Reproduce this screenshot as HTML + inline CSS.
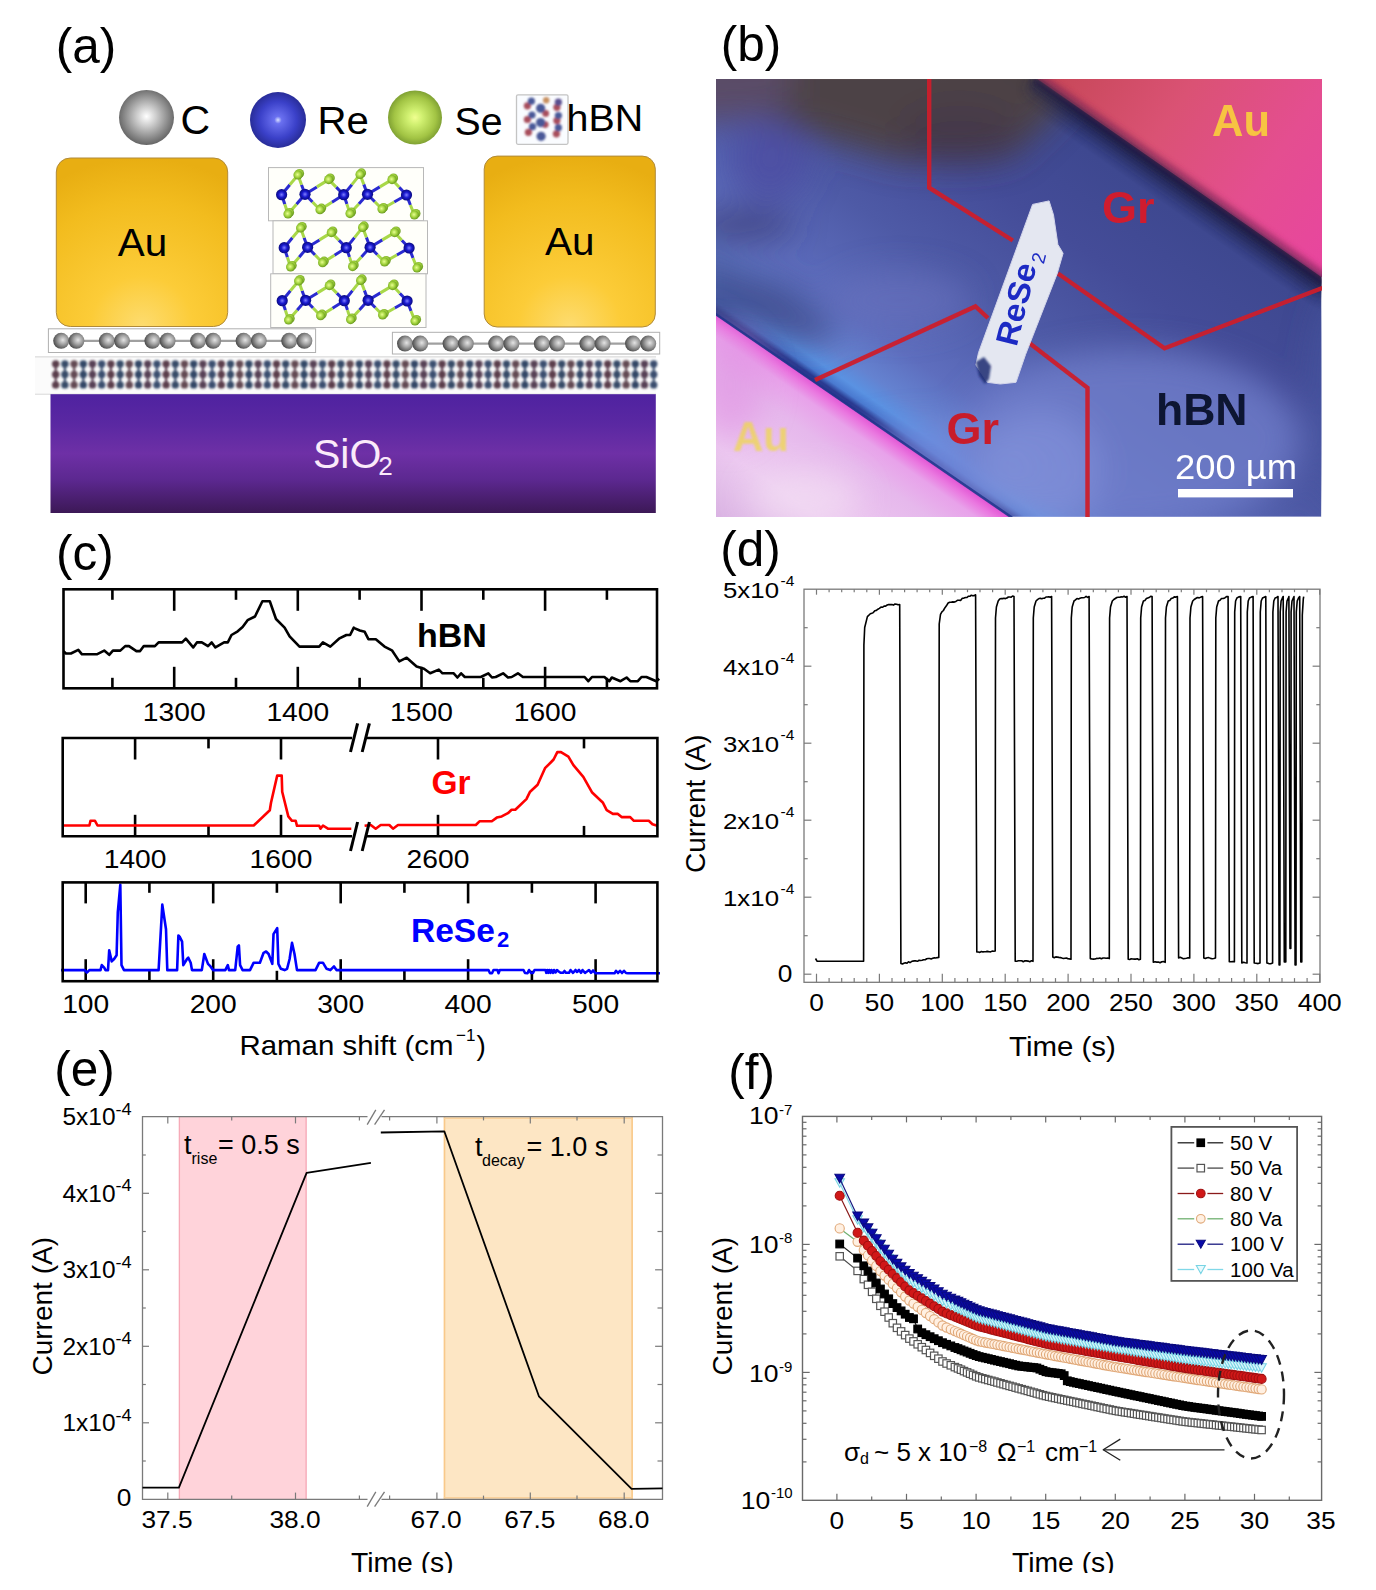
<!DOCTYPE html>
<html><head><meta charset="utf-8"><style>
html,body{margin:0;padding:0;background:#fff;overflow:hidden;width:1376px;height:1590px;}
svg{display:block;font-family:"Liberation Sans", sans-serif;}
</style></head><body>
<svg width="1376" height="1590" viewBox="0 0 1376 1590">
<defs>
<radialGradient id="gC" cx="0.5" cy="0.48" r="0.55"><stop offset="0" stop-color="#ffffff"/><stop offset="0.35" stop-color="#c8c8c8"/><stop offset="1" stop-color="#5c5c5c"/></radialGradient>
<radialGradient id="gRe" cx="0.5" cy="0.5" r="0.55"><stop offset="0" stop-color="#d8e0ff"/><stop offset="0.12" stop-color="#6a70f0"/><stop offset="0.6" stop-color="#3a40c8"/><stop offset="1" stop-color="#23278a"/></radialGradient>
<radialGradient id="gSe" cx="0.5" cy="0.5" r="0.55"><stop offset="0" stop-color="#f0ff90"/><stop offset="0.25" stop-color="#d0f070"/><stop offset="0.7" stop-color="#a2c444"/><stop offset="1" stop-color="#71922c"/></radialGradient>
<radialGradient id="gAu" cx="0.5" cy="1.0" r="1.0"><stop offset="0" stop-color="#fddc70"/><stop offset="0.3" stop-color="#fccc38"/><stop offset="0.75" stop-color="#f2bc1e"/><stop offset="1" stop-color="#e8ae12"/></radialGradient>
<radialGradient id="gGr" cx="0.6" cy="0.45" r="0.6"><stop offset="0" stop-color="#e4e4e4"/><stop offset="0.45" stop-color="#a4a4a4"/><stop offset="1" stop-color="#4a4a4a"/></radialGradient>
<linearGradient id="gSi" x1="0" y1="0" x2="0" y2="1"><stop offset="0" stop-color="#4f22a0"/><stop offset="0.25" stop-color="#5a28a2"/><stop offset="0.5" stop-color="#6e30a6"/><stop offset="0.72" stop-color="#5c2890"/><stop offset="1" stop-color="#3c1856"/></linearGradient>
<radialGradient id="gReS" cx="0.5" cy="0.5" r="0.5"><stop offset="0" stop-color="#8080ff"/><stop offset="0.5" stop-color="#1a1ad0"/><stop offset="1" stop-color="#0a0a80"/></radialGradient>
<radialGradient id="gSeS" cx="0.45" cy="0.45" r="0.55"><stop offset="0" stop-color="#e8ff90"/><stop offset="0.6" stop-color="#9ed03a"/><stop offset="1" stop-color="#6a9a20"/></radialGradient>

<filter id="bl07a" x="-20%" y="-20%" width="140%" height="140%"><feGaussianBlur stdDeviation="0.8"/></filter>
<g id="reLayer"><line x1="281.6" y1="194.7" x2="284.8" y2="204.3" stroke="#2a2ad0" stroke-width="3"/><line x1="284.8" y1="204.3" x2="288" y2="214" stroke="#a8d848" stroke-width="3"/><line x1="281.6" y1="194.7" x2="289.8" y2="184.8" stroke="#2a2ad0" stroke-width="3"/><line x1="289.8" y1="184.8" x2="298" y2="175" stroke="#a8d848" stroke-width="3"/><line x1="305" y1="194.3" x2="301.5" y2="184.7" stroke="#2a2ad0" stroke-width="3"/><line x1="301.5" y1="184.7" x2="298" y2="175" stroke="#a8d848" stroke-width="3"/><line x1="305" y1="194.3" x2="312.5" y2="202" stroke="#2a2ad0" stroke-width="3"/><line x1="312.5" y1="202" x2="320" y2="209.7" stroke="#a8d848" stroke-width="3"/><line x1="305" y1="194.3" x2="316.9" y2="186.9" stroke="#2a2ad0" stroke-width="3"/><line x1="316.9" y1="186.9" x2="328.7" y2="179.6" stroke="#a8d848" stroke-width="3"/><line x1="305" y1="194.3" x2="296.5" y2="204.2" stroke="#2a2ad0" stroke-width="3"/><line x1="296.5" y1="204.2" x2="288" y2="214" stroke="#a8d848" stroke-width="3"/><line x1="343.7" y1="194.7" x2="336.2" y2="187.1" stroke="#2a2ad0" stroke-width="3"/><line x1="336.2" y1="187.1" x2="328.7" y2="179.6" stroke="#a8d848" stroke-width="3"/><line x1="343.7" y1="194.7" x2="331.9" y2="202.2" stroke="#2a2ad0" stroke-width="3"/><line x1="331.9" y1="202.2" x2="320" y2="209.7" stroke="#a8d848" stroke-width="3"/><line x1="343.7" y1="194.7" x2="346.9" y2="204.1" stroke="#2a2ad0" stroke-width="3"/><line x1="346.9" y1="204.1" x2="350" y2="213.6" stroke="#a8d848" stroke-width="3"/><line x1="343.7" y1="194.7" x2="351.9" y2="184.6" stroke="#2a2ad0" stroke-width="3"/><line x1="351.9" y1="184.6" x2="360" y2="174.4" stroke="#a8d848" stroke-width="3"/><line x1="367.5" y1="194.3" x2="363.8" y2="184.4" stroke="#2a2ad0" stroke-width="3"/><line x1="363.8" y1="184.4" x2="360" y2="174.4" stroke="#a8d848" stroke-width="3"/><line x1="367.5" y1="194.3" x2="358.8" y2="203.9" stroke="#2a2ad0" stroke-width="3"/><line x1="358.8" y1="203.9" x2="350" y2="213.6" stroke="#a8d848" stroke-width="3"/><line x1="367.5" y1="194.3" x2="379.8" y2="186.9" stroke="#2a2ad0" stroke-width="3"/><line x1="379.8" y1="186.9" x2="392" y2="179.6" stroke="#a8d848" stroke-width="3"/><line x1="367.5" y1="194.3" x2="374.8" y2="201.7" stroke="#2a2ad0" stroke-width="3"/><line x1="374.8" y1="201.7" x2="382" y2="209" stroke="#a8d848" stroke-width="3"/><line x1="406.5" y1="195" x2="399.2" y2="187.3" stroke="#2a2ad0" stroke-width="3"/><line x1="399.2" y1="187.3" x2="392" y2="179.6" stroke="#a8d848" stroke-width="3"/><line x1="406.5" y1="195" x2="410.4" y2="205" stroke="#2a2ad0" stroke-width="3"/><line x1="410.4" y1="205" x2="414.4" y2="215" stroke="#a8d848" stroke-width="3"/><line x1="406.5" y1="195" x2="394.2" y2="202" stroke="#2a2ad0" stroke-width="3"/><line x1="394.2" y1="202" x2="382" y2="209" stroke="#a8d848" stroke-width="3"/><circle cx="299.5" cy="173.5" r="4.6" fill="url(#gSeS)"/><circle cx="298" cy="175" r="4.6" fill="url(#gSeS)"/><circle cx="330.2" cy="178.1" r="4.6" fill="url(#gSeS)"/><circle cx="328.7" cy="179.6" r="4.6" fill="url(#gSeS)"/><circle cx="361.5" cy="172.9" r="4.6" fill="url(#gSeS)"/><circle cx="360" cy="174.4" r="4.6" fill="url(#gSeS)"/><circle cx="393.5" cy="178.1" r="4.6" fill="url(#gSeS)"/><circle cx="392" cy="179.6" r="4.6" fill="url(#gSeS)"/><circle cx="289.5" cy="212.5" r="4.6" fill="url(#gSeS)"/><circle cx="288" cy="214" r="4.6" fill="url(#gSeS)"/><circle cx="321.5" cy="208.2" r="4.6" fill="url(#gSeS)"/><circle cx="320" cy="209.7" r="4.6" fill="url(#gSeS)"/><circle cx="351.5" cy="212.1" r="4.6" fill="url(#gSeS)"/><circle cx="350" cy="213.6" r="4.6" fill="url(#gSeS)"/><circle cx="383.5" cy="207.5" r="4.6" fill="url(#gSeS)"/><circle cx="382" cy="209" r="4.6" fill="url(#gSeS)"/><circle cx="415.9" cy="213.5" r="4.6" fill="url(#gSeS)"/><circle cx="414.4" cy="215" r="4.6" fill="url(#gSeS)"/><circle cx="281.6" cy="194.7" r="5.6" fill="url(#gReS)"/><circle cx="305" cy="194.3" r="5.6" fill="url(#gReS)"/><circle cx="343.7" cy="194.7" r="5.6" fill="url(#gReS)"/><circle cx="367.5" cy="194.3" r="5.6" fill="url(#gReS)"/><circle cx="406.5" cy="195" r="5.6" fill="url(#gReS)"/></g>
<filter id="blur06" x="-2%" y="-20%" width="104%" height="140%"><feGaussianBlur stdDeviation="0.8"/></filter>

<clipPath id="clipB"><rect x="716" y="79.5" width="605.3" height="437.3"/></clipPath>
<filter id="bl3" x="-20%" y="-20%" width="140%" height="140%"><feGaussianBlur stdDeviation="3"/></filter>
<filter id="bl6" x="-30%" y="-30%" width="160%" height="160%"><feGaussianBlur stdDeviation="6"/></filter>
<filter id="bl12" x="-50%" y="-50%" width="200%" height="200%"><feGaussianBlur stdDeviation="16"/></filter>
<filter id="bl1" x="-20%" y="-20%" width="140%" height="140%"><feGaussianBlur stdDeviation="1"/></filter>
<filter id="bl07" x="-20%" y="-20%" width="140%" height="140%"><feGaussianBlur stdDeviation="0.7"/></filter>
<linearGradient id="gBbase" gradientUnits="userSpaceOnUse" x1="1180" y1="179" x2="966" y2="487">
 <stop offset="0" stop-color="#1e1e46"/><stop offset="0.03" stop-color="#2e3878"/><stop offset="0.08" stop-color="#3e4890"/>
 <stop offset="0.3" stop-color="#444c98"/><stop offset="0.55" stop-color="#4e5aa6"/><stop offset="0.8" stop-color="#5e6ebe"/>
 <stop offset="0.9" stop-color="#6482d0"/><stop offset="0.95" stop-color="#5a92e2"/><stop offset="0.975" stop-color="#4a7ad0"/>
 <stop offset="0.99" stop-color="#2a3a90"/><stop offset="1" stop-color="#2a3a90"/></linearGradient>
<linearGradient id="gPinkTR" gradientUnits="userSpaceOnUse" x1="1060" y1="80" x2="1321" y2="260"><stop offset="0" stop-color="#c8485a"/><stop offset="0.35" stop-color="#da5274"/><stop offset="0.7" stop-color="#e44e90"/><stop offset="1" stop-color="#e8469e"/></linearGradient>
<linearGradient id="gPinkBL" gradientUnits="userSpaceOnUse" x1="862" y1="416" x2="760" y2="563"><stop offset="0" stop-color="#e45ad6"/><stop offset="0.04" stop-color="#ea78e0"/><stop offset="0.1" stop-color="#e8a2ea"/><stop offset="0.25" stop-color="#e6b8ec"/><stop offset="0.6" stop-color="#eccaf0"/><stop offset="1" stop-color="#d6aee0"/></linearGradient>
</defs>
<text x="55.7" y="62.6" font-size="49.5" fill="#000" text-anchor="start" font-weight="normal" >(a)</text>
<circle cx="146.5" cy="117.5" r="27.5" fill="url(#gC)"/>
<text x="180.5" y="134" font-size="41" fill="#000" text-anchor="start" font-weight="normal" >C</text>
<circle cx="278" cy="120" r="28" fill="url(#gRe)"/>
<text transform="translate(317.5,133.8) scale(1.030,1)" font-size="39" fill="#000" text-anchor="start" font-weight="normal" >Re</text>
<circle cx="415" cy="117.5" r="27" fill="url(#gSe)"/>
<text transform="translate(454.5,135.2) scale(1.020,1)" font-size="38.5" fill="#000" text-anchor="start" font-weight="normal" >Se</text>
<rect x="516.5" y="94.8" width="51.5" height="49.5" rx="1.5" fill="#fafcff" stroke="#c4c4c4" stroke-width="1.3"/>
<g filter="url(#bl07a)"><circle cx="527.4" cy="105.8" r="3.6" fill="#a84e5c"/><circle cx="531.4" cy="101.2" r="3.6" fill="#4a5898"/><circle cx="527.4" cy="119.5" r="3.6" fill="#a84e5c"/><circle cx="532" cy="115" r="3.6" fill="#4a5898"/><circle cx="528.4" cy="132.3" r="3.6" fill="#a84e5c"/><circle cx="532.5" cy="126.7" r="3.6" fill="#4a5898"/><circle cx="546.2" cy="100.2" r="3.2" fill="#c89060"/><circle cx="545.7" cy="113.4" r="3.4" fill="#a84e5c"/><circle cx="540.6" cy="108.3" r="4.6" fill="#4a5898"/><circle cx="545.2" cy="124.6" r="3.4" fill="#a84e5c"/><circle cx="540.6" cy="122.6" r="4.6" fill="#4a5898"/><circle cx="541.1" cy="136.3" r="4.6" fill="#4a5898"/><circle cx="556.9" cy="107.3" r="3.6" fill="#a84e5c"/><circle cx="558.4" cy="102.2" r="3.6" fill="#5a5090"/><circle cx="556.9" cy="120.6" r="3.6" fill="#a84e5c"/><circle cx="558.4" cy="115.5" r="3.6" fill="#4a5898"/><circle cx="556.4" cy="133.8" r="3.6" fill="#a84e5c"/><circle cx="558.4" cy="127.7" r="3.6" fill="#4a5898"/></g>
<text transform="translate(566.5,131.3) scale(1.050,1)" font-size="37.5" fill="#000" text-anchor="start" font-weight="normal" >hBN</text>
<rect x="56.3" y="158" width="171.4" height="168.5" rx="14" fill="url(#gAu)" stroke="#b08a3a" stroke-width="1"/>
<text transform="translate(117.8,256.3) scale(1.050,1)" font-size="38.5" fill="#000" text-anchor="start" font-weight="normal" >Au</text>
<rect x="484.2" y="156.1" width="171.1" height="170.9" rx="13" fill="url(#gAu)" stroke="#b08a3a" stroke-width="1"/>
<text transform="translate(545,255) scale(1.050,1)" font-size="38.5" fill="#000" text-anchor="start" font-weight="normal" >Au</text>
<rect x="268.5" y="167.6" width="155" height="53.2" fill="#fffffa" stroke="#b8b8b8" stroke-width="1" />
<rect x="273" y="220.8" width="154.5" height="53" fill="#fffffa" stroke="#b8b8b8" stroke-width="1" />
<rect x="270.7" y="273.8" width="155.3" height="53.7" fill="#fffffa" stroke="#b8b8b8" stroke-width="1" />
<use href="#reLayer" transform="translate(0,0)"/>
<use href="#reLayer" transform="translate(2.6,53)"/>
<use href="#reLayer" transform="translate(0.6,106)"/>
<rect x="48.4" y="328.8" width="267.2" height="23.7" fill="#fff" stroke="#b0b0b0" stroke-width="1" />
<line x1="61.2" y1="340.8" x2="304.4" y2="340.8" stroke="#a0a0a0" stroke-width="2.2" />
<circle cx="61.2" cy="340.8" r="8" fill="url(#gGr)"/>
<circle cx="76.4" cy="340.8" r="8" fill="url(#gGr)"/>
<circle cx="106.8" cy="340.8" r="8" fill="url(#gGr)"/>
<circle cx="122" cy="340.8" r="8" fill="url(#gGr)"/>
<circle cx="152.4" cy="340.8" r="8" fill="url(#gGr)"/>
<circle cx="167.6" cy="340.8" r="8" fill="url(#gGr)"/>
<circle cx="198" cy="340.8" r="8" fill="url(#gGr)"/>
<circle cx="213.2" cy="340.8" r="8" fill="url(#gGr)"/>
<circle cx="243.6" cy="340.8" r="8" fill="url(#gGr)"/>
<circle cx="258.8" cy="340.8" r="8" fill="url(#gGr)"/>
<circle cx="289.2" cy="340.8" r="8" fill="url(#gGr)"/>
<circle cx="304.4" cy="340.8" r="8" fill="url(#gGr)"/>
<rect x="392.4" y="332.3" width="267.3" height="21.7" fill="#fff" stroke="#b0b0b0" stroke-width="1" />
<line x1="405" y1="343.6" x2="648.2" y2="343.6" stroke="#a0a0a0" stroke-width="2.2" />
<circle cx="405" cy="343.6" r="8" fill="url(#gGr)"/>
<circle cx="420.2" cy="343.6" r="8" fill="url(#gGr)"/>
<circle cx="450.6" cy="343.6" r="8" fill="url(#gGr)"/>
<circle cx="465.8" cy="343.6" r="8" fill="url(#gGr)"/>
<circle cx="496.2" cy="343.6" r="8" fill="url(#gGr)"/>
<circle cx="511.4" cy="343.6" r="8" fill="url(#gGr)"/>
<circle cx="541.8" cy="343.6" r="8" fill="url(#gGr)"/>
<circle cx="557" cy="343.6" r="8" fill="url(#gGr)"/>
<circle cx="587.4" cy="343.6" r="8" fill="url(#gGr)"/>
<circle cx="602.6" cy="343.6" r="8" fill="url(#gGr)"/>
<circle cx="633" cy="343.6" r="8" fill="url(#gGr)"/>
<circle cx="648.2" cy="343.6" r="8" fill="url(#gGr)"/>
<line x1="35" y1="357" x2="656" y2="357" stroke="#c8c8c8" stroke-width="1.2" />
<line x1="35" y1="394" x2="656" y2="394" stroke="#c8c8c8" stroke-width="1.2" />
<rect x="35" y="357.6" width="621" height="36" fill="#fbfbfb" stroke="none" stroke-width="1" />
<g filter="url(#blur06)" opacity="0.92"><line x1="55.7" y1="364" x2="55.7" y2="385" stroke="#4e2e3e" stroke-width="2.2"/><circle cx="55.7" cy="364" r="3.7" fill="#4e2e3e"/><circle cx="55.7" cy="374.4" r="3.7" fill="#4e2e3e"/><circle cx="55.7" cy="384.9" r="3.7" fill="#4e2e3e"/><line x1="64.9" y1="364" x2="64.9" y2="385" stroke="#263c5c" stroke-width="2.2"/><circle cx="64.9" cy="364" r="3.7" fill="#263c5c"/><circle cx="64.9" cy="374.4" r="3.7" fill="#263c5c"/><circle cx="64.9" cy="384.9" r="3.7" fill="#263c5c"/><line x1="74.1" y1="364" x2="74.1" y2="385" stroke="#563a44" stroke-width="2.2"/><circle cx="74.1" cy="364" r="3.7" fill="#563a44"/><circle cx="74.1" cy="374.4" r="3.7" fill="#563a44"/><circle cx="74.1" cy="384.9" r="3.7" fill="#563a44"/><line x1="83.3" y1="364" x2="83.3" y2="385" stroke="#22385a" stroke-width="2.2"/><circle cx="83.3" cy="364" r="3.7" fill="#22385a"/><circle cx="83.3" cy="374.4" r="3.7" fill="#22385a"/><circle cx="83.3" cy="384.9" r="3.7" fill="#22385a"/><line x1="92.5" y1="364" x2="92.5" y2="385" stroke="#4a3046" stroke-width="2.2"/><circle cx="92.5" cy="364" r="3.7" fill="#4a3046"/><circle cx="92.5" cy="374.4" r="3.7" fill="#4a3046"/><circle cx="92.5" cy="384.9" r="3.7" fill="#4a3046"/><line x1="101.7" y1="364" x2="101.7" y2="385" stroke="#2a4064" stroke-width="2.2"/><circle cx="101.7" cy="364" r="3.7" fill="#2a4064"/><circle cx="101.7" cy="374.4" r="3.7" fill="#2a4064"/><circle cx="101.7" cy="384.9" r="3.7" fill="#2a4064"/><line x1="110.9" y1="364" x2="110.9" y2="385" stroke="#4e2e3e" stroke-width="2.2"/><circle cx="110.9" cy="364" r="3.7" fill="#4e2e3e"/><circle cx="110.9" cy="374.4" r="3.7" fill="#4e2e3e"/><circle cx="110.9" cy="384.9" r="3.7" fill="#4e2e3e"/><line x1="120.1" y1="364" x2="120.1" y2="385" stroke="#263c5c" stroke-width="2.2"/><circle cx="120.1" cy="364" r="3.7" fill="#263c5c"/><circle cx="120.1" cy="374.4" r="3.7" fill="#263c5c"/><circle cx="120.1" cy="384.9" r="3.7" fill="#263c5c"/><line x1="129.3" y1="364" x2="129.3" y2="385" stroke="#563a44" stroke-width="2.2"/><circle cx="129.3" cy="364" r="3.7" fill="#563a44"/><circle cx="129.3" cy="374.4" r="3.7" fill="#563a44"/><circle cx="129.3" cy="384.9" r="3.7" fill="#563a44"/><line x1="138.5" y1="364" x2="138.5" y2="385" stroke="#22385a" stroke-width="2.2"/><circle cx="138.5" cy="364" r="3.7" fill="#22385a"/><circle cx="138.5" cy="374.4" r="3.7" fill="#22385a"/><circle cx="138.5" cy="384.9" r="3.7" fill="#22385a"/><line x1="147.7" y1="364" x2="147.7" y2="385" stroke="#4a3046" stroke-width="2.2"/><circle cx="147.7" cy="364" r="3.7" fill="#4a3046"/><circle cx="147.7" cy="374.4" r="3.7" fill="#4a3046"/><circle cx="147.7" cy="384.9" r="3.7" fill="#4a3046"/><line x1="156.9" y1="364" x2="156.9" y2="385" stroke="#2a4064" stroke-width="2.2"/><circle cx="156.9" cy="364" r="3.7" fill="#2a4064"/><circle cx="156.9" cy="374.4" r="3.7" fill="#2a4064"/><circle cx="156.9" cy="384.9" r="3.7" fill="#2a4064"/><line x1="166.1" y1="364" x2="166.1" y2="385" stroke="#4e2e3e" stroke-width="2.2"/><circle cx="166.1" cy="364" r="3.7" fill="#4e2e3e"/><circle cx="166.1" cy="374.4" r="3.7" fill="#4e2e3e"/><circle cx="166.1" cy="384.9" r="3.7" fill="#4e2e3e"/><line x1="175.3" y1="364" x2="175.3" y2="385" stroke="#263c5c" stroke-width="2.2"/><circle cx="175.3" cy="364" r="3.7" fill="#263c5c"/><circle cx="175.3" cy="374.4" r="3.7" fill="#263c5c"/><circle cx="175.3" cy="384.9" r="3.7" fill="#263c5c"/><line x1="184.5" y1="364" x2="184.5" y2="385" stroke="#563a44" stroke-width="2.2"/><circle cx="184.5" cy="364" r="3.7" fill="#563a44"/><circle cx="184.5" cy="374.4" r="3.7" fill="#563a44"/><circle cx="184.5" cy="384.9" r="3.7" fill="#563a44"/><line x1="193.7" y1="364" x2="193.7" y2="385" stroke="#22385a" stroke-width="2.2"/><circle cx="193.7" cy="364" r="3.7" fill="#22385a"/><circle cx="193.7" cy="374.4" r="3.7" fill="#22385a"/><circle cx="193.7" cy="384.9" r="3.7" fill="#22385a"/><line x1="202.9" y1="364" x2="202.9" y2="385" stroke="#4a3046" stroke-width="2.2"/><circle cx="202.9" cy="364" r="3.7" fill="#4a3046"/><circle cx="202.9" cy="374.4" r="3.7" fill="#4a3046"/><circle cx="202.9" cy="384.9" r="3.7" fill="#4a3046"/><line x1="212.1" y1="364" x2="212.1" y2="385" stroke="#2a4064" stroke-width="2.2"/><circle cx="212.1" cy="364" r="3.7" fill="#2a4064"/><circle cx="212.1" cy="374.4" r="3.7" fill="#2a4064"/><circle cx="212.1" cy="384.9" r="3.7" fill="#2a4064"/><line x1="221.3" y1="364" x2="221.3" y2="385" stroke="#4e2e3e" stroke-width="2.2"/><circle cx="221.3" cy="364" r="3.7" fill="#4e2e3e"/><circle cx="221.3" cy="374.4" r="3.7" fill="#4e2e3e"/><circle cx="221.3" cy="384.9" r="3.7" fill="#4e2e3e"/><line x1="230.5" y1="364" x2="230.5" y2="385" stroke="#263c5c" stroke-width="2.2"/><circle cx="230.5" cy="364" r="3.7" fill="#263c5c"/><circle cx="230.5" cy="374.4" r="3.7" fill="#263c5c"/><circle cx="230.5" cy="384.9" r="3.7" fill="#263c5c"/><line x1="239.7" y1="364" x2="239.7" y2="385" stroke="#563a44" stroke-width="2.2"/><circle cx="239.7" cy="364" r="3.7" fill="#563a44"/><circle cx="239.7" cy="374.4" r="3.7" fill="#563a44"/><circle cx="239.7" cy="384.9" r="3.7" fill="#563a44"/><line x1="248.9" y1="364" x2="248.9" y2="385" stroke="#22385a" stroke-width="2.2"/><circle cx="248.9" cy="364" r="3.7" fill="#22385a"/><circle cx="248.9" cy="374.4" r="3.7" fill="#22385a"/><circle cx="248.9" cy="384.9" r="3.7" fill="#22385a"/><line x1="258.1" y1="364" x2="258.1" y2="385" stroke="#4a3046" stroke-width="2.2"/><circle cx="258.1" cy="364" r="3.7" fill="#4a3046"/><circle cx="258.1" cy="374.4" r="3.7" fill="#4a3046"/><circle cx="258.1" cy="384.9" r="3.7" fill="#4a3046"/><line x1="267.3" y1="364" x2="267.3" y2="385" stroke="#2a4064" stroke-width="2.2"/><circle cx="267.3" cy="364" r="3.7" fill="#2a4064"/><circle cx="267.3" cy="374.4" r="3.7" fill="#2a4064"/><circle cx="267.3" cy="384.9" r="3.7" fill="#2a4064"/><line x1="276.5" y1="364" x2="276.5" y2="385" stroke="#4e2e3e" stroke-width="2.2"/><circle cx="276.5" cy="364" r="3.7" fill="#4e2e3e"/><circle cx="276.5" cy="374.4" r="3.7" fill="#4e2e3e"/><circle cx="276.5" cy="384.9" r="3.7" fill="#4e2e3e"/><line x1="285.7" y1="364" x2="285.7" y2="385" stroke="#263c5c" stroke-width="2.2"/><circle cx="285.7" cy="364" r="3.7" fill="#263c5c"/><circle cx="285.7" cy="374.4" r="3.7" fill="#263c5c"/><circle cx="285.7" cy="384.9" r="3.7" fill="#263c5c"/><line x1="294.9" y1="364" x2="294.9" y2="385" stroke="#563a44" stroke-width="2.2"/><circle cx="294.9" cy="364" r="3.7" fill="#563a44"/><circle cx="294.9" cy="374.4" r="3.7" fill="#563a44"/><circle cx="294.9" cy="384.9" r="3.7" fill="#563a44"/><line x1="304.1" y1="364" x2="304.1" y2="385" stroke="#22385a" stroke-width="2.2"/><circle cx="304.1" cy="364" r="3.7" fill="#22385a"/><circle cx="304.1" cy="374.4" r="3.7" fill="#22385a"/><circle cx="304.1" cy="384.9" r="3.7" fill="#22385a"/><line x1="313.3" y1="364" x2="313.3" y2="385" stroke="#4a3046" stroke-width="2.2"/><circle cx="313.3" cy="364" r="3.7" fill="#4a3046"/><circle cx="313.3" cy="374.4" r="3.7" fill="#4a3046"/><circle cx="313.3" cy="384.9" r="3.7" fill="#4a3046"/><line x1="322.5" y1="364" x2="322.5" y2="385" stroke="#2a4064" stroke-width="2.2"/><circle cx="322.5" cy="364" r="3.7" fill="#2a4064"/><circle cx="322.5" cy="374.4" r="3.7" fill="#2a4064"/><circle cx="322.5" cy="384.9" r="3.7" fill="#2a4064"/><line x1="331.7" y1="364" x2="331.7" y2="385" stroke="#4e2e3e" stroke-width="2.2"/><circle cx="331.7" cy="364" r="3.7" fill="#4e2e3e"/><circle cx="331.7" cy="374.4" r="3.7" fill="#4e2e3e"/><circle cx="331.7" cy="384.9" r="3.7" fill="#4e2e3e"/><line x1="340.9" y1="364" x2="340.9" y2="385" stroke="#263c5c" stroke-width="2.2"/><circle cx="340.9" cy="364" r="3.7" fill="#263c5c"/><circle cx="340.9" cy="374.4" r="3.7" fill="#263c5c"/><circle cx="340.9" cy="384.9" r="3.7" fill="#263c5c"/><line x1="350.1" y1="364" x2="350.1" y2="385" stroke="#563a44" stroke-width="2.2"/><circle cx="350.1" cy="364" r="3.7" fill="#563a44"/><circle cx="350.1" cy="374.4" r="3.7" fill="#563a44"/><circle cx="350.1" cy="384.9" r="3.7" fill="#563a44"/><line x1="359.3" y1="364" x2="359.3" y2="385" stroke="#22385a" stroke-width="2.2"/><circle cx="359.3" cy="364" r="3.7" fill="#22385a"/><circle cx="359.3" cy="374.4" r="3.7" fill="#22385a"/><circle cx="359.3" cy="384.9" r="3.7" fill="#22385a"/><line x1="368.5" y1="364" x2="368.5" y2="385" stroke="#4a3046" stroke-width="2.2"/><circle cx="368.5" cy="364" r="3.7" fill="#4a3046"/><circle cx="368.5" cy="374.4" r="3.7" fill="#4a3046"/><circle cx="368.5" cy="384.9" r="3.7" fill="#4a3046"/><line x1="377.7" y1="364" x2="377.7" y2="385" stroke="#2a4064" stroke-width="2.2"/><circle cx="377.7" cy="364" r="3.7" fill="#2a4064"/><circle cx="377.7" cy="374.4" r="3.7" fill="#2a4064"/><circle cx="377.7" cy="384.9" r="3.7" fill="#2a4064"/><line x1="386.9" y1="364" x2="386.9" y2="385" stroke="#4e2e3e" stroke-width="2.2"/><circle cx="386.9" cy="364" r="3.7" fill="#4e2e3e"/><circle cx="386.9" cy="374.4" r="3.7" fill="#4e2e3e"/><circle cx="386.9" cy="384.9" r="3.7" fill="#4e2e3e"/><line x1="396.1" y1="364" x2="396.1" y2="385" stroke="#263c5c" stroke-width="2.2"/><circle cx="396.1" cy="364" r="3.7" fill="#263c5c"/><circle cx="396.1" cy="374.4" r="3.7" fill="#263c5c"/><circle cx="396.1" cy="384.9" r="3.7" fill="#263c5c"/><line x1="405.3" y1="364" x2="405.3" y2="385" stroke="#563a44" stroke-width="2.2"/><circle cx="405.3" cy="364" r="3.7" fill="#563a44"/><circle cx="405.3" cy="374.4" r="3.7" fill="#563a44"/><circle cx="405.3" cy="384.9" r="3.7" fill="#563a44"/><line x1="414.5" y1="364" x2="414.5" y2="385" stroke="#22385a" stroke-width="2.2"/><circle cx="414.5" cy="364" r="3.7" fill="#22385a"/><circle cx="414.5" cy="374.4" r="3.7" fill="#22385a"/><circle cx="414.5" cy="384.9" r="3.7" fill="#22385a"/><line x1="423.7" y1="364" x2="423.7" y2="385" stroke="#4a3046" stroke-width="2.2"/><circle cx="423.7" cy="364" r="3.7" fill="#4a3046"/><circle cx="423.7" cy="374.4" r="3.7" fill="#4a3046"/><circle cx="423.7" cy="384.9" r="3.7" fill="#4a3046"/><line x1="432.9" y1="364" x2="432.9" y2="385" stroke="#2a4064" stroke-width="2.2"/><circle cx="432.9" cy="364" r="3.7" fill="#2a4064"/><circle cx="432.9" cy="374.4" r="3.7" fill="#2a4064"/><circle cx="432.9" cy="384.9" r="3.7" fill="#2a4064"/><line x1="442.1" y1="364" x2="442.1" y2="385" stroke="#4e2e3e" stroke-width="2.2"/><circle cx="442.1" cy="364" r="3.7" fill="#4e2e3e"/><circle cx="442.1" cy="374.4" r="3.7" fill="#4e2e3e"/><circle cx="442.1" cy="384.9" r="3.7" fill="#4e2e3e"/><line x1="451.3" y1="364" x2="451.3" y2="385" stroke="#263c5c" stroke-width="2.2"/><circle cx="451.3" cy="364" r="3.7" fill="#263c5c"/><circle cx="451.3" cy="374.4" r="3.7" fill="#263c5c"/><circle cx="451.3" cy="384.9" r="3.7" fill="#263c5c"/><line x1="460.5" y1="364" x2="460.5" y2="385" stroke="#563a44" stroke-width="2.2"/><circle cx="460.5" cy="364" r="3.7" fill="#563a44"/><circle cx="460.5" cy="374.4" r="3.7" fill="#563a44"/><circle cx="460.5" cy="384.9" r="3.7" fill="#563a44"/><line x1="469.7" y1="364" x2="469.7" y2="385" stroke="#22385a" stroke-width="2.2"/><circle cx="469.7" cy="364" r="3.7" fill="#22385a"/><circle cx="469.7" cy="374.4" r="3.7" fill="#22385a"/><circle cx="469.7" cy="384.9" r="3.7" fill="#22385a"/><line x1="478.9" y1="364" x2="478.9" y2="385" stroke="#4a3046" stroke-width="2.2"/><circle cx="478.9" cy="364" r="3.7" fill="#4a3046"/><circle cx="478.9" cy="374.4" r="3.7" fill="#4a3046"/><circle cx="478.9" cy="384.9" r="3.7" fill="#4a3046"/><line x1="488.1" y1="364" x2="488.1" y2="385" stroke="#2a4064" stroke-width="2.2"/><circle cx="488.1" cy="364" r="3.7" fill="#2a4064"/><circle cx="488.1" cy="374.4" r="3.7" fill="#2a4064"/><circle cx="488.1" cy="384.9" r="3.7" fill="#2a4064"/><line x1="497.3" y1="364" x2="497.3" y2="385" stroke="#4e2e3e" stroke-width="2.2"/><circle cx="497.3" cy="364" r="3.7" fill="#4e2e3e"/><circle cx="497.3" cy="374.4" r="3.7" fill="#4e2e3e"/><circle cx="497.3" cy="384.9" r="3.7" fill="#4e2e3e"/><line x1="506.5" y1="364" x2="506.5" y2="385" stroke="#263c5c" stroke-width="2.2"/><circle cx="506.5" cy="364" r="3.7" fill="#263c5c"/><circle cx="506.5" cy="374.4" r="3.7" fill="#263c5c"/><circle cx="506.5" cy="384.9" r="3.7" fill="#263c5c"/><line x1="515.7" y1="364" x2="515.7" y2="385" stroke="#563a44" stroke-width="2.2"/><circle cx="515.7" cy="364" r="3.7" fill="#563a44"/><circle cx="515.7" cy="374.4" r="3.7" fill="#563a44"/><circle cx="515.7" cy="384.9" r="3.7" fill="#563a44"/><line x1="524.9" y1="364" x2="524.9" y2="385" stroke="#22385a" stroke-width="2.2"/><circle cx="524.9" cy="364" r="3.7" fill="#22385a"/><circle cx="524.9" cy="374.4" r="3.7" fill="#22385a"/><circle cx="524.9" cy="384.9" r="3.7" fill="#22385a"/><line x1="534.1" y1="364" x2="534.1" y2="385" stroke="#4a3046" stroke-width="2.2"/><circle cx="534.1" cy="364" r="3.7" fill="#4a3046"/><circle cx="534.1" cy="374.4" r="3.7" fill="#4a3046"/><circle cx="534.1" cy="384.9" r="3.7" fill="#4a3046"/><line x1="543.3" y1="364" x2="543.3" y2="385" stroke="#2a4064" stroke-width="2.2"/><circle cx="543.3" cy="364" r="3.7" fill="#2a4064"/><circle cx="543.3" cy="374.4" r="3.7" fill="#2a4064"/><circle cx="543.3" cy="384.9" r="3.7" fill="#2a4064"/><line x1="552.5" y1="364" x2="552.5" y2="385" stroke="#4e2e3e" stroke-width="2.2"/><circle cx="552.5" cy="364" r="3.7" fill="#4e2e3e"/><circle cx="552.5" cy="374.4" r="3.7" fill="#4e2e3e"/><circle cx="552.5" cy="384.9" r="3.7" fill="#4e2e3e"/><line x1="561.7" y1="364" x2="561.7" y2="385" stroke="#263c5c" stroke-width="2.2"/><circle cx="561.7" cy="364" r="3.7" fill="#263c5c"/><circle cx="561.7" cy="374.4" r="3.7" fill="#263c5c"/><circle cx="561.7" cy="384.9" r="3.7" fill="#263c5c"/><line x1="570.9" y1="364" x2="570.9" y2="385" stroke="#563a44" stroke-width="2.2"/><circle cx="570.9" cy="364" r="3.7" fill="#563a44"/><circle cx="570.9" cy="374.4" r="3.7" fill="#563a44"/><circle cx="570.9" cy="384.9" r="3.7" fill="#563a44"/><line x1="580.1" y1="364" x2="580.1" y2="385" stroke="#22385a" stroke-width="2.2"/><circle cx="580.1" cy="364" r="3.7" fill="#22385a"/><circle cx="580.1" cy="374.4" r="3.7" fill="#22385a"/><circle cx="580.1" cy="384.9" r="3.7" fill="#22385a"/><line x1="589.3" y1="364" x2="589.3" y2="385" stroke="#4a3046" stroke-width="2.2"/><circle cx="589.3" cy="364" r="3.7" fill="#4a3046"/><circle cx="589.3" cy="374.4" r="3.7" fill="#4a3046"/><circle cx="589.3" cy="384.9" r="3.7" fill="#4a3046"/><line x1="598.5" y1="364" x2="598.5" y2="385" stroke="#2a4064" stroke-width="2.2"/><circle cx="598.5" cy="364" r="3.7" fill="#2a4064"/><circle cx="598.5" cy="374.4" r="3.7" fill="#2a4064"/><circle cx="598.5" cy="384.9" r="3.7" fill="#2a4064"/><line x1="607.7" y1="364" x2="607.7" y2="385" stroke="#4e2e3e" stroke-width="2.2"/><circle cx="607.7" cy="364" r="3.7" fill="#4e2e3e"/><circle cx="607.7" cy="374.4" r="3.7" fill="#4e2e3e"/><circle cx="607.7" cy="384.9" r="3.7" fill="#4e2e3e"/><line x1="616.9" y1="364" x2="616.9" y2="385" stroke="#263c5c" stroke-width="2.2"/><circle cx="616.9" cy="364" r="3.7" fill="#263c5c"/><circle cx="616.9" cy="374.4" r="3.7" fill="#263c5c"/><circle cx="616.9" cy="384.9" r="3.7" fill="#263c5c"/><line x1="626.1" y1="364" x2="626.1" y2="385" stroke="#563a44" stroke-width="2.2"/><circle cx="626.1" cy="364" r="3.7" fill="#563a44"/><circle cx="626.1" cy="374.4" r="3.7" fill="#563a44"/><circle cx="626.1" cy="384.9" r="3.7" fill="#563a44"/><line x1="635.3" y1="364" x2="635.3" y2="385" stroke="#22385a" stroke-width="2.2"/><circle cx="635.3" cy="364" r="3.7" fill="#22385a"/><circle cx="635.3" cy="374.4" r="3.7" fill="#22385a"/><circle cx="635.3" cy="384.9" r="3.7" fill="#22385a"/><line x1="644.5" y1="364" x2="644.5" y2="385" stroke="#4a3046" stroke-width="2.2"/><circle cx="644.5" cy="364" r="3.7" fill="#4a3046"/><circle cx="644.5" cy="374.4" r="3.7" fill="#4a3046"/><circle cx="644.5" cy="384.9" r="3.7" fill="#4a3046"/><line x1="653.7" y1="364" x2="653.7" y2="385" stroke="#2a4064" stroke-width="2.2"/><circle cx="653.7" cy="364" r="3.7" fill="#2a4064"/><circle cx="653.7" cy="374.4" r="3.7" fill="#2a4064"/><circle cx="653.7" cy="384.9" r="3.7" fill="#2a4064"/></g>
<rect x="50.5" y="394.2" width="605.3" height="118.8" fill="url(#gSi)" stroke="none" stroke-width="1" />
<text x="313" y="467.5" font-size="41" fill="#fbeafa" text-anchor="start" font-weight="normal" >SiO</text>
<text x="378.3" y="474.5" font-size="26" fill="#fbeafa" text-anchor="start" font-weight="normal" >2</text>
<text x="720.7" y="61" font-size="49.5" fill="#000" text-anchor="start" font-weight="normal" >(b)</text>
<g clip-path="url(#clipB)">
<rect x="716" y="79.5" width="605.3" height="437.3" fill="url(#gBbase)" stroke="none" stroke-width="1" />
<g filter="url(#bl12)">
<polygon points="680,40 1060,40 1075,95 1010,158 905,162 810,135 760,112 680,112" fill="#4e4040" opacity="0.95"/>
<polygon points="680,40 790,40 790,100 760,118 680,125" fill="#5c4c6a" opacity="0.9"/>
<ellipse cx="960" cy="135" rx="60" ry="30" fill="#40344a" opacity="0.7"/>
<ellipse cx="770" cy="160" rx="38" ry="40" fill="#4e4ca2" opacity="0.8"/>
<ellipse cx="740" cy="225" rx="55" ry="16" fill="#383870" opacity="0.7"/>
<polygon points="690,250 790,285 840,330 820,345 690,320" fill="#3e4a8c" opacity="0.85"/>
<ellipse cx="900" cy="300" rx="70" ry="28" fill="#6870bc" opacity="0.6"/>
<ellipse cx="930" cy="470" rx="110" ry="45" fill="#7888d8" opacity="0.7"/>
<ellipse cx="1130" cy="440" rx="170" ry="90" fill="#7280cc" opacity="0.75"/>
<ellipse cx="1040" cy="470" rx="60" ry="60" fill="#8494dc" opacity="0.6"/>
<ellipse cx="1340" cy="400" rx="30" ry="110" fill="#4a58a4" opacity="0.6"/>
</g>
<polygon points="1030,74 1330,74 1330,283" fill="url(#gPinkTR)"/>
<line x1="1030" y1="84" x2="1325" y2="291" stroke="#26264e" stroke-width="14" opacity="0.6" filter="url(#bl6)"/>
<line x1="1034" y1="80" x2="1325" y2="284" stroke="#1e1c44" stroke-width="8" opacity="0.8" filter="url(#bl3)"/>
<line x1="1040" y1="76" x2="1330" y2="279" stroke="#902c58" stroke-width="6" opacity="0.6" filter="url(#bl3)"/>
<polygon points="706,308.4 1016,521.3 706,521.3" fill="url(#gPinkBL)"/>
<ellipse cx="805" cy="498" rx="55" ry="28" fill="#f4e2f4" opacity="0.6" filter="url(#bl12)"/>
<ellipse cx="730" cy="385" rx="35" ry="55" fill="#e08ee2" opacity="0.55" filter="url(#bl12)"/>
<line x1="712" y1="311.6" x2="1012" y2="517.6" stroke="#22348c" stroke-width="2.5" opacity="0.85" filter="url(#bl07)"/>
<g filter="url(#bl07)">
<polyline points="929.2,76 929.2,187.7 1012.8,240.5" fill="none" stroke="#cc1f2d" stroke-width="4.4" stroke-linejoin="miter" opacity="0.95"/>
<polyline points="1058,273.5 1164.5,348.2 1325,287" fill="none" stroke="#cc1f2d" stroke-width="4.4" stroke-linejoin="miter" opacity="0.95"/>
<polyline points="815,380 975.4,306.4 988,318" fill="none" stroke="#cc1f2d" stroke-width="4.4" stroke-linejoin="miter" opacity="0.95"/>
<polyline points="1028,342 1087.5,387.8 1087.5,520" fill="none" stroke="#cc1f2d" stroke-width="4.4" stroke-linejoin="miter" opacity="0.95"/>
</g>
<polygon points="1032.6,204.4 1049.1,200.9 1053.5,214.9 1057.9,244.5 1063.1,253.3 1057,274.2 1025.6,354.4 1016,382.3 1000.3,384 987.2,382.3 975.9,364.9 978.5,352.7" fill="#e4e7f1" stroke="#d4d6ea" stroke-width="1" filter="url(#bl07)"/>
<polygon points="976,362 984,357 991,366 989,379 985,384 979,376" fill="#1a2a70" opacity="0.85" filter="url(#bl1)"/>
<g filter="url(#bl07)">
<g transform="translate(1016.5,347.5) rotate(-76)"><text x="0" y="0" font-size="31.5" font-weight="bold" fill="#1c2ac4" textLength="84" lengthAdjust="spacingAndGlyphs">ReSe</text><text x="87" y="6.5" font-size="19" fill="#1c2ac4">2</text></g>
<text x="1212" y="135.5" font-size="43.5" fill="#f7c342" text-anchor="start" font-weight="bold" >Au</text>
<text x="1102" y="222.5" font-size="45" fill="#d01e2e" text-anchor="start" font-weight="bold" >Gr</text>
<text x="946.5" y="443.5" font-size="45" fill="#c81e2c" text-anchor="start" font-weight="bold" >Gr</text>
<text x="733" y="451" font-size="42" font-weight="bold" fill="#f0dc38" opacity="0.65" filter="url(#bl1)">Au</text>
<text x="1156" y="424.5" font-size="44.5" fill="#0c1230" text-anchor="start" font-weight="bold" >hBN</text>
</g>
<text transform="translate(1175,478.5) scale(1.040,1)" font-size="35" fill="#ffffff" text-anchor="start" font-weight="normal" >200 µm</text>
<rect x="1178" y="489" width="115" height="8.4" fill="#ffffff" stroke="none" stroke-width="1" />
</g>
<text x="56" y="570" font-size="49.5" fill="#000" text-anchor="start" font-weight="normal" >(c)</text>
<line x1="174.2" y1="589.3" x2="174.2" y2="610.8" stroke="#000" stroke-width="2.6" />
<line x1="174.2" y1="688.3" x2="174.2" y2="666.8" stroke="#000" stroke-width="2.6" />
<text transform="translate(174.2,720.5) scale(1.130,1)" font-size="25" fill="#000" text-anchor="middle" font-weight="normal" >1300</text>
<line x1="297.8" y1="589.3" x2="297.8" y2="610.8" stroke="#000" stroke-width="2.6" />
<line x1="297.8" y1="688.3" x2="297.8" y2="666.8" stroke="#000" stroke-width="2.6" />
<text transform="translate(297.8,720.5) scale(1.130,1)" font-size="25" fill="#000" text-anchor="middle" font-weight="normal" >1400</text>
<line x1="421.5" y1="589.3" x2="421.5" y2="610.8" stroke="#000" stroke-width="2.6" />
<line x1="421.5" y1="688.3" x2="421.5" y2="666.8" stroke="#000" stroke-width="2.6" />
<text transform="translate(421.5,720.5) scale(1.130,1)" font-size="25" fill="#000" text-anchor="middle" font-weight="normal" >1500</text>
<line x1="545.1" y1="589.3" x2="545.1" y2="610.8" stroke="#000" stroke-width="2.6" />
<line x1="545.1" y1="688.3" x2="545.1" y2="666.8" stroke="#000" stroke-width="2.6" />
<text transform="translate(545.1,720.5) scale(1.130,1)" font-size="25" fill="#000" text-anchor="middle" font-weight="normal" >1600</text>
<line x1="112.4" y1="589.3" x2="112.4" y2="599.8" stroke="#000" stroke-width="2.6" />
<line x1="112.4" y1="688.3" x2="112.4" y2="677.8" stroke="#000" stroke-width="2.6" />
<line x1="236" y1="589.3" x2="236" y2="599.8" stroke="#000" stroke-width="2.6" />
<line x1="236" y1="688.3" x2="236" y2="677.8" stroke="#000" stroke-width="2.6" />
<line x1="359.6" y1="589.3" x2="359.6" y2="599.8" stroke="#000" stroke-width="2.6" />
<line x1="359.6" y1="688.3" x2="359.6" y2="677.8" stroke="#000" stroke-width="2.6" />
<line x1="483.3" y1="589.3" x2="483.3" y2="599.8" stroke="#000" stroke-width="2.6" />
<line x1="483.3" y1="688.3" x2="483.3" y2="677.8" stroke="#000" stroke-width="2.6" />
<line x1="606.9" y1="589.3" x2="606.9" y2="599.8" stroke="#000" stroke-width="2.6" />
<line x1="606.9" y1="688.3" x2="606.9" y2="677.8" stroke="#000" stroke-width="2.6" />
<polyline points="63.5,651.1 65.9,653.5 70.9,653.5 78.3,649.8 82,654.3 96.8,654.3 104.2,650.6 109.2,654.8 112.9,650.6 120.3,650.6 125.2,646.1 129,646.1 136.4,651.1 140.1,651.1 143.8,646.1 154.9,646.1 158.6,642.4 182.1,642.4 185.8,638.7 193.2,647.4 196.9,642.4 201.8,642.4 208,646.1 211.7,642.4 215.4,647.4 224.1,642.4 227.8,642.4 231.5,635 237.7,631.3 242.6,627.1 247.6,620.2 255,616.5 262.4,601.2 269.8,601.2 276,619 284.6,627.6 289.6,636.3 299.5,646.6 319.2,646.6 322.9,642.4 330.3,646.6 339,638.7 346.4,635 350.1,635 353.8,627.6 354.3,628.1 359.8,630.5 364.7,631.8 368.4,639.2 375.8,639.2 384.5,646.6 391.9,650.3 399.3,661.4 406.7,657.7 416.6,666.4 424,668.8 430.2,673.3 438.8,669.6 442.5,673.3 453.7,673.3 457.4,677.5 461.1,673.3 464.8,677 480.8,677 488.3,673.3 492,677.5 495.7,677 503.1,673.3 508,677.5 511.7,677 517.9,673.3 522.9,677 584.6,677 588.3,681.2 592,677 604.4,677 609.3,681.2 611.8,677.5 620.5,681.2 626.6,677.5 630.3,681.2 637.8,681.2 641.5,677 646.4,677 656.3,681.2 659.2,678.7" fill="none" stroke="#000" stroke-width="2.6" stroke-linejoin="round" />
<rect x="63.5" y="589.3" width="593.5" height="99" fill="none" stroke="#000" stroke-width="2.6" />
<text x="417" y="646.5" font-size="34" fill="#000" text-anchor="start" font-weight="bold" >hBN</text>
<line x1="135.1" y1="738" x2="135.1" y2="759.5" stroke="#000" stroke-width="2.6" />
<line x1="135.1" y1="836.3" x2="135.1" y2="814.8" stroke="#000" stroke-width="2.6" />
<line x1="281" y1="738" x2="281" y2="759.5" stroke="#000" stroke-width="2.6" />
<line x1="281" y1="836.3" x2="281" y2="814.8" stroke="#000" stroke-width="2.6" />
<line x1="438" y1="738" x2="438" y2="759.5" stroke="#000" stroke-width="2.6" />
<line x1="438" y1="836.3" x2="438" y2="814.8" stroke="#000" stroke-width="2.6" />
<line x1="208.5" y1="738" x2="208.5" y2="748.4" stroke="#000" stroke-width="2.6" />
<line x1="208.5" y1="836.3" x2="208.5" y2="825.9" stroke="#000" stroke-width="2.6" />
<line x1="584" y1="738" x2="584" y2="748.4" stroke="#000" stroke-width="2.6" />
<line x1="584" y1="836.3" x2="584" y2="825.9" stroke="#000" stroke-width="2.6" />
<text transform="translate(135.1,868.3) scale(1.130,1)" font-size="25" fill="#000" text-anchor="middle" font-weight="normal" >1400</text>
<text transform="translate(281,868.3) scale(1.130,1)" font-size="25" fill="#000" text-anchor="middle" font-weight="normal" >1600</text>
<text transform="translate(438,868.3) scale(1.130,1)" font-size="25" fill="#000" text-anchor="middle" font-weight="normal" >2600</text>
<polyline points="62.7,825.5 89.4,825.5 90.5,820.8 95,820.8 97.5,825.5 253.7,825.5 269.8,810.2 271,802.8 277.2,775.6 281.7,775.6 282.2,791.7 288.3,816.4 292,820.8 295.7,820.8 297,825.8 319.2,825.8 320.5,828.7 323,825.5 327.9,828.7 351.3,828.7" fill="none" stroke="#ff0000" stroke-width="2.6" stroke-linejoin="round" />
<polyline points="364.6,825.8 370.8,825 375.7,828.7 380.7,825 389.3,825 393,828.7 398,825 475.8,825 479.5,821.3 491.8,821.3 496.8,817.6 501.7,816.4 507.9,813.2 511.6,809.7 515.3,809.7 526.4,799.1 530.1,791.7 537.6,784.7 545,768.2 551.2,762 553.6,759.5 557.3,752.1 561,752.1 568.4,756.6 573.4,765.2 583.3,776.8 591.9,792.2 603,802.8 606.7,810.2 612.9,813.9 617.9,813.9 621.6,817.1 630.2,817.1 633.9,820.8 648.8,820.8 652.5,824.3 657.4,825.8" fill="none" stroke="#ff0000" stroke-width="2.6" stroke-linejoin="round" />
<path d="M352,738 H62.7 V836.3 H352 M367,738 H657.4 V836.3 H367" fill="none" stroke="#000" stroke-width="2.6"/>
<line x1="350.5" y1="752" x2="357.6" y2="723.4" stroke="#000" stroke-width="3" />
<line x1="350.5" y1="851" x2="357.6" y2="822" stroke="#000" stroke-width="3" />
<line x1="362.2" y1="752" x2="369.4" y2="723.4" stroke="#000" stroke-width="3" />
<line x1="362.2" y1="851" x2="369.4" y2="822" stroke="#000" stroke-width="3" />
<text x="431.5" y="794" font-size="33.5" fill="#ff0000" text-anchor="start" font-weight="bold" >Gr</text>
<line x1="85.7" y1="882.4" x2="85.7" y2="903.4" stroke="#000" stroke-width="2.6" />
<line x1="85.7" y1="981.2" x2="85.7" y2="959.2" stroke="#000" stroke-width="2.6" />
<text transform="translate(85.7,1012.8) scale(1.130,1)" font-size="25" fill="#000" text-anchor="middle" font-weight="normal" >100</text>
<line x1="213.2" y1="882.4" x2="213.2" y2="903.4" stroke="#000" stroke-width="2.6" />
<line x1="213.2" y1="981.2" x2="213.2" y2="959.2" stroke="#000" stroke-width="2.6" />
<text transform="translate(213.2,1012.8) scale(1.130,1)" font-size="25" fill="#000" text-anchor="middle" font-weight="normal" >200</text>
<line x1="340.7" y1="882.4" x2="340.7" y2="903.4" stroke="#000" stroke-width="2.6" />
<line x1="340.7" y1="981.2" x2="340.7" y2="959.2" stroke="#000" stroke-width="2.6" />
<text transform="translate(340.7,1012.8) scale(1.130,1)" font-size="25" fill="#000" text-anchor="middle" font-weight="normal" >300</text>
<line x1="468.1" y1="882.4" x2="468.1" y2="903.4" stroke="#000" stroke-width="2.6" />
<line x1="468.1" y1="981.2" x2="468.1" y2="959.2" stroke="#000" stroke-width="2.6" />
<text transform="translate(468.1,1012.8) scale(1.130,1)" font-size="25" fill="#000" text-anchor="middle" font-weight="normal" >400</text>
<line x1="595.6" y1="882.4" x2="595.6" y2="903.4" stroke="#000" stroke-width="2.6" />
<line x1="595.6" y1="981.2" x2="595.6" y2="959.2" stroke="#000" stroke-width="2.6" />
<text transform="translate(595.6,1012.8) scale(1.130,1)" font-size="25" fill="#000" text-anchor="middle" font-weight="normal" >500</text>
<line x1="149.4" y1="882.4" x2="149.4" y2="892.8" stroke="#000" stroke-width="2.6" />
<line x1="149.4" y1="981.2" x2="149.4" y2="970.8" stroke="#000" stroke-width="2.6" />
<line x1="276.9" y1="882.4" x2="276.9" y2="892.8" stroke="#000" stroke-width="2.6" />
<line x1="276.9" y1="981.2" x2="276.9" y2="970.8" stroke="#000" stroke-width="2.6" />
<line x1="404.4" y1="882.4" x2="404.4" y2="892.8" stroke="#000" stroke-width="2.6" />
<line x1="404.4" y1="981.2" x2="404.4" y2="970.8" stroke="#000" stroke-width="2.6" />
<line x1="531.9" y1="882.4" x2="531.9" y2="892.8" stroke="#000" stroke-width="2.6" />
<line x1="531.9" y1="981.2" x2="531.9" y2="970.8" stroke="#000" stroke-width="2.6" />
<polyline points="61,970.1 84.5,970.1 86.9,972.5 89.4,970.1 100.5,970.1 101.8,965.1 104.2,967.6 105.5,970.1 108,970.1 109.2,950.3 111.7,961.4 114.1,959 116.6,955.2 117.8,912 120.3,884.8 121.5,965.1 124,970.1 158.6,970.1 162.3,904.6 166,929.3 167.3,970.1 177.1,970.1 178.4,935.5 179.6,936.7 182.1,941.7 183.3,965.1 187,959 188.3,957.7 190.7,962.7 192,970.1 201.8,970.1 204.3,954 208,963.9 210.5,966.4 213,970.1 225.3,970.1 227.8,965.1 229,970.1 235.2,970.1 237.7,946.6 238.9,945.4 240.1,965.1 242.6,970.1 250,970.1 253.7,962.7 259.9,962.7 263.6,952.8 266.1,951.5 268.6,954 272.3,963.9 273.5,934.2 277.2,928.1 278.4,963.9 280.9,968.8 284.6,970.1 287.1,968.8 289.6,959 292,942.9 294.5,954 297,970.1 315.5,970.1 319.2,962.7 322.9,962.7 326.6,968.8 330.3,970.1 334,966.4 336.5,970.1 488.5,970 490,973.2 492,973.2 493.5,970 497.5,970 498.5,973.2 499.8,970 523.5,970 525,973 527.5,973.2 529,970 531,973 533,973 534.5,970 545.5,970 546.3,972.8 547.3,970 548.3,972.8 549.3,970 550.5,972.8 551.5,970 553,972.8 554,970 555.5,972.5 557,970 558,971 560.5,972.8 563,972.8 564.5,971 566,972.8 569,972.8 570.5,970 573,972.8 575.5,970 577,972 579,970 581,972.8 582.5,970 585,972.8 587,971.5 589,970 591,972.8 593,970.5 595.6,973.3 614.5,973.3 616,970.8 618,973 620,970.8 622,973 624,970.8 626,973 628,973.3 660,973.3" fill="none" stroke="#0000ff" stroke-width="2.6" stroke-linejoin="round" />
<rect x="62.7" y="882.4" width="594.7" height="98.8" fill="none" stroke="#000" stroke-width="2.6" />
<text x="411" y="941.7" font-size="33.5" fill="#0000ff" text-anchor="start" font-weight="bold" >ReSe</text>
<text x="497" y="946.5" font-size="22" fill="#0000ff" text-anchor="start" font-weight="bold" >2</text>
<text x="239.5" y="1055" font-size="28" textLength="214" lengthAdjust="spacingAndGlyphs">Raman shift (cm</text>
<text x="456" y="1041" font-size="17" fill="#000" text-anchor="start" font-weight="normal" >&#8722;1</text>
<text x="476.5" y="1055" font-size="28" fill="#000" text-anchor="start" font-weight="normal" >)</text>
<text x="720.2" y="566.3" font-size="49.5" fill="#000" text-anchor="start" font-weight="normal" >(d)</text>
<line x1="804" y1="974.2" x2="811.4" y2="974.2" stroke="#7a7a7a" stroke-width="1.2" />
<line x1="1320" y1="974.2" x2="1312.6" y2="974.2" stroke="#7a7a7a" stroke-width="1.2" />
<line x1="804" y1="935.7" x2="807.7" y2="935.7" stroke="#7a7a7a" stroke-width="1.2" />
<line x1="1320" y1="935.7" x2="1316.3" y2="935.7" stroke="#7a7a7a" stroke-width="1.2" />
<line x1="804" y1="897.2" x2="811.4" y2="897.2" stroke="#7a7a7a" stroke-width="1.2" />
<line x1="1320" y1="897.2" x2="1312.6" y2="897.2" stroke="#7a7a7a" stroke-width="1.2" />
<line x1="804" y1="858.7" x2="807.7" y2="858.7" stroke="#7a7a7a" stroke-width="1.2" />
<line x1="1320" y1="858.7" x2="1316.3" y2="858.7" stroke="#7a7a7a" stroke-width="1.2" />
<line x1="804" y1="820.2" x2="811.4" y2="820.2" stroke="#7a7a7a" stroke-width="1.2" />
<line x1="1320" y1="820.2" x2="1312.6" y2="820.2" stroke="#7a7a7a" stroke-width="1.2" />
<line x1="804" y1="781.7" x2="807.7" y2="781.7" stroke="#7a7a7a" stroke-width="1.2" />
<line x1="1320" y1="781.7" x2="1316.3" y2="781.7" stroke="#7a7a7a" stroke-width="1.2" />
<line x1="804" y1="743.2" x2="811.4" y2="743.2" stroke="#7a7a7a" stroke-width="1.2" />
<line x1="1320" y1="743.2" x2="1312.6" y2="743.2" stroke="#7a7a7a" stroke-width="1.2" />
<line x1="804" y1="704.7" x2="807.7" y2="704.7" stroke="#7a7a7a" stroke-width="1.2" />
<line x1="1320" y1="704.7" x2="1316.3" y2="704.7" stroke="#7a7a7a" stroke-width="1.2" />
<line x1="804" y1="666.2" x2="811.4" y2="666.2" stroke="#7a7a7a" stroke-width="1.2" />
<line x1="1320" y1="666.2" x2="1312.6" y2="666.2" stroke="#7a7a7a" stroke-width="1.2" />
<line x1="804" y1="627.7" x2="807.7" y2="627.7" stroke="#7a7a7a" stroke-width="1.2" />
<line x1="1320" y1="627.7" x2="1316.3" y2="627.7" stroke="#7a7a7a" stroke-width="1.2" />
<line x1="816.5" y1="982.3" x2="816.5" y2="973.7" stroke="#7a7a7a" stroke-width="1.2" />
<line x1="816.5" y1="589.2" x2="816.5" y2="594.7" stroke="#7a7a7a" stroke-width="1.2" />
<text transform="translate(816.5,1010.8) scale(1.120,1)" font-size="23.5" fill="#000" text-anchor="middle" font-weight="normal" >0</text>
<line x1="829.1" y1="982.3" x2="829.1" y2="978.1" stroke="#7a7a7a" stroke-width="1.2" />
<line x1="829.1" y1="589.2" x2="829.1" y2="592.2" stroke="#7a7a7a" stroke-width="1.2" />
<line x1="841.7" y1="982.3" x2="841.7" y2="978.1" stroke="#7a7a7a" stroke-width="1.2" />
<line x1="841.7" y1="589.2" x2="841.7" y2="592.2" stroke="#7a7a7a" stroke-width="1.2" />
<line x1="854.2" y1="982.3" x2="854.2" y2="978.1" stroke="#7a7a7a" stroke-width="1.2" />
<line x1="854.2" y1="589.2" x2="854.2" y2="592.2" stroke="#7a7a7a" stroke-width="1.2" />
<line x1="866.8" y1="982.3" x2="866.8" y2="978.1" stroke="#7a7a7a" stroke-width="1.2" />
<line x1="866.8" y1="589.2" x2="866.8" y2="592.2" stroke="#7a7a7a" stroke-width="1.2" />
<line x1="879.4" y1="982.3" x2="879.4" y2="973.7" stroke="#7a7a7a" stroke-width="1.2" />
<line x1="879.4" y1="589.2" x2="879.4" y2="594.7" stroke="#7a7a7a" stroke-width="1.2" />
<text transform="translate(879.4,1010.8) scale(1.120,1)" font-size="23.5" fill="#000" text-anchor="middle" font-weight="normal" >50</text>
<line x1="892" y1="982.3" x2="892" y2="978.1" stroke="#7a7a7a" stroke-width="1.2" />
<line x1="892" y1="589.2" x2="892" y2="592.2" stroke="#7a7a7a" stroke-width="1.2" />
<line x1="904.6" y1="982.3" x2="904.6" y2="978.1" stroke="#7a7a7a" stroke-width="1.2" />
<line x1="904.6" y1="589.2" x2="904.6" y2="592.2" stroke="#7a7a7a" stroke-width="1.2" />
<line x1="917.1" y1="982.3" x2="917.1" y2="978.1" stroke="#7a7a7a" stroke-width="1.2" />
<line x1="917.1" y1="589.2" x2="917.1" y2="592.2" stroke="#7a7a7a" stroke-width="1.2" />
<line x1="929.7" y1="982.3" x2="929.7" y2="978.1" stroke="#7a7a7a" stroke-width="1.2" />
<line x1="929.7" y1="589.2" x2="929.7" y2="592.2" stroke="#7a7a7a" stroke-width="1.2" />
<line x1="942.3" y1="982.3" x2="942.3" y2="973.7" stroke="#7a7a7a" stroke-width="1.2" />
<line x1="942.3" y1="589.2" x2="942.3" y2="594.7" stroke="#7a7a7a" stroke-width="1.2" />
<text transform="translate(942.3,1010.8) scale(1.120,1)" font-size="23.5" fill="#000" text-anchor="middle" font-weight="normal" >100</text>
<line x1="954.9" y1="982.3" x2="954.9" y2="978.1" stroke="#7a7a7a" stroke-width="1.2" />
<line x1="954.9" y1="589.2" x2="954.9" y2="592.2" stroke="#7a7a7a" stroke-width="1.2" />
<line x1="967.5" y1="982.3" x2="967.5" y2="978.1" stroke="#7a7a7a" stroke-width="1.2" />
<line x1="967.5" y1="589.2" x2="967.5" y2="592.2" stroke="#7a7a7a" stroke-width="1.2" />
<line x1="980" y1="982.3" x2="980" y2="978.1" stroke="#7a7a7a" stroke-width="1.2" />
<line x1="980" y1="589.2" x2="980" y2="592.2" stroke="#7a7a7a" stroke-width="1.2" />
<line x1="992.6" y1="982.3" x2="992.6" y2="978.1" stroke="#7a7a7a" stroke-width="1.2" />
<line x1="992.6" y1="589.2" x2="992.6" y2="592.2" stroke="#7a7a7a" stroke-width="1.2" />
<line x1="1005.2" y1="982.3" x2="1005.2" y2="973.7" stroke="#7a7a7a" stroke-width="1.2" />
<line x1="1005.2" y1="589.2" x2="1005.2" y2="594.7" stroke="#7a7a7a" stroke-width="1.2" />
<text transform="translate(1005.2,1010.8) scale(1.120,1)" font-size="23.5" fill="#000" text-anchor="middle" font-weight="normal" >150</text>
<line x1="1017.8" y1="982.3" x2="1017.8" y2="978.1" stroke="#7a7a7a" stroke-width="1.2" />
<line x1="1017.8" y1="589.2" x2="1017.8" y2="592.2" stroke="#7a7a7a" stroke-width="1.2" />
<line x1="1030.4" y1="982.3" x2="1030.4" y2="978.1" stroke="#7a7a7a" stroke-width="1.2" />
<line x1="1030.4" y1="589.2" x2="1030.4" y2="592.2" stroke="#7a7a7a" stroke-width="1.2" />
<line x1="1042.9" y1="982.3" x2="1042.9" y2="978.1" stroke="#7a7a7a" stroke-width="1.2" />
<line x1="1042.9" y1="589.2" x2="1042.9" y2="592.2" stroke="#7a7a7a" stroke-width="1.2" />
<line x1="1055.5" y1="982.3" x2="1055.5" y2="978.1" stroke="#7a7a7a" stroke-width="1.2" />
<line x1="1055.5" y1="589.2" x2="1055.5" y2="592.2" stroke="#7a7a7a" stroke-width="1.2" />
<line x1="1068.1" y1="982.3" x2="1068.1" y2="973.7" stroke="#7a7a7a" stroke-width="1.2" />
<line x1="1068.1" y1="589.2" x2="1068.1" y2="594.7" stroke="#7a7a7a" stroke-width="1.2" />
<text transform="translate(1068.1,1010.8) scale(1.120,1)" font-size="23.5" fill="#000" text-anchor="middle" font-weight="normal" >200</text>
<line x1="1080.7" y1="982.3" x2="1080.7" y2="978.1" stroke="#7a7a7a" stroke-width="1.2" />
<line x1="1080.7" y1="589.2" x2="1080.7" y2="592.2" stroke="#7a7a7a" stroke-width="1.2" />
<line x1="1093.3" y1="982.3" x2="1093.3" y2="978.1" stroke="#7a7a7a" stroke-width="1.2" />
<line x1="1093.3" y1="589.2" x2="1093.3" y2="592.2" stroke="#7a7a7a" stroke-width="1.2" />
<line x1="1105.8" y1="982.3" x2="1105.8" y2="978.1" stroke="#7a7a7a" stroke-width="1.2" />
<line x1="1105.8" y1="589.2" x2="1105.8" y2="592.2" stroke="#7a7a7a" stroke-width="1.2" />
<line x1="1118.4" y1="982.3" x2="1118.4" y2="978.1" stroke="#7a7a7a" stroke-width="1.2" />
<line x1="1118.4" y1="589.2" x2="1118.4" y2="592.2" stroke="#7a7a7a" stroke-width="1.2" />
<line x1="1131" y1="982.3" x2="1131" y2="973.7" stroke="#7a7a7a" stroke-width="1.2" />
<line x1="1131" y1="589.2" x2="1131" y2="594.7" stroke="#7a7a7a" stroke-width="1.2" />
<text transform="translate(1131,1010.8) scale(1.120,1)" font-size="23.5" fill="#000" text-anchor="middle" font-weight="normal" >250</text>
<line x1="1143.6" y1="982.3" x2="1143.6" y2="978.1" stroke="#7a7a7a" stroke-width="1.2" />
<line x1="1143.6" y1="589.2" x2="1143.6" y2="592.2" stroke="#7a7a7a" stroke-width="1.2" />
<line x1="1156.2" y1="982.3" x2="1156.2" y2="978.1" stroke="#7a7a7a" stroke-width="1.2" />
<line x1="1156.2" y1="589.2" x2="1156.2" y2="592.2" stroke="#7a7a7a" stroke-width="1.2" />
<line x1="1168.7" y1="982.3" x2="1168.7" y2="978.1" stroke="#7a7a7a" stroke-width="1.2" />
<line x1="1168.7" y1="589.2" x2="1168.7" y2="592.2" stroke="#7a7a7a" stroke-width="1.2" />
<line x1="1181.3" y1="982.3" x2="1181.3" y2="978.1" stroke="#7a7a7a" stroke-width="1.2" />
<line x1="1181.3" y1="589.2" x2="1181.3" y2="592.2" stroke="#7a7a7a" stroke-width="1.2" />
<line x1="1193.9" y1="982.3" x2="1193.9" y2="973.7" stroke="#7a7a7a" stroke-width="1.2" />
<line x1="1193.9" y1="589.2" x2="1193.9" y2="594.7" stroke="#7a7a7a" stroke-width="1.2" />
<text transform="translate(1193.9,1010.8) scale(1.120,1)" font-size="23.5" fill="#000" text-anchor="middle" font-weight="normal" >300</text>
<line x1="1206.5" y1="982.3" x2="1206.5" y2="978.1" stroke="#7a7a7a" stroke-width="1.2" />
<line x1="1206.5" y1="589.2" x2="1206.5" y2="592.2" stroke="#7a7a7a" stroke-width="1.2" />
<line x1="1219.1" y1="982.3" x2="1219.1" y2="978.1" stroke="#7a7a7a" stroke-width="1.2" />
<line x1="1219.1" y1="589.2" x2="1219.1" y2="592.2" stroke="#7a7a7a" stroke-width="1.2" />
<line x1="1231.6" y1="982.3" x2="1231.6" y2="978.1" stroke="#7a7a7a" stroke-width="1.2" />
<line x1="1231.6" y1="589.2" x2="1231.6" y2="592.2" stroke="#7a7a7a" stroke-width="1.2" />
<line x1="1244.2" y1="982.3" x2="1244.2" y2="978.1" stroke="#7a7a7a" stroke-width="1.2" />
<line x1="1244.2" y1="589.2" x2="1244.2" y2="592.2" stroke="#7a7a7a" stroke-width="1.2" />
<line x1="1256.8" y1="982.3" x2="1256.8" y2="973.7" stroke="#7a7a7a" stroke-width="1.2" />
<line x1="1256.8" y1="589.2" x2="1256.8" y2="594.7" stroke="#7a7a7a" stroke-width="1.2" />
<text transform="translate(1256.8,1010.8) scale(1.120,1)" font-size="23.5" fill="#000" text-anchor="middle" font-weight="normal" >350</text>
<line x1="1269.4" y1="982.3" x2="1269.4" y2="978.1" stroke="#7a7a7a" stroke-width="1.2" />
<line x1="1269.4" y1="589.2" x2="1269.4" y2="592.2" stroke="#7a7a7a" stroke-width="1.2" />
<line x1="1282" y1="982.3" x2="1282" y2="978.1" stroke="#7a7a7a" stroke-width="1.2" />
<line x1="1282" y1="589.2" x2="1282" y2="592.2" stroke="#7a7a7a" stroke-width="1.2" />
<line x1="1294.5" y1="982.3" x2="1294.5" y2="978.1" stroke="#7a7a7a" stroke-width="1.2" />
<line x1="1294.5" y1="589.2" x2="1294.5" y2="592.2" stroke="#7a7a7a" stroke-width="1.2" />
<line x1="1307.1" y1="982.3" x2="1307.1" y2="978.1" stroke="#7a7a7a" stroke-width="1.2" />
<line x1="1307.1" y1="589.2" x2="1307.1" y2="592.2" stroke="#7a7a7a" stroke-width="1.2" />
<line x1="1319.7" y1="982.3" x2="1319.7" y2="973.7" stroke="#7a7a7a" stroke-width="1.2" />
<line x1="1319.7" y1="589.2" x2="1319.7" y2="594.7" stroke="#7a7a7a" stroke-width="1.2" />
<text transform="translate(1319.7,1010.8) scale(1.120,1)" font-size="23.5" fill="#000" text-anchor="middle" font-weight="normal" >400</text>
<rect x="804" y="589.2" width="516" height="393.1" fill="none" stroke="#7a7a7a" stroke-width="1.3" />
<text x="779" y="905.7" font-size="22.5" text-anchor="end" textLength="56" lengthAdjust="spacingAndGlyphs">1x10</text>
<text x="780.5" y="893.7" font-size="15.5" fill="#000" text-anchor="start" font-weight="normal" >-4</text>
<text x="779" y="828.7" font-size="22.5" text-anchor="end" textLength="56" lengthAdjust="spacingAndGlyphs">2x10</text>
<text x="780.5" y="816.7" font-size="15.5" fill="#000" text-anchor="start" font-weight="normal" >-4</text>
<text x="779" y="751.7" font-size="22.5" text-anchor="end" textLength="56" lengthAdjust="spacingAndGlyphs">3x10</text>
<text x="780.5" y="739.7" font-size="15.5" fill="#000" text-anchor="start" font-weight="normal" >-4</text>
<text x="779" y="674.7" font-size="22.5" text-anchor="end" textLength="56" lengthAdjust="spacingAndGlyphs">4x10</text>
<text x="780.5" y="662.7" font-size="15.5" fill="#000" text-anchor="start" font-weight="normal" >-4</text>
<text x="779" y="597.7" font-size="22.5" text-anchor="end" textLength="56" lengthAdjust="spacingAndGlyphs">5x10</text>
<text x="780.5" y="585.7" font-size="15.5" fill="#000" text-anchor="start" font-weight="normal" >-4</text>
<text transform="translate(792.5,981.7) scale(1.120,1)" font-size="23.5" fill="#000" text-anchor="end" font-weight="normal" >0</text>
<text transform="translate(705,873) rotate(-90)" font-size="28">Current (A)</text>
<text transform="translate(1009,1055.7) scale(1.040,1)" font-size="28.3" fill="#000" text-anchor="start" font-weight="normal" >Time (s)</text>
<polyline points="815.5,958.5 817,961.2 863.6,961.2 863.9,645 864.7,627.5 867.4,616.6 868.9,615.2 870.3,613.8 871.8,613.3 873.3,612.6 874.8,610.7 876.4,610.4 877.9,609.2 879.4,608.4 881,607.1 882.5,607.3 884.1,606 885.6,606.1 887.2,605 888.7,604.5 890.3,604.6 891.9,604.5 893.4,605.1 895,604 896.6,604.2 898.1,604.8 899.7,604.6 900.9,963.6 902.4,964 903.9,963.2 905.4,962.7 907,963.3 908.5,961.7 910,962.6 911.5,961.6 913,961.1 914.5,960.8 916.1,960.9 917.6,961.3 919.1,960.2 920.6,960.5 922.1,960.3 923.6,959.7 925.2,959.7 926.7,958.8 928.2,958.5 929.7,958.5 931.2,958.9 932.7,958.3 934.3,957.9 935.8,958 937.3,957.6 938.8,957.4 939.2,624 940.5,614.4 941.9,611.9 943.4,610.5 944.8,607.9 946.4,605.8 948.1,603 949.7,602.2 951.2,602.3 952.8,601.9 954.3,602.1 955.9,601.4 957.4,600.3 959,600.3 960.6,600.4 962.3,598.3 963.9,598.1 965.6,597.5 967,597.5 968.5,596.2 969.9,596.3 971.3,595.2 972.7,595.8 974.2,595.6 975.6,594.8 976.8,952 978.3,952 979.9,952.4 981.4,951.5 982.9,951.9 984.5,951.7 986,951.6 987.5,951.4 989.1,951.8 990.6,951.9 992.1,951.1 993.7,951.3 995.2,951 995.5,618 996.4,607 998.2,601 999.7,599 1001.2,598.5 1002.6,598.6 1004,598.3 1005.5,598.6 1006.9,598.1 1008.3,597 1009.7,597 1011.2,597.2 1012.6,596 1014,596.5 1015.2,961.3 1016.8,961.2 1018.4,960.8 1020.1,960.8 1021.7,960.7 1023.3,961.7 1024.9,960.8 1026.5,960.9 1028.1,961.1 1029.8,961.8 1031.4,960.7 1033,961.3 1033.3,618 1034.2,607 1036,601 1037.5,599.7 1039,598.5 1040.4,598.4 1041.8,598.7 1043.2,598.3 1044.6,598.2 1046,597 1047.4,597 1048.8,596.7 1050.2,597.3 1051.6,596.5 1052.8,957 1054.3,957.8 1055.8,956.9 1057.3,957.1 1058.9,957.4 1060.4,957.6 1061.9,958.1 1063.4,958.5 1064.9,958.2 1066.5,958 1068,958.8 1069.5,958.9 1071,959.3 1071.3,618 1072.2,607 1074,601 1075.5,599.9 1077,598.5 1078.5,599 1080,598.3 1081.5,597.8 1083.1,597.7 1084.6,597.5 1086.1,596.3 1087.6,597.4 1089.1,596.5 1090.3,958.6 1091.9,959 1093.5,959.1 1095,959 1096.6,958.4 1098.2,958.5 1099.8,958 1101.4,958.8 1103,958 1104.5,958 1106.1,958.2 1107.7,958.1 1109.3,958.6 1109.6,618 1110.5,607 1112.3,601 1113.8,599.5 1115.3,598.5 1116.8,597.5 1118.2,597.2 1119.7,597.2 1121.2,596.9 1122.6,597 1124.1,596.2 1125.5,597.3 1127,596.5 1128.2,959.3 1129.7,959.5 1131.2,958.8 1132.8,959 1134.3,959.1 1135.8,959.1 1137.3,958.8 1138.9,959.8 1140.4,959.3 1140.7,618 1141.6,607 1143.4,601 1144.9,600.5 1146.4,598.5 1147.8,597.9 1149.2,597.5 1150.7,596.3 1152.1,596.5 1153.3,962.3 1155,961.7 1156.7,962.1 1158.4,962 1160.1,962.8 1161.8,961.8 1163.5,961.6 1165.2,962.3 1165.5,618 1166.4,607 1168.2,601 1169.7,600.5 1171.2,598.5 1172.8,598 1174.3,596.9 1175.9,597.1 1177.4,596.5 1178.6,958 1180.2,957.3 1181.8,958 1183.4,958.7 1184.9,958.5 1186.5,958.3 1188.1,957.7 1189.7,958 1190,618 1190.9,607 1192.7,601 1194.2,599.5 1195.7,598.5 1197.4,597.5 1199.2,597.9 1200.9,597.1 1202.6,596.5 1203.8,958 1205.5,958.4 1207.1,957.8 1208.8,957.6 1210.5,958.4 1212.2,958.7 1213.8,958.5 1215.5,958 1215.8,618 1216.7,607 1218.5,601 1220,600.2 1221.5,598.5 1223.2,598.5 1224.8,597.9 1226.5,596.6 1228.1,596.5 1229.3,961.8 1231,961.8 1232.7,961.6 1234.4,961.8 1234.7,612 1235.6,601 1236.9,598 1238.8,596.9 1240.7,596.5 1241.8,963 1243.5,962.3 1245.3,962.7 1247,963 1247.3,612 1248.2,601 1249.5,598 1251.3,597.1 1253.1,596.5 1254.2,963 1256.1,963.3 1258.1,963.6 1260,963 1260.3,612 1261.2,601 1262.5,598 1264.2,597.2 1265.8,596.5 1266.9,963 1268.8,963.6 1270.7,963.7 1272.6,963 1272.9,612 1273.8,601 1275.1,598 1276.5,597.6 1278,596.5 1279.1,965 1279.9,965 1280.2,612 1281.1,601 1282.4,598 1283.2,596.5 1284.3,962 1285.8,962 1286.1,612 1287,601 1288.3,598 1288.9,596.5 1290,948.5 1290.8,948.5 1291.1,612 1292,601 1293.3,598 1294,596.5 1295.1,965 1296,965 1296.3,612 1297.2,601 1298.5,598 1299.7,596.5 1300.8,962 1301.8,962 1302.3,615 1303.3,599 1303.7,596.7" fill="none" stroke="#000" stroke-width="1.6" stroke-linejoin="round" />
<text x="54.3" y="1086.3" font-size="49.5" fill="#000" text-anchor="start" font-weight="normal" >(e)</text>
<rect x="178.9" y="1116.7" width="127.7" height="382.6" fill="#ffd3da" stroke="none" stroke-width="1" />
<line x1="179.4" y1="1116.7" x2="179.4" y2="1499.3" stroke="#f6aab8" stroke-width="1.3" />
<line x1="306.1" y1="1116.7" x2="306.1" y2="1499.3" stroke="#f6aab8" stroke-width="1.3" />
<rect x="443.8" y="1116.7" width="189" height="382.6" fill="#fde6c4" stroke="none" stroke-width="1" />
<line x1="444.5" y1="1116.7" x2="444.5" y2="1499.3" stroke="#f9c98a" stroke-width="1.6" />
<line x1="632.1" y1="1116.7" x2="632.1" y2="1499.3" stroke="#f9c98a" stroke-width="1.6" />
<line x1="443.8" y1="1118.2" x2="632.8" y2="1118.2" stroke="#f9d09a" stroke-width="1.5" />
<line x1="443.8" y1="1497.8" x2="632.8" y2="1497.8" stroke="#f9d09a" stroke-width="1.5" />
<line x1="142.5" y1="1461" x2="145.8" y2="1461" stroke="#7a7a7a" stroke-width="1.2" />
<line x1="662.5" y1="1461" x2="657.5" y2="1461" stroke="#7a7a7a" stroke-width="1.2" />
<line x1="142.5" y1="1422.8" x2="149" y2="1422.8" stroke="#7a7a7a" stroke-width="1.2" />
<line x1="662.5" y1="1422.8" x2="655.1" y2="1422.8" stroke="#7a7a7a" stroke-width="1.2" />
<line x1="142.5" y1="1384.5" x2="145.8" y2="1384.5" stroke="#7a7a7a" stroke-width="1.2" />
<line x1="662.5" y1="1384.5" x2="657.5" y2="1384.5" stroke="#7a7a7a" stroke-width="1.2" />
<line x1="142.5" y1="1346.3" x2="149" y2="1346.3" stroke="#7a7a7a" stroke-width="1.2" />
<line x1="662.5" y1="1346.3" x2="655.1" y2="1346.3" stroke="#7a7a7a" stroke-width="1.2" />
<line x1="142.5" y1="1308" x2="145.8" y2="1308" stroke="#7a7a7a" stroke-width="1.2" />
<line x1="662.5" y1="1308" x2="657.5" y2="1308" stroke="#7a7a7a" stroke-width="1.2" />
<line x1="142.5" y1="1269.8" x2="149" y2="1269.8" stroke="#7a7a7a" stroke-width="1.2" />
<line x1="662.5" y1="1269.8" x2="655.1" y2="1269.8" stroke="#7a7a7a" stroke-width="1.2" />
<line x1="142.5" y1="1231.5" x2="145.8" y2="1231.5" stroke="#7a7a7a" stroke-width="1.2" />
<line x1="662.5" y1="1231.5" x2="657.5" y2="1231.5" stroke="#7a7a7a" stroke-width="1.2" />
<line x1="142.5" y1="1193.3" x2="149" y2="1193.3" stroke="#7a7a7a" stroke-width="1.2" />
<line x1="662.5" y1="1193.3" x2="655.1" y2="1193.3" stroke="#7a7a7a" stroke-width="1.2" />
<line x1="142.5" y1="1155" x2="145.8" y2="1155" stroke="#7a7a7a" stroke-width="1.2" />
<line x1="662.5" y1="1155" x2="657.5" y2="1155" stroke="#7a7a7a" stroke-width="1.2" />
<line x1="167.8" y1="1499.3" x2="167.8" y2="1492.6" stroke="#7a7a7a" stroke-width="1.2" />
<line x1="167.8" y1="1116.7" x2="167.8" y2="1123.4" stroke="#7a7a7a" stroke-width="1.2" />
<line x1="231.7" y1="1499.3" x2="231.7" y2="1495.6" stroke="#7a7a7a" stroke-width="1.2" />
<line x1="231.7" y1="1116.7" x2="231.7" y2="1120.4" stroke="#7a7a7a" stroke-width="1.2" />
<line x1="295.5" y1="1499.3" x2="295.5" y2="1492.6" stroke="#7a7a7a" stroke-width="1.2" />
<line x1="295.5" y1="1116.7" x2="295.5" y2="1123.4" stroke="#7a7a7a" stroke-width="1.2" />
<line x1="359.4" y1="1499.3" x2="359.4" y2="1495.6" stroke="#7a7a7a" stroke-width="1.2" />
<line x1="359.4" y1="1116.7" x2="359.4" y2="1120.4" stroke="#7a7a7a" stroke-width="1.2" />
<line x1="389.6" y1="1499.3" x2="389.6" y2="1495.6" stroke="#7a7a7a" stroke-width="1.2" />
<line x1="389.6" y1="1116.7" x2="389.6" y2="1120.4" stroke="#7a7a7a" stroke-width="1.2" />
<line x1="436.9" y1="1499.3" x2="436.9" y2="1492.6" stroke="#7a7a7a" stroke-width="1.2" />
<line x1="436.9" y1="1116.7" x2="436.9" y2="1123.4" stroke="#7a7a7a" stroke-width="1.2" />
<line x1="483.5" y1="1499.3" x2="483.5" y2="1495.6" stroke="#7a7a7a" stroke-width="1.2" />
<line x1="483.5" y1="1116.7" x2="483.5" y2="1120.4" stroke="#7a7a7a" stroke-width="1.2" />
<line x1="530.3" y1="1499.3" x2="530.3" y2="1492.6" stroke="#7a7a7a" stroke-width="1.2" />
<line x1="530.3" y1="1116.7" x2="530.3" y2="1123.4" stroke="#7a7a7a" stroke-width="1.2" />
<line x1="577" y1="1499.3" x2="577" y2="1495.6" stroke="#7a7a7a" stroke-width="1.2" />
<line x1="577" y1="1116.7" x2="577" y2="1120.4" stroke="#7a7a7a" stroke-width="1.2" />
<line x1="624.2" y1="1499.3" x2="624.2" y2="1492.6" stroke="#7a7a7a" stroke-width="1.2" />
<line x1="624.2" y1="1116.7" x2="624.2" y2="1123.4" stroke="#7a7a7a" stroke-width="1.2" />
<path d="M367.5,1116.7 H142.5 V1499.3 H367.5 M381.5,1116.7 H662.5 V1499.3 H381.5" fill="none" stroke="#7a7a7a" stroke-width="1.3"/>
<line x1="367.2" y1="1124.6" x2="375.8" y2="1109.8" stroke="#7a7a7a" stroke-width="1.3" />
<line x1="367.2" y1="1506.6" x2="375.8" y2="1491.8" stroke="#7a7a7a" stroke-width="1.3" />
<line x1="374.6" y1="1124.6" x2="384.5" y2="1109.8" stroke="#7a7a7a" stroke-width="1.3" />
<line x1="374.6" y1="1506.6" x2="384.5" y2="1491.8" stroke="#7a7a7a" stroke-width="1.3" />
<text transform="translate(167,1527.7) scale(1.120,1)" font-size="23.5" fill="#000" text-anchor="middle" font-weight="normal" >37.5</text>
<text transform="translate(295,1527.7) scale(1.120,1)" font-size="23.5" fill="#000" text-anchor="middle" font-weight="normal" >38.0</text>
<text transform="translate(436.1,1527.7) scale(1.120,1)" font-size="23.5" fill="#000" text-anchor="middle" font-weight="normal" >67.0</text>
<text transform="translate(529.8,1527.7) scale(1.120,1)" font-size="23.5" fill="#000" text-anchor="middle" font-weight="normal" >67.5</text>
<text transform="translate(623.7,1527.7) scale(1.120,1)" font-size="23.5" fill="#000" text-anchor="middle" font-weight="normal" >68.0</text>
<text x="115.5" y="1431.2" font-size="23" text-anchor="end" textLength="53" lengthAdjust="spacingAndGlyphs">1x10</text>
<text transform="translate(115.5,1420.8) scale(1.100,1)" font-size="16.5" fill="#000" text-anchor="start" font-weight="normal" >-4</text>
<text x="115.5" y="1354.7" font-size="23" text-anchor="end" textLength="53" lengthAdjust="spacingAndGlyphs">2x10</text>
<text transform="translate(115.5,1344.3) scale(1.100,1)" font-size="16.5" fill="#000" text-anchor="start" font-weight="normal" >-4</text>
<text x="115.5" y="1278.2" font-size="23" text-anchor="end" textLength="53" lengthAdjust="spacingAndGlyphs">3x10</text>
<text transform="translate(115.5,1267.8) scale(1.100,1)" font-size="16.5" fill="#000" text-anchor="start" font-weight="normal" >-4</text>
<text x="115.5" y="1201.7" font-size="23" text-anchor="end" textLength="53" lengthAdjust="spacingAndGlyphs">4x10</text>
<text transform="translate(115.5,1191.3) scale(1.100,1)" font-size="16.5" fill="#000" text-anchor="start" font-weight="normal" >-4</text>
<text x="115.5" y="1125.2" font-size="23" text-anchor="end" textLength="53" lengthAdjust="spacingAndGlyphs">5x10</text>
<text transform="translate(115.5,1114.8) scale(1.100,1)" font-size="16.5" fill="#000" text-anchor="start" font-weight="normal" >-4</text>
<text transform="translate(131.5,1506.2) scale(1.120,1)" font-size="23.5" fill="#000" text-anchor="end" font-weight="normal" >0</text>
<text transform="translate(52,1375.5) rotate(-90)" font-size="28">Current (A)</text>
<polyline points="142.5,1487.7 178.9,1487.7 306.6,1172.8 370.9,1162.9" fill="none" stroke="#000" stroke-width="1.8" stroke-linejoin="round" />
<polyline points="380.8,1132.5 444.3,1131.3 538.9,1396.3 631.6,1488.9 662.5,1488.4" fill="none" stroke="#000" stroke-width="1.8" stroke-linejoin="round" />
<text x="184" y="1153.8" font-size="27" fill="#000" text-anchor="start" font-weight="normal" >t</text>
<text x="191.5" y="1163.5" font-size="16" fill="#000" text-anchor="start" font-weight="normal" >rise</text>
<text x="218" y="1153.8" font-size="27" fill="#000" text-anchor="start" font-weight="normal" >= 0.5 s</text>
<text x="475" y="1155.5" font-size="27" fill="#000" text-anchor="start" font-weight="normal" >t</text>
<text x="482" y="1165.5" font-size="16" fill="#000" text-anchor="start" font-weight="normal" >decay</text>
<text x="526.5" y="1155.5" font-size="27" fill="#000" text-anchor="start" font-weight="normal" >= 1.0 s</text>
<text x="351" y="1571.8" font-size="28.3" fill="#000" text-anchor="start" font-weight="normal" >Time (s)</text>
<text x="728.3" y="1088.8" font-size="49.5" fill="#000" text-anchor="start" font-weight="normal" >(f)</text>
<line x1="802.5" y1="1244.4" x2="809.7" y2="1244.4" stroke="#6a6a6a" stroke-width="1.2" />
<line x1="1321.6" y1="1244.4" x2="1314.4" y2="1244.4" stroke="#6a6a6a" stroke-width="1.2" />
<line x1="802.5" y1="1205.9" x2="806.5" y2="1205.9" stroke="#6a6a6a" stroke-width="1.2" />
<line x1="1321.6" y1="1205.9" x2="1317.6" y2="1205.9" stroke="#6a6a6a" stroke-width="1.2" />
<line x1="802.5" y1="1183.3" x2="806.5" y2="1183.3" stroke="#6a6a6a" stroke-width="1.2" />
<line x1="1321.6" y1="1183.3" x2="1317.6" y2="1183.3" stroke="#6a6a6a" stroke-width="1.2" />
<line x1="802.5" y1="1167.3" x2="806.5" y2="1167.3" stroke="#6a6a6a" stroke-width="1.2" />
<line x1="1321.6" y1="1167.3" x2="1317.6" y2="1167.3" stroke="#6a6a6a" stroke-width="1.2" />
<line x1="802.5" y1="1154.9" x2="806.5" y2="1154.9" stroke="#6a6a6a" stroke-width="1.2" />
<line x1="1321.6" y1="1154.9" x2="1317.6" y2="1154.9" stroke="#6a6a6a" stroke-width="1.2" />
<line x1="802.5" y1="1144.8" x2="806.5" y2="1144.8" stroke="#6a6a6a" stroke-width="1.2" />
<line x1="1321.6" y1="1144.8" x2="1317.6" y2="1144.8" stroke="#6a6a6a" stroke-width="1.2" />
<line x1="802.5" y1="1136.2" x2="806.5" y2="1136.2" stroke="#6a6a6a" stroke-width="1.2" />
<line x1="1321.6" y1="1136.2" x2="1317.6" y2="1136.2" stroke="#6a6a6a" stroke-width="1.2" />
<line x1="802.5" y1="1128.8" x2="806.5" y2="1128.8" stroke="#6a6a6a" stroke-width="1.2" />
<line x1="1321.6" y1="1128.8" x2="1317.6" y2="1128.8" stroke="#6a6a6a" stroke-width="1.2" />
<line x1="802.5" y1="1122.3" x2="806.5" y2="1122.3" stroke="#6a6a6a" stroke-width="1.2" />
<line x1="1321.6" y1="1122.3" x2="1317.6" y2="1122.3" stroke="#6a6a6a" stroke-width="1.2" />
<line x1="802.5" y1="1372.4" x2="809.7" y2="1372.4" stroke="#6a6a6a" stroke-width="1.2" />
<line x1="1321.6" y1="1372.4" x2="1314.4" y2="1372.4" stroke="#6a6a6a" stroke-width="1.2" />
<line x1="802.5" y1="1333.9" x2="806.5" y2="1333.9" stroke="#6a6a6a" stroke-width="1.2" />
<line x1="1321.6" y1="1333.9" x2="1317.6" y2="1333.9" stroke="#6a6a6a" stroke-width="1.2" />
<line x1="802.5" y1="1311.3" x2="806.5" y2="1311.3" stroke="#6a6a6a" stroke-width="1.2" />
<line x1="1321.6" y1="1311.3" x2="1317.6" y2="1311.3" stroke="#6a6a6a" stroke-width="1.2" />
<line x1="802.5" y1="1295.3" x2="806.5" y2="1295.3" stroke="#6a6a6a" stroke-width="1.2" />
<line x1="1321.6" y1="1295.3" x2="1317.6" y2="1295.3" stroke="#6a6a6a" stroke-width="1.2" />
<line x1="802.5" y1="1282.9" x2="806.5" y2="1282.9" stroke="#6a6a6a" stroke-width="1.2" />
<line x1="1321.6" y1="1282.9" x2="1317.6" y2="1282.9" stroke="#6a6a6a" stroke-width="1.2" />
<line x1="802.5" y1="1272.8" x2="806.5" y2="1272.8" stroke="#6a6a6a" stroke-width="1.2" />
<line x1="1321.6" y1="1272.8" x2="1317.6" y2="1272.8" stroke="#6a6a6a" stroke-width="1.2" />
<line x1="802.5" y1="1264.2" x2="806.5" y2="1264.2" stroke="#6a6a6a" stroke-width="1.2" />
<line x1="1321.6" y1="1264.2" x2="1317.6" y2="1264.2" stroke="#6a6a6a" stroke-width="1.2" />
<line x1="802.5" y1="1256.8" x2="806.5" y2="1256.8" stroke="#6a6a6a" stroke-width="1.2" />
<line x1="1321.6" y1="1256.8" x2="1317.6" y2="1256.8" stroke="#6a6a6a" stroke-width="1.2" />
<line x1="802.5" y1="1250.3" x2="806.5" y2="1250.3" stroke="#6a6a6a" stroke-width="1.2" />
<line x1="1321.6" y1="1250.3" x2="1317.6" y2="1250.3" stroke="#6a6a6a" stroke-width="1.2" />
<line x1="802.5" y1="1461.9" x2="806.5" y2="1461.9" stroke="#6a6a6a" stroke-width="1.2" />
<line x1="1321.6" y1="1461.9" x2="1317.6" y2="1461.9" stroke="#6a6a6a" stroke-width="1.2" />
<line x1="802.5" y1="1439.3" x2="806.5" y2="1439.3" stroke="#6a6a6a" stroke-width="1.2" />
<line x1="1321.6" y1="1439.3" x2="1317.6" y2="1439.3" stroke="#6a6a6a" stroke-width="1.2" />
<line x1="802.5" y1="1423.3" x2="806.5" y2="1423.3" stroke="#6a6a6a" stroke-width="1.2" />
<line x1="1321.6" y1="1423.3" x2="1317.6" y2="1423.3" stroke="#6a6a6a" stroke-width="1.2" />
<line x1="802.5" y1="1410.9" x2="806.5" y2="1410.9" stroke="#6a6a6a" stroke-width="1.2" />
<line x1="1321.6" y1="1410.9" x2="1317.6" y2="1410.9" stroke="#6a6a6a" stroke-width="1.2" />
<line x1="802.5" y1="1400.8" x2="806.5" y2="1400.8" stroke="#6a6a6a" stroke-width="1.2" />
<line x1="1321.6" y1="1400.8" x2="1317.6" y2="1400.8" stroke="#6a6a6a" stroke-width="1.2" />
<line x1="802.5" y1="1392.2" x2="806.5" y2="1392.2" stroke="#6a6a6a" stroke-width="1.2" />
<line x1="1321.6" y1="1392.2" x2="1317.6" y2="1392.2" stroke="#6a6a6a" stroke-width="1.2" />
<line x1="802.5" y1="1384.8" x2="806.5" y2="1384.8" stroke="#6a6a6a" stroke-width="1.2" />
<line x1="1321.6" y1="1384.8" x2="1317.6" y2="1384.8" stroke="#6a6a6a" stroke-width="1.2" />
<line x1="802.5" y1="1378.3" x2="806.5" y2="1378.3" stroke="#6a6a6a" stroke-width="1.2" />
<line x1="1321.6" y1="1378.3" x2="1317.6" y2="1378.3" stroke="#6a6a6a" stroke-width="1.2" />
<line x1="836.9" y1="1500.3" x2="836.9" y2="1493.8" stroke="#6a6a6a" stroke-width="1.2" />
<line x1="836.9" y1="1116.4" x2="836.9" y2="1122.4" stroke="#6a6a6a" stroke-width="1.2" />
<text transform="translate(836.9,1529) scale(1.120,1)" font-size="23.5" fill="#000" text-anchor="middle" font-weight="normal" >0</text>
<line x1="871.7" y1="1500.3" x2="871.7" y2="1496.5" stroke="#6a6a6a" stroke-width="1.2" />
<line x1="871.7" y1="1116.4" x2="871.7" y2="1119.9" stroke="#6a6a6a" stroke-width="1.2" />
<line x1="906.5" y1="1500.3" x2="906.5" y2="1493.8" stroke="#6a6a6a" stroke-width="1.2" />
<line x1="906.5" y1="1116.4" x2="906.5" y2="1122.4" stroke="#6a6a6a" stroke-width="1.2" />
<text transform="translate(906.5,1529) scale(1.120,1)" font-size="23.5" fill="#000" text-anchor="middle" font-weight="normal" >5</text>
<line x1="941.3" y1="1500.3" x2="941.3" y2="1496.5" stroke="#6a6a6a" stroke-width="1.2" />
<line x1="941.3" y1="1116.4" x2="941.3" y2="1119.9" stroke="#6a6a6a" stroke-width="1.2" />
<line x1="976.1" y1="1500.3" x2="976.1" y2="1493.8" stroke="#6a6a6a" stroke-width="1.2" />
<line x1="976.1" y1="1116.4" x2="976.1" y2="1122.4" stroke="#6a6a6a" stroke-width="1.2" />
<text transform="translate(976.1,1529) scale(1.120,1)" font-size="23.5" fill="#000" text-anchor="middle" font-weight="normal" >10</text>
<line x1="1010.9" y1="1500.3" x2="1010.9" y2="1496.5" stroke="#6a6a6a" stroke-width="1.2" />
<line x1="1010.9" y1="1116.4" x2="1010.9" y2="1119.9" stroke="#6a6a6a" stroke-width="1.2" />
<line x1="1045.7" y1="1500.3" x2="1045.7" y2="1493.8" stroke="#6a6a6a" stroke-width="1.2" />
<line x1="1045.7" y1="1116.4" x2="1045.7" y2="1122.4" stroke="#6a6a6a" stroke-width="1.2" />
<text transform="translate(1045.7,1529) scale(1.120,1)" font-size="23.5" fill="#000" text-anchor="middle" font-weight="normal" >15</text>
<line x1="1080.5" y1="1500.3" x2="1080.5" y2="1496.5" stroke="#6a6a6a" stroke-width="1.2" />
<line x1="1080.5" y1="1116.4" x2="1080.5" y2="1119.9" stroke="#6a6a6a" stroke-width="1.2" />
<line x1="1115.3" y1="1500.3" x2="1115.3" y2="1493.8" stroke="#6a6a6a" stroke-width="1.2" />
<line x1="1115.3" y1="1116.4" x2="1115.3" y2="1122.4" stroke="#6a6a6a" stroke-width="1.2" />
<text transform="translate(1115.3,1529) scale(1.120,1)" font-size="23.5" fill="#000" text-anchor="middle" font-weight="normal" >20</text>
<line x1="1150.1" y1="1500.3" x2="1150.1" y2="1496.5" stroke="#6a6a6a" stroke-width="1.2" />
<line x1="1150.1" y1="1116.4" x2="1150.1" y2="1119.9" stroke="#6a6a6a" stroke-width="1.2" />
<line x1="1184.9" y1="1500.3" x2="1184.9" y2="1493.8" stroke="#6a6a6a" stroke-width="1.2" />
<line x1="1184.9" y1="1116.4" x2="1184.9" y2="1122.4" stroke="#6a6a6a" stroke-width="1.2" />
<text transform="translate(1184.9,1529) scale(1.120,1)" font-size="23.5" fill="#000" text-anchor="middle" font-weight="normal" >25</text>
<line x1="1219.7" y1="1500.3" x2="1219.7" y2="1496.5" stroke="#6a6a6a" stroke-width="1.2" />
<line x1="1219.7" y1="1116.4" x2="1219.7" y2="1119.9" stroke="#6a6a6a" stroke-width="1.2" />
<line x1="1254.5" y1="1500.3" x2="1254.5" y2="1493.8" stroke="#6a6a6a" stroke-width="1.2" />
<line x1="1254.5" y1="1116.4" x2="1254.5" y2="1122.4" stroke="#6a6a6a" stroke-width="1.2" />
<text transform="translate(1254.5,1529) scale(1.120,1)" font-size="23.5" fill="#000" text-anchor="middle" font-weight="normal" >30</text>
<line x1="1289.3" y1="1500.3" x2="1289.3" y2="1496.5" stroke="#6a6a6a" stroke-width="1.2" />
<line x1="1289.3" y1="1116.4" x2="1289.3" y2="1119.9" stroke="#6a6a6a" stroke-width="1.2" />
<text transform="translate(1321,1529) scale(1.120,1)" font-size="23.5" fill="#000" text-anchor="middle" font-weight="normal" >35</text>
<rect x="802.5" y="1116.4" width="519.1" height="383.9" fill="none" stroke="#6a6a6a" stroke-width="1.4" />
<text transform="translate(778.5,1124.1) scale(1.130,1)" font-size="23.5" fill="#000" text-anchor="end" font-weight="normal" >10</text>
<text x="779" y="1114.6" font-size="15" fill="#000" text-anchor="start" font-weight="normal" >-7</text>
<text transform="translate(778.5,1252.6) scale(1.130,1)" font-size="23.5" fill="#000" text-anchor="end" font-weight="normal" >10</text>
<text x="779" y="1243.1" font-size="15" fill="#000" text-anchor="start" font-weight="normal" >-8</text>
<text transform="translate(778.5,1381.9) scale(1.130,1)" font-size="23.5" fill="#000" text-anchor="end" font-weight="normal" >10</text>
<text x="779" y="1372.4" font-size="15" fill="#000" text-anchor="start" font-weight="normal" >-9</text>
<text transform="translate(770.2,1509) scale(1.130,1)" font-size="23.5" fill="#000" text-anchor="end" font-weight="normal" >10</text>
<text x="771" y="1497.5" font-size="15" fill="#000" text-anchor="start" font-weight="normal" >-10</text>
<text transform="translate(732,1375.5) rotate(-90)" font-size="28">Current (A)</text>
<text x="1012" y="1572" font-size="28.3" fill="#000" text-anchor="start" font-weight="normal" >Time (s)</text>
<polyline points="839.7,1256.3 857.6,1270.9 863.8,1279.1 868,1284.8 872.1,1291.8 876.3,1298.8 880.4,1305.8 884.5,1311.8 888.7,1317.5 892.8,1323.2 897,1327.8 901.1,1331.4 905.2,1335.1 909.4,1338.6 913.5,1341.4 917.7,1344.3 921.8,1347.2 925.9,1350 930.1,1352.9 934.2,1355.8 938.4,1358.7 942.5,1361.5 946.6,1363.5 950.8,1365.3 954.9,1367.1 958,1368.4 961,1369.7 964,1371.1 967.1,1372.4 970.1,1373.7 973.1,1375 976.2,1376.3 979.2,1377.4 982.3,1378.3 985.3,1379.1 988.3,1380 991.4,1380.8 994.4,1381.6 997.4,1382.5 1000.5,1383.3 1003.5,1384.2 1006.5,1385 1009.6,1385.9 1012.6,1386.7 1015.7,1387.6 1018.7,1388.4 1021.7,1389.2 1024.8,1390.1 1027.8,1390.9 1030.8,1391.8 1033.9,1392.6 1036.9,1393.5 1039.9,1394.3 1043,1395.2 1046,1396 1049.1,1396.7 1052.1,1397.3 1055.1,1398 1058.2,1398.6 1061.2,1399.3 1064.2,1399.9 1067.3,1400.6 1070.3,1401.2 1073.3,1401.8 1076.4,1402.5 1079.4,1403.1 1082.5,1403.8 1085.5,1404.4 1088.5,1405 1091.6,1405.7 1094.6,1406.3 1097.6,1407 1100.7,1407.6 1103.7,1408.3 1106.7,1408.9 1109.8,1409.5 1112.8,1410.2 1115.9,1410.8 1118.9,1411.3 1121.9,1411.8 1125,1412.3 1128,1412.7 1131,1413.2 1134.1,1413.7 1137.1,1414.2 1140.1,1414.7 1143.2,1415.1 1146.2,1415.6 1149.3,1416.1 1152.3,1416.6 1155.3,1417.1 1158.4,1417.5 1161.4,1418 1164.4,1418.5 1167.5,1419 1170.5,1419.5 1173.5,1419.9 1176.6,1420.4 1179.6,1420.9 1182.7,1421.4 1185.7,1421.8 1188.7,1422.1 1191.8,1422.5 1194.8,1422.8 1197.8,1423.1 1200.9,1423.4 1203.9,1423.8 1206.9,1424.1 1210,1424.4 1213,1424.7 1216.1,1425.1 1219.1,1425.4 1222.1,1425.7 1225.2,1426 1228.2,1426.4 1231.2,1426.7 1234.3,1427 1237.3,1427.3 1240.3,1427.7 1243.4,1428 1246.4,1428.3 1249.5,1428.7 1252.5,1429 1255.5,1429.3 1258.6,1429.6 1261.6,1430" fill="none" stroke="#4a4a4a" stroke-width="1.2" stroke-linejoin="round" />
<g><rect x="836" y="1252.6" width="7.4" height="7.4" fill="#ffffff" stroke="#555555" stroke-width="1.2"/><rect x="853.9" y="1267.2" width="7.4" height="7.4" fill="#ffffff" stroke="#555555" stroke-width="1.2"/><rect x="860.1" y="1275.4" width="7.4" height="7.4" fill="#ffffff" stroke="#555555" stroke-width="1.2"/><rect x="864.3" y="1281.1" width="7.4" height="7.4" fill="#ffffff" stroke="#555555" stroke-width="1.2"/><rect x="868.4" y="1288.1" width="7.4" height="7.4" fill="#ffffff" stroke="#555555" stroke-width="1.2"/><rect x="872.6" y="1295.1" width="7.4" height="7.4" fill="#ffffff" stroke="#555555" stroke-width="1.2"/><rect x="876.7" y="1302.1" width="7.4" height="7.4" fill="#ffffff" stroke="#555555" stroke-width="1.2"/><rect x="880.8" y="1308" width="7.4" height="7.4" fill="#ffffff" stroke="#555555" stroke-width="1.2"/><rect x="885" y="1313.8" width="7.4" height="7.4" fill="#ffffff" stroke="#555555" stroke-width="1.2"/><rect x="889.1" y="1319.5" width="7.4" height="7.4" fill="#ffffff" stroke="#555555" stroke-width="1.2"/><rect x="893.3" y="1324.1" width="7.4" height="7.4" fill="#ffffff" stroke="#555555" stroke-width="1.2"/><rect x="897.4" y="1327.7" width="7.4" height="7.4" fill="#ffffff" stroke="#555555" stroke-width="1.2"/><rect x="901.5" y="1331.4" width="7.4" height="7.4" fill="#ffffff" stroke="#555555" stroke-width="1.2"/><rect x="905.7" y="1334.9" width="7.4" height="7.4" fill="#ffffff" stroke="#555555" stroke-width="1.2"/><rect x="909.8" y="1337.7" width="7.4" height="7.4" fill="#ffffff" stroke="#555555" stroke-width="1.2"/><rect x="914" y="1340.6" width="7.4" height="7.4" fill="#ffffff" stroke="#555555" stroke-width="1.2"/><rect x="918.1" y="1343.5" width="7.4" height="7.4" fill="#ffffff" stroke="#555555" stroke-width="1.2"/><rect x="922.2" y="1346.3" width="7.4" height="7.4" fill="#ffffff" stroke="#555555" stroke-width="1.2"/><rect x="926.4" y="1349.2" width="7.4" height="7.4" fill="#ffffff" stroke="#555555" stroke-width="1.2"/><rect x="930.5" y="1352.1" width="7.4" height="7.4" fill="#ffffff" stroke="#555555" stroke-width="1.2"/><rect x="934.7" y="1355" width="7.4" height="7.4" fill="#ffffff" stroke="#555555" stroke-width="1.2"/><rect x="938.8" y="1357.8" width="7.4" height="7.4" fill="#ffffff" stroke="#555555" stroke-width="1.2"/><rect x="942.9" y="1359.8" width="7.4" height="7.4" fill="#ffffff" stroke="#555555" stroke-width="1.2"/><rect x="947.1" y="1361.6" width="7.4" height="7.4" fill="#ffffff" stroke="#555555" stroke-width="1.2"/><rect x="951.2" y="1363.4" width="7.4" height="7.4" fill="#ffffff" stroke="#555555" stroke-width="1.2"/><rect x="954.3" y="1364.7" width="7.4" height="7.4" fill="#ffffff" stroke="#555555" stroke-width="1.2"/><rect x="957.3" y="1366" width="7.4" height="7.4" fill="#ffffff" stroke="#555555" stroke-width="1.2"/><rect x="960.3" y="1367.4" width="7.4" height="7.4" fill="#ffffff" stroke="#555555" stroke-width="1.2"/><rect x="963.4" y="1368.7" width="7.4" height="7.4" fill="#ffffff" stroke="#555555" stroke-width="1.2"/><rect x="966.4" y="1370" width="7.4" height="7.4" fill="#ffffff" stroke="#555555" stroke-width="1.2"/><rect x="969.4" y="1371.3" width="7.4" height="7.4" fill="#ffffff" stroke="#555555" stroke-width="1.2"/><rect x="972.5" y="1372.6" width="7.4" height="7.4" fill="#ffffff" stroke="#555555" stroke-width="1.2"/><rect x="975.5" y="1373.7" width="7.4" height="7.4" fill="#ffffff" stroke="#555555" stroke-width="1.2"/><rect x="978.6" y="1374.6" width="7.4" height="7.4" fill="#ffffff" stroke="#555555" stroke-width="1.2"/><rect x="981.6" y="1375.4" width="7.4" height="7.4" fill="#ffffff" stroke="#555555" stroke-width="1.2"/><rect x="984.6" y="1376.3" width="7.4" height="7.4" fill="#ffffff" stroke="#555555" stroke-width="1.2"/><rect x="987.7" y="1377.1" width="7.4" height="7.4" fill="#ffffff" stroke="#555555" stroke-width="1.2"/><rect x="990.7" y="1377.9" width="7.4" height="7.4" fill="#ffffff" stroke="#555555" stroke-width="1.2"/><rect x="993.7" y="1378.8" width="7.4" height="7.4" fill="#ffffff" stroke="#555555" stroke-width="1.2"/><rect x="996.8" y="1379.6" width="7.4" height="7.4" fill="#ffffff" stroke="#555555" stroke-width="1.2"/><rect x="999.8" y="1380.5" width="7.4" height="7.4" fill="#ffffff" stroke="#555555" stroke-width="1.2"/><rect x="1002.8" y="1381.3" width="7.4" height="7.4" fill="#ffffff" stroke="#555555" stroke-width="1.2"/><rect x="1005.9" y="1382.2" width="7.4" height="7.4" fill="#ffffff" stroke="#555555" stroke-width="1.2"/><rect x="1008.9" y="1383" width="7.4" height="7.4" fill="#ffffff" stroke="#555555" stroke-width="1.2"/><rect x="1012" y="1383.9" width="7.4" height="7.4" fill="#ffffff" stroke="#555555" stroke-width="1.2"/><rect x="1015" y="1384.7" width="7.4" height="7.4" fill="#ffffff" stroke="#555555" stroke-width="1.2"/><rect x="1018" y="1385.5" width="7.4" height="7.4" fill="#ffffff" stroke="#555555" stroke-width="1.2"/><rect x="1021.1" y="1386.4" width="7.4" height="7.4" fill="#ffffff" stroke="#555555" stroke-width="1.2"/><rect x="1024.1" y="1387.2" width="7.4" height="7.4" fill="#ffffff" stroke="#555555" stroke-width="1.2"/><rect x="1027.1" y="1388.1" width="7.4" height="7.4" fill="#ffffff" stroke="#555555" stroke-width="1.2"/><rect x="1030.2" y="1388.9" width="7.4" height="7.4" fill="#ffffff" stroke="#555555" stroke-width="1.2"/><rect x="1033.2" y="1389.8" width="7.4" height="7.4" fill="#ffffff" stroke="#555555" stroke-width="1.2"/><rect x="1036.2" y="1390.6" width="7.4" height="7.4" fill="#ffffff" stroke="#555555" stroke-width="1.2"/><rect x="1039.3" y="1391.5" width="7.4" height="7.4" fill="#ffffff" stroke="#555555" stroke-width="1.2"/><rect x="1042.3" y="1392.3" width="7.4" height="7.4" fill="#ffffff" stroke="#555555" stroke-width="1.2"/><rect x="1045.4" y="1393" width="7.4" height="7.4" fill="#ffffff" stroke="#555555" stroke-width="1.2"/><rect x="1048.4" y="1393.6" width="7.4" height="7.4" fill="#ffffff" stroke="#555555" stroke-width="1.2"/><rect x="1051.4" y="1394.3" width="7.4" height="7.4" fill="#ffffff" stroke="#555555" stroke-width="1.2"/><rect x="1054.5" y="1394.9" width="7.4" height="7.4" fill="#ffffff" stroke="#555555" stroke-width="1.2"/><rect x="1057.5" y="1395.6" width="7.4" height="7.4" fill="#ffffff" stroke="#555555" stroke-width="1.2"/><rect x="1060.5" y="1396.2" width="7.4" height="7.4" fill="#ffffff" stroke="#555555" stroke-width="1.2"/><rect x="1063.6" y="1396.9" width="7.4" height="7.4" fill="#ffffff" stroke="#555555" stroke-width="1.2"/><rect x="1066.6" y="1397.5" width="7.4" height="7.4" fill="#ffffff" stroke="#555555" stroke-width="1.2"/><rect x="1069.6" y="1398.1" width="7.4" height="7.4" fill="#ffffff" stroke="#555555" stroke-width="1.2"/><rect x="1072.7" y="1398.8" width="7.4" height="7.4" fill="#ffffff" stroke="#555555" stroke-width="1.2"/><rect x="1075.7" y="1399.4" width="7.4" height="7.4" fill="#ffffff" stroke="#555555" stroke-width="1.2"/><rect x="1078.8" y="1400.1" width="7.4" height="7.4" fill="#ffffff" stroke="#555555" stroke-width="1.2"/><rect x="1081.8" y="1400.7" width="7.4" height="7.4" fill="#ffffff" stroke="#555555" stroke-width="1.2"/><rect x="1084.8" y="1401.3" width="7.4" height="7.4" fill="#ffffff" stroke="#555555" stroke-width="1.2"/><rect x="1087.9" y="1402" width="7.4" height="7.4" fill="#ffffff" stroke="#555555" stroke-width="1.2"/><rect x="1090.9" y="1402.6" width="7.4" height="7.4" fill="#ffffff" stroke="#555555" stroke-width="1.2"/><rect x="1093.9" y="1403.3" width="7.4" height="7.4" fill="#ffffff" stroke="#555555" stroke-width="1.2"/><rect x="1097" y="1403.9" width="7.4" height="7.4" fill="#ffffff" stroke="#555555" stroke-width="1.2"/><rect x="1100" y="1404.6" width="7.4" height="7.4" fill="#ffffff" stroke="#555555" stroke-width="1.2"/><rect x="1103" y="1405.2" width="7.4" height="7.4" fill="#ffffff" stroke="#555555" stroke-width="1.2"/><rect x="1106.1" y="1405.8" width="7.4" height="7.4" fill="#ffffff" stroke="#555555" stroke-width="1.2"/><rect x="1109.1" y="1406.5" width="7.4" height="7.4" fill="#ffffff" stroke="#555555" stroke-width="1.2"/><rect x="1112.2" y="1407.1" width="7.4" height="7.4" fill="#ffffff" stroke="#555555" stroke-width="1.2"/><rect x="1115.2" y="1407.6" width="7.4" height="7.4" fill="#ffffff" stroke="#555555" stroke-width="1.2"/><rect x="1118.2" y="1408.1" width="7.4" height="7.4" fill="#ffffff" stroke="#555555" stroke-width="1.2"/><rect x="1121.3" y="1408.6" width="7.4" height="7.4" fill="#ffffff" stroke="#555555" stroke-width="1.2"/><rect x="1124.3" y="1409" width="7.4" height="7.4" fill="#ffffff" stroke="#555555" stroke-width="1.2"/><rect x="1127.3" y="1409.5" width="7.4" height="7.4" fill="#ffffff" stroke="#555555" stroke-width="1.2"/><rect x="1130.4" y="1410" width="7.4" height="7.4" fill="#ffffff" stroke="#555555" stroke-width="1.2"/><rect x="1133.4" y="1410.5" width="7.4" height="7.4" fill="#ffffff" stroke="#555555" stroke-width="1.2"/><rect x="1136.4" y="1411" width="7.4" height="7.4" fill="#ffffff" stroke="#555555" stroke-width="1.2"/><rect x="1139.5" y="1411.4" width="7.4" height="7.4" fill="#ffffff" stroke="#555555" stroke-width="1.2"/><rect x="1142.5" y="1411.9" width="7.4" height="7.4" fill="#ffffff" stroke="#555555" stroke-width="1.2"/><rect x="1145.6" y="1412.4" width="7.4" height="7.4" fill="#ffffff" stroke="#555555" stroke-width="1.2"/><rect x="1148.6" y="1412.9" width="7.4" height="7.4" fill="#ffffff" stroke="#555555" stroke-width="1.2"/><rect x="1151.6" y="1413.4" width="7.4" height="7.4" fill="#ffffff" stroke="#555555" stroke-width="1.2"/><rect x="1154.7" y="1413.8" width="7.4" height="7.4" fill="#ffffff" stroke="#555555" stroke-width="1.2"/><rect x="1157.7" y="1414.3" width="7.4" height="7.4" fill="#ffffff" stroke="#555555" stroke-width="1.2"/><rect x="1160.7" y="1414.8" width="7.4" height="7.4" fill="#ffffff" stroke="#555555" stroke-width="1.2"/><rect x="1163.8" y="1415.3" width="7.4" height="7.4" fill="#ffffff" stroke="#555555" stroke-width="1.2"/><rect x="1166.8" y="1415.8" width="7.4" height="7.4" fill="#ffffff" stroke="#555555" stroke-width="1.2"/><rect x="1169.8" y="1416.2" width="7.4" height="7.4" fill="#ffffff" stroke="#555555" stroke-width="1.2"/><rect x="1172.9" y="1416.7" width="7.4" height="7.4" fill="#ffffff" stroke="#555555" stroke-width="1.2"/><rect x="1175.9" y="1417.2" width="7.4" height="7.4" fill="#ffffff" stroke="#555555" stroke-width="1.2"/><rect x="1179" y="1417.7" width="7.4" height="7.4" fill="#ffffff" stroke="#555555" stroke-width="1.2"/><rect x="1182" y="1418.1" width="7.4" height="7.4" fill="#ffffff" stroke="#555555" stroke-width="1.2"/><rect x="1185" y="1418.4" width="7.4" height="7.4" fill="#ffffff" stroke="#555555" stroke-width="1.2"/><rect x="1188.1" y="1418.8" width="7.4" height="7.4" fill="#ffffff" stroke="#555555" stroke-width="1.2"/><rect x="1191.1" y="1419.1" width="7.4" height="7.4" fill="#ffffff" stroke="#555555" stroke-width="1.2"/><rect x="1194.1" y="1419.4" width="7.4" height="7.4" fill="#ffffff" stroke="#555555" stroke-width="1.2"/><rect x="1197.2" y="1419.7" width="7.4" height="7.4" fill="#ffffff" stroke="#555555" stroke-width="1.2"/><rect x="1200.2" y="1420.1" width="7.4" height="7.4" fill="#ffffff" stroke="#555555" stroke-width="1.2"/><rect x="1203.2" y="1420.4" width="7.4" height="7.4" fill="#ffffff" stroke="#555555" stroke-width="1.2"/><rect x="1206.3" y="1420.7" width="7.4" height="7.4" fill="#ffffff" stroke="#555555" stroke-width="1.2"/><rect x="1209.3" y="1421" width="7.4" height="7.4" fill="#ffffff" stroke="#555555" stroke-width="1.2"/><rect x="1212.4" y="1421.4" width="7.4" height="7.4" fill="#ffffff" stroke="#555555" stroke-width="1.2"/><rect x="1215.4" y="1421.7" width="7.4" height="7.4" fill="#ffffff" stroke="#555555" stroke-width="1.2"/><rect x="1218.4" y="1422" width="7.4" height="7.4" fill="#ffffff" stroke="#555555" stroke-width="1.2"/><rect x="1221.5" y="1422.3" width="7.4" height="7.4" fill="#ffffff" stroke="#555555" stroke-width="1.2"/><rect x="1224.5" y="1422.7" width="7.4" height="7.4" fill="#ffffff" stroke="#555555" stroke-width="1.2"/><rect x="1227.5" y="1423" width="7.4" height="7.4" fill="#ffffff" stroke="#555555" stroke-width="1.2"/><rect x="1230.6" y="1423.3" width="7.4" height="7.4" fill="#ffffff" stroke="#555555" stroke-width="1.2"/><rect x="1233.6" y="1423.6" width="7.4" height="7.4" fill="#ffffff" stroke="#555555" stroke-width="1.2"/><rect x="1236.6" y="1424" width="7.4" height="7.4" fill="#ffffff" stroke="#555555" stroke-width="1.2"/><rect x="1239.7" y="1424.3" width="7.4" height="7.4" fill="#ffffff" stroke="#555555" stroke-width="1.2"/><rect x="1242.7" y="1424.6" width="7.4" height="7.4" fill="#ffffff" stroke="#555555" stroke-width="1.2"/><rect x="1245.8" y="1425" width="7.4" height="7.4" fill="#ffffff" stroke="#555555" stroke-width="1.2"/><rect x="1248.8" y="1425.3" width="7.4" height="7.4" fill="#ffffff" stroke="#555555" stroke-width="1.2"/><rect x="1251.8" y="1425.6" width="7.4" height="7.4" fill="#ffffff" stroke="#555555" stroke-width="1.2"/><rect x="1254.9" y="1425.9" width="7.4" height="7.4" fill="#ffffff" stroke="#555555" stroke-width="1.2"/><rect x="1257.9" y="1426.3" width="7.4" height="7.4" fill="#ffffff" stroke="#555555" stroke-width="1.2"/></g>
<polyline points="839.7,1244 857.6,1258.1 863.8,1265.8 868,1271 872.1,1277 876.3,1283 880.4,1289 884.5,1294 888.7,1298.8 892.8,1303.6 897,1307.6 901.1,1310.9 905.2,1314.2 909.4,1317.5 913.5,1318.8 917.7,1329 921.8,1332.7 925.9,1334.7 930.1,1336.7 934.2,1338.7 938.4,1340.7 942.5,1342.7 946.6,1344.3 950.8,1345.9 954.9,1347.5 958,1348.6 961,1349.8 964,1351 967.1,1352.1 970.1,1353.3 973.1,1354.5 976.2,1355.6 979.2,1356.6 982.3,1357.3 985.3,1358 988.3,1358.7 991.4,1359.4 994.4,1360.2 997.4,1360.9 1000.5,1361.6 1003.5,1362.3 1006.5,1363 1009.6,1363.7 1012.6,1364.5 1015.7,1365.2 1018.7,1365.9 1021.7,1366.3 1024.8,1366.6 1027.8,1367 1030.8,1367.3 1033.9,1367.6 1036.9,1368 1039.9,1369.2 1043,1370.5 1046,1371.7 1049.1,1372.3 1052.1,1372.7 1055.1,1373 1058.2,1373.4 1061.2,1373.8 1064.2,1375.6 1067.3,1380.8 1070.3,1381.6 1073.3,1382.3 1076.4,1383 1079.4,1383.6 1082.5,1384.3 1085.5,1384.9 1088.5,1385.6 1091.6,1386.2 1094.6,1386.9 1097.6,1387.6 1100.7,1388.2 1103.7,1388.9 1106.7,1389.5 1109.8,1390.2 1112.8,1390.9 1115.9,1391.5 1118.9,1392.2 1121.9,1392.8 1125,1393.4 1128,1394.1 1131,1394.7 1134.1,1395.4 1137.1,1396 1140.1,1396.6 1143.2,1397.3 1146.2,1397.9 1149.3,1398.5 1152.3,1399.2 1155.3,1399.8 1158.4,1400.5 1161.4,1401.1 1164.4,1401.7 1167.5,1402.4 1170.5,1403 1173.5,1403.7 1176.6,1404.3 1179.6,1404.9 1182.7,1405.6 1185.7,1406.1 1188.7,1406.5 1191.8,1407 1194.8,1407.4 1197.8,1407.8 1200.9,1408.2 1203.9,1408.6 1206.9,1409 1210,1409.4 1213,1409.8 1216.1,1410.3 1219.1,1410.7 1222.1,1411.1 1225.2,1411.5 1228.2,1411.9 1231.2,1412.3 1234.3,1412.7 1237.3,1413.1 1240.3,1413.6 1243.4,1414 1246.4,1414.4 1249.5,1414.8 1252.5,1415.2 1255.5,1415.6 1258.6,1416 1261.6,1416.4" fill="none" stroke="#222222" stroke-width="1.2" stroke-linejoin="round" />
<g><rect x="835.9" y="1240.2" width="7.6" height="7.6" fill="#000000" stroke="#000000" stroke-width="1.2"/><rect x="853.8" y="1254.3" width="7.6" height="7.6" fill="#000000" stroke="#000000" stroke-width="1.2"/><rect x="860" y="1262" width="7.6" height="7.6" fill="#000000" stroke="#000000" stroke-width="1.2"/><rect x="864.2" y="1267.2" width="7.6" height="7.6" fill="#000000" stroke="#000000" stroke-width="1.2"/><rect x="868.3" y="1273.2" width="7.6" height="7.6" fill="#000000" stroke="#000000" stroke-width="1.2"/><rect x="872.5" y="1279.2" width="7.6" height="7.6" fill="#000000" stroke="#000000" stroke-width="1.2"/><rect x="876.6" y="1285.2" width="7.6" height="7.6" fill="#000000" stroke="#000000" stroke-width="1.2"/><rect x="880.7" y="1290.2" width="7.6" height="7.6" fill="#000000" stroke="#000000" stroke-width="1.2"/><rect x="884.9" y="1295" width="7.6" height="7.6" fill="#000000" stroke="#000000" stroke-width="1.2"/><rect x="889" y="1299.8" width="7.6" height="7.6" fill="#000000" stroke="#000000" stroke-width="1.2"/><rect x="893.2" y="1303.8" width="7.6" height="7.6" fill="#000000" stroke="#000000" stroke-width="1.2"/><rect x="897.3" y="1307.1" width="7.6" height="7.6" fill="#000000" stroke="#000000" stroke-width="1.2"/><rect x="901.4" y="1310.4" width="7.6" height="7.6" fill="#000000" stroke="#000000" stroke-width="1.2"/><rect x="905.6" y="1313.7" width="7.6" height="7.6" fill="#000000" stroke="#000000" stroke-width="1.2"/><rect x="909.7" y="1315" width="7.6" height="7.6" fill="#000000" stroke="#000000" stroke-width="1.2"/><rect x="913.9" y="1325.2" width="7.6" height="7.6" fill="#000000" stroke="#000000" stroke-width="1.2"/><rect x="918" y="1328.9" width="7.6" height="7.6" fill="#000000" stroke="#000000" stroke-width="1.2"/><rect x="922.1" y="1330.9" width="7.6" height="7.6" fill="#000000" stroke="#000000" stroke-width="1.2"/><rect x="926.3" y="1332.9" width="7.6" height="7.6" fill="#000000" stroke="#000000" stroke-width="1.2"/><rect x="930.4" y="1334.9" width="7.6" height="7.6" fill="#000000" stroke="#000000" stroke-width="1.2"/><rect x="934.6" y="1336.9" width="7.6" height="7.6" fill="#000000" stroke="#000000" stroke-width="1.2"/><rect x="938.7" y="1338.9" width="7.6" height="7.6" fill="#000000" stroke="#000000" stroke-width="1.2"/><rect x="942.8" y="1340.5" width="7.6" height="7.6" fill="#000000" stroke="#000000" stroke-width="1.2"/><rect x="947" y="1342.1" width="7.6" height="7.6" fill="#000000" stroke="#000000" stroke-width="1.2"/><rect x="951.1" y="1343.7" width="7.6" height="7.6" fill="#000000" stroke="#000000" stroke-width="1.2"/><rect x="954.2" y="1344.8" width="7.6" height="7.6" fill="#000000" stroke="#000000" stroke-width="1.2"/><rect x="957.2" y="1346" width="7.6" height="7.6" fill="#000000" stroke="#000000" stroke-width="1.2"/><rect x="960.2" y="1347.2" width="7.6" height="7.6" fill="#000000" stroke="#000000" stroke-width="1.2"/><rect x="963.3" y="1348.3" width="7.6" height="7.6" fill="#000000" stroke="#000000" stroke-width="1.2"/><rect x="966.3" y="1349.5" width="7.6" height="7.6" fill="#000000" stroke="#000000" stroke-width="1.2"/><rect x="969.3" y="1350.7" width="7.6" height="7.6" fill="#000000" stroke="#000000" stroke-width="1.2"/><rect x="972.4" y="1351.8" width="7.6" height="7.6" fill="#000000" stroke="#000000" stroke-width="1.2"/><rect x="975.4" y="1352.8" width="7.6" height="7.6" fill="#000000" stroke="#000000" stroke-width="1.2"/><rect x="978.5" y="1353.5" width="7.6" height="7.6" fill="#000000" stroke="#000000" stroke-width="1.2"/><rect x="981.5" y="1354.2" width="7.6" height="7.6" fill="#000000" stroke="#000000" stroke-width="1.2"/><rect x="984.5" y="1354.9" width="7.6" height="7.6" fill="#000000" stroke="#000000" stroke-width="1.2"/><rect x="987.6" y="1355.6" width="7.6" height="7.6" fill="#000000" stroke="#000000" stroke-width="1.2"/><rect x="990.6" y="1356.4" width="7.6" height="7.6" fill="#000000" stroke="#000000" stroke-width="1.2"/><rect x="993.6" y="1357.1" width="7.6" height="7.6" fill="#000000" stroke="#000000" stroke-width="1.2"/><rect x="996.7" y="1357.8" width="7.6" height="7.6" fill="#000000" stroke="#000000" stroke-width="1.2"/><rect x="999.7" y="1358.5" width="7.6" height="7.6" fill="#000000" stroke="#000000" stroke-width="1.2"/><rect x="1002.7" y="1359.2" width="7.6" height="7.6" fill="#000000" stroke="#000000" stroke-width="1.2"/><rect x="1005.8" y="1359.9" width="7.6" height="7.6" fill="#000000" stroke="#000000" stroke-width="1.2"/><rect x="1008.8" y="1360.7" width="7.6" height="7.6" fill="#000000" stroke="#000000" stroke-width="1.2"/><rect x="1011.9" y="1361.4" width="7.6" height="7.6" fill="#000000" stroke="#000000" stroke-width="1.2"/><rect x="1014.9" y="1362.1" width="7.6" height="7.6" fill="#000000" stroke="#000000" stroke-width="1.2"/><rect x="1017.9" y="1362.5" width="7.6" height="7.6" fill="#000000" stroke="#000000" stroke-width="1.2"/><rect x="1021" y="1362.8" width="7.6" height="7.6" fill="#000000" stroke="#000000" stroke-width="1.2"/><rect x="1024" y="1363.2" width="7.6" height="7.6" fill="#000000" stroke="#000000" stroke-width="1.2"/><rect x="1027" y="1363.5" width="7.6" height="7.6" fill="#000000" stroke="#000000" stroke-width="1.2"/><rect x="1030.1" y="1363.8" width="7.6" height="7.6" fill="#000000" stroke="#000000" stroke-width="1.2"/><rect x="1033.1" y="1364.2" width="7.6" height="7.6" fill="#000000" stroke="#000000" stroke-width="1.2"/><rect x="1036.1" y="1365.4" width="7.6" height="7.6" fill="#000000" stroke="#000000" stroke-width="1.2"/><rect x="1039.2" y="1366.7" width="7.6" height="7.6" fill="#000000" stroke="#000000" stroke-width="1.2"/><rect x="1042.2" y="1367.9" width="7.6" height="7.6" fill="#000000" stroke="#000000" stroke-width="1.2"/><rect x="1045.3" y="1368.5" width="7.6" height="7.6" fill="#000000" stroke="#000000" stroke-width="1.2"/><rect x="1048.3" y="1368.9" width="7.6" height="7.6" fill="#000000" stroke="#000000" stroke-width="1.2"/><rect x="1051.3" y="1369.2" width="7.6" height="7.6" fill="#000000" stroke="#000000" stroke-width="1.2"/><rect x="1054.4" y="1369.6" width="7.6" height="7.6" fill="#000000" stroke="#000000" stroke-width="1.2"/><rect x="1057.4" y="1370" width="7.6" height="7.6" fill="#000000" stroke="#000000" stroke-width="1.2"/><rect x="1060.4" y="1371.8" width="7.6" height="7.6" fill="#000000" stroke="#000000" stroke-width="1.2"/><rect x="1063.5" y="1377" width="7.6" height="7.6" fill="#000000" stroke="#000000" stroke-width="1.2"/><rect x="1066.5" y="1377.8" width="7.6" height="7.6" fill="#000000" stroke="#000000" stroke-width="1.2"/><rect x="1069.5" y="1378.5" width="7.6" height="7.6" fill="#000000" stroke="#000000" stroke-width="1.2"/><rect x="1072.6" y="1379.2" width="7.6" height="7.6" fill="#000000" stroke="#000000" stroke-width="1.2"/><rect x="1075.6" y="1379.8" width="7.6" height="7.6" fill="#000000" stroke="#000000" stroke-width="1.2"/><rect x="1078.7" y="1380.5" width="7.6" height="7.6" fill="#000000" stroke="#000000" stroke-width="1.2"/><rect x="1081.7" y="1381.1" width="7.6" height="7.6" fill="#000000" stroke="#000000" stroke-width="1.2"/><rect x="1084.7" y="1381.8" width="7.6" height="7.6" fill="#000000" stroke="#000000" stroke-width="1.2"/><rect x="1087.8" y="1382.5" width="7.6" height="7.6" fill="#000000" stroke="#000000" stroke-width="1.2"/><rect x="1090.8" y="1383.1" width="7.6" height="7.6" fill="#000000" stroke="#000000" stroke-width="1.2"/><rect x="1093.8" y="1383.8" width="7.6" height="7.6" fill="#000000" stroke="#000000" stroke-width="1.2"/><rect x="1096.9" y="1384.4" width="7.6" height="7.6" fill="#000000" stroke="#000000" stroke-width="1.2"/><rect x="1099.9" y="1385.1" width="7.6" height="7.6" fill="#000000" stroke="#000000" stroke-width="1.2"/><rect x="1102.9" y="1385.8" width="7.6" height="7.6" fill="#000000" stroke="#000000" stroke-width="1.2"/><rect x="1106" y="1386.4" width="7.6" height="7.6" fill="#000000" stroke="#000000" stroke-width="1.2"/><rect x="1109" y="1387.1" width="7.6" height="7.6" fill="#000000" stroke="#000000" stroke-width="1.2"/><rect x="1112.1" y="1387.7" width="7.6" height="7.6" fill="#000000" stroke="#000000" stroke-width="1.2"/><rect x="1115.1" y="1388.4" width="7.6" height="7.6" fill="#000000" stroke="#000000" stroke-width="1.2"/><rect x="1118.1" y="1389" width="7.6" height="7.6" fill="#000000" stroke="#000000" stroke-width="1.2"/><rect x="1121.2" y="1389.6" width="7.6" height="7.6" fill="#000000" stroke="#000000" stroke-width="1.2"/><rect x="1124.2" y="1390.3" width="7.6" height="7.6" fill="#000000" stroke="#000000" stroke-width="1.2"/><rect x="1127.2" y="1390.9" width="7.6" height="7.6" fill="#000000" stroke="#000000" stroke-width="1.2"/><rect x="1130.3" y="1391.6" width="7.6" height="7.6" fill="#000000" stroke="#000000" stroke-width="1.2"/><rect x="1133.3" y="1392.2" width="7.6" height="7.6" fill="#000000" stroke="#000000" stroke-width="1.2"/><rect x="1136.3" y="1392.8" width="7.6" height="7.6" fill="#000000" stroke="#000000" stroke-width="1.2"/><rect x="1139.4" y="1393.5" width="7.6" height="7.6" fill="#000000" stroke="#000000" stroke-width="1.2"/><rect x="1142.4" y="1394.1" width="7.6" height="7.6" fill="#000000" stroke="#000000" stroke-width="1.2"/><rect x="1145.5" y="1394.7" width="7.6" height="7.6" fill="#000000" stroke="#000000" stroke-width="1.2"/><rect x="1148.5" y="1395.4" width="7.6" height="7.6" fill="#000000" stroke="#000000" stroke-width="1.2"/><rect x="1151.5" y="1396" width="7.6" height="7.6" fill="#000000" stroke="#000000" stroke-width="1.2"/><rect x="1154.6" y="1396.7" width="7.6" height="7.6" fill="#000000" stroke="#000000" stroke-width="1.2"/><rect x="1157.6" y="1397.3" width="7.6" height="7.6" fill="#000000" stroke="#000000" stroke-width="1.2"/><rect x="1160.6" y="1397.9" width="7.6" height="7.6" fill="#000000" stroke="#000000" stroke-width="1.2"/><rect x="1163.7" y="1398.6" width="7.6" height="7.6" fill="#000000" stroke="#000000" stroke-width="1.2"/><rect x="1166.7" y="1399.2" width="7.6" height="7.6" fill="#000000" stroke="#000000" stroke-width="1.2"/><rect x="1169.7" y="1399.9" width="7.6" height="7.6" fill="#000000" stroke="#000000" stroke-width="1.2"/><rect x="1172.8" y="1400.5" width="7.6" height="7.6" fill="#000000" stroke="#000000" stroke-width="1.2"/><rect x="1175.8" y="1401.1" width="7.6" height="7.6" fill="#000000" stroke="#000000" stroke-width="1.2"/><rect x="1178.9" y="1401.8" width="7.6" height="7.6" fill="#000000" stroke="#000000" stroke-width="1.2"/><rect x="1181.9" y="1402.3" width="7.6" height="7.6" fill="#000000" stroke="#000000" stroke-width="1.2"/><rect x="1184.9" y="1402.7" width="7.6" height="7.6" fill="#000000" stroke="#000000" stroke-width="1.2"/><rect x="1188" y="1403.2" width="7.6" height="7.6" fill="#000000" stroke="#000000" stroke-width="1.2"/><rect x="1191" y="1403.6" width="7.6" height="7.6" fill="#000000" stroke="#000000" stroke-width="1.2"/><rect x="1194" y="1404" width="7.6" height="7.6" fill="#000000" stroke="#000000" stroke-width="1.2"/><rect x="1197.1" y="1404.4" width="7.6" height="7.6" fill="#000000" stroke="#000000" stroke-width="1.2"/><rect x="1200.1" y="1404.8" width="7.6" height="7.6" fill="#000000" stroke="#000000" stroke-width="1.2"/><rect x="1203.1" y="1405.2" width="7.6" height="7.6" fill="#000000" stroke="#000000" stroke-width="1.2"/><rect x="1206.2" y="1405.6" width="7.6" height="7.6" fill="#000000" stroke="#000000" stroke-width="1.2"/><rect x="1209.2" y="1406" width="7.6" height="7.6" fill="#000000" stroke="#000000" stroke-width="1.2"/><rect x="1212.3" y="1406.5" width="7.6" height="7.6" fill="#000000" stroke="#000000" stroke-width="1.2"/><rect x="1215.3" y="1406.9" width="7.6" height="7.6" fill="#000000" stroke="#000000" stroke-width="1.2"/><rect x="1218.3" y="1407.3" width="7.6" height="7.6" fill="#000000" stroke="#000000" stroke-width="1.2"/><rect x="1221.4" y="1407.7" width="7.6" height="7.6" fill="#000000" stroke="#000000" stroke-width="1.2"/><rect x="1224.4" y="1408.1" width="7.6" height="7.6" fill="#000000" stroke="#000000" stroke-width="1.2"/><rect x="1227.4" y="1408.5" width="7.6" height="7.6" fill="#000000" stroke="#000000" stroke-width="1.2"/><rect x="1230.5" y="1408.9" width="7.6" height="7.6" fill="#000000" stroke="#000000" stroke-width="1.2"/><rect x="1233.5" y="1409.3" width="7.6" height="7.6" fill="#000000" stroke="#000000" stroke-width="1.2"/><rect x="1236.5" y="1409.8" width="7.6" height="7.6" fill="#000000" stroke="#000000" stroke-width="1.2"/><rect x="1239.6" y="1410.2" width="7.6" height="7.6" fill="#000000" stroke="#000000" stroke-width="1.2"/><rect x="1242.6" y="1410.6" width="7.6" height="7.6" fill="#000000" stroke="#000000" stroke-width="1.2"/><rect x="1245.7" y="1411" width="7.6" height="7.6" fill="#000000" stroke="#000000" stroke-width="1.2"/><rect x="1248.7" y="1411.4" width="7.6" height="7.6" fill="#000000" stroke="#000000" stroke-width="1.2"/><rect x="1251.7" y="1411.8" width="7.6" height="7.6" fill="#000000" stroke="#000000" stroke-width="1.2"/><rect x="1254.8" y="1412.2" width="7.6" height="7.6" fill="#000000" stroke="#000000" stroke-width="1.2"/><rect x="1257.8" y="1412.6" width="7.6" height="7.6" fill="#000000" stroke="#000000" stroke-width="1.2"/></g>
<polyline points="839.7,1228.4 857.6,1241.8 863.8,1250 868,1255.4 872.1,1260.6 876.3,1265.9 880.4,1271.1 884.5,1275.5 888.7,1279.7 892.8,1283.9 897,1288.1 901.1,1292.3 905.2,1296.5 909.4,1300.5 913.5,1303.6 917.7,1306.8 921.8,1309.9 925.9,1313 930.1,1316.1 934.2,1319.2 938.4,1322.4 942.5,1325.5 946.6,1327.5 950.8,1329.3 954.9,1331.1 958,1332.4 961,1333.7 964,1335.1 967.1,1336.4 970.1,1337.7 973.1,1339 976.2,1340.3 979.2,1341.3 982.3,1341.9 985.3,1342.5 988.3,1343.1 991.4,1343.7 994.4,1344.2 997.4,1344.8 1000.5,1345.4 1003.5,1346 1006.5,1346.6 1009.6,1347.2 1012.6,1347.8 1015.7,1348.4 1018.7,1349 1021.7,1349.5 1024.8,1350.1 1027.8,1350.7 1030.8,1351.3 1033.9,1351.9 1036.9,1352.5 1039.9,1353.1 1043,1353.7 1046,1354.3 1049.1,1354.8 1052.1,1355.4 1055.1,1356 1058.2,1356.5 1061.2,1357.1 1064.2,1357.7 1067.3,1358.2 1070.3,1358.8 1073.3,1359.3 1076.4,1359.9 1079.4,1360.5 1082.5,1361 1085.5,1361.6 1088.5,1362.2 1091.6,1362.7 1094.6,1363.3 1097.6,1363.8 1100.7,1364.4 1103.7,1365 1106.7,1365.5 1109.8,1366.1 1112.8,1366.7 1115.9,1367.2 1118.9,1367.7 1121.9,1368.2 1125,1368.6 1128,1369.1 1131,1369.6 1134.1,1370.1 1137.1,1370.5 1140.1,1371 1143.2,1371.5 1146.2,1372 1149.3,1372.4 1152.3,1372.9 1155.3,1373.4 1158.4,1373.9 1161.4,1374.3 1164.4,1374.8 1167.5,1375.3 1170.5,1375.8 1173.5,1376.3 1176.6,1376.7 1179.6,1377.2 1182.7,1377.7 1185.7,1378.1 1188.7,1378.6 1191.8,1379 1194.8,1379.5 1197.8,1380 1200.9,1380.4 1203.9,1380.9 1206.9,1381.3 1210,1381.8 1213,1382.2 1216.1,1382.7 1219.1,1383.1 1222.1,1383.6 1225.2,1384 1228.2,1384.5 1231.2,1384.9 1234.3,1385.4 1237.3,1385.8 1240.3,1386.3 1243.4,1386.7 1246.4,1387.2 1249.5,1387.6 1252.5,1388.1 1255.5,1388.5 1258.6,1389 1261.6,1389.4" fill="none" stroke="#70b070" stroke-width="1.2" stroke-linejoin="round" />
<g><circle cx="839.7" cy="1228.4" r="4.6" fill="#fff0e2" stroke="#e0a878" stroke-width="1.1"/><circle cx="857.6" cy="1241.8" r="4.6" fill="#fff0e2" stroke="#e0a878" stroke-width="1.1"/><circle cx="863.8" cy="1250" r="4.6" fill="#fff0e2" stroke="#e0a878" stroke-width="1.1"/><circle cx="868" cy="1255.4" r="4.6" fill="#fff0e2" stroke="#e0a878" stroke-width="1.1"/><circle cx="872.1" cy="1260.6" r="4.6" fill="#fff0e2" stroke="#e0a878" stroke-width="1.1"/><circle cx="876.3" cy="1265.9" r="4.6" fill="#fff0e2" stroke="#e0a878" stroke-width="1.1"/><circle cx="880.4" cy="1271.1" r="4.6" fill="#fff0e2" stroke="#e0a878" stroke-width="1.1"/><circle cx="884.5" cy="1275.5" r="4.6" fill="#fff0e2" stroke="#e0a878" stroke-width="1.1"/><circle cx="888.7" cy="1279.7" r="4.6" fill="#fff0e2" stroke="#e0a878" stroke-width="1.1"/><circle cx="892.8" cy="1283.9" r="4.6" fill="#fff0e2" stroke="#e0a878" stroke-width="1.1"/><circle cx="897" cy="1288.1" r="4.6" fill="#fff0e2" stroke="#e0a878" stroke-width="1.1"/><circle cx="901.1" cy="1292.3" r="4.6" fill="#fff0e2" stroke="#e0a878" stroke-width="1.1"/><circle cx="905.2" cy="1296.5" r="4.6" fill="#fff0e2" stroke="#e0a878" stroke-width="1.1"/><circle cx="909.4" cy="1300.5" r="4.6" fill="#fff0e2" stroke="#e0a878" stroke-width="1.1"/><circle cx="913.5" cy="1303.6" r="4.6" fill="#fff0e2" stroke="#e0a878" stroke-width="1.1"/><circle cx="917.7" cy="1306.8" r="4.6" fill="#fff0e2" stroke="#e0a878" stroke-width="1.1"/><circle cx="921.8" cy="1309.9" r="4.6" fill="#fff0e2" stroke="#e0a878" stroke-width="1.1"/><circle cx="925.9" cy="1313" r="4.6" fill="#fff0e2" stroke="#e0a878" stroke-width="1.1"/><circle cx="930.1" cy="1316.1" r="4.6" fill="#fff0e2" stroke="#e0a878" stroke-width="1.1"/><circle cx="934.2" cy="1319.2" r="4.6" fill="#fff0e2" stroke="#e0a878" stroke-width="1.1"/><circle cx="938.4" cy="1322.4" r="4.6" fill="#fff0e2" stroke="#e0a878" stroke-width="1.1"/><circle cx="942.5" cy="1325.5" r="4.6" fill="#fff0e2" stroke="#e0a878" stroke-width="1.1"/><circle cx="946.6" cy="1327.5" r="4.6" fill="#fff0e2" stroke="#e0a878" stroke-width="1.1"/><circle cx="950.8" cy="1329.3" r="4.6" fill="#fff0e2" stroke="#e0a878" stroke-width="1.1"/><circle cx="954.9" cy="1331.1" r="4.6" fill="#fff0e2" stroke="#e0a878" stroke-width="1.1"/><circle cx="958" cy="1332.4" r="4.6" fill="#fff0e2" stroke="#e0a878" stroke-width="1.1"/><circle cx="961" cy="1333.7" r="4.6" fill="#fff0e2" stroke="#e0a878" stroke-width="1.1"/><circle cx="964" cy="1335.1" r="4.6" fill="#fff0e2" stroke="#e0a878" stroke-width="1.1"/><circle cx="967.1" cy="1336.4" r="4.6" fill="#fff0e2" stroke="#e0a878" stroke-width="1.1"/><circle cx="970.1" cy="1337.7" r="4.6" fill="#fff0e2" stroke="#e0a878" stroke-width="1.1"/><circle cx="973.1" cy="1339" r="4.6" fill="#fff0e2" stroke="#e0a878" stroke-width="1.1"/><circle cx="976.2" cy="1340.3" r="4.6" fill="#fff0e2" stroke="#e0a878" stroke-width="1.1"/><circle cx="979.2" cy="1341.3" r="4.6" fill="#fff0e2" stroke="#e0a878" stroke-width="1.1"/><circle cx="982.3" cy="1341.9" r="4.6" fill="#fff0e2" stroke="#e0a878" stroke-width="1.1"/><circle cx="985.3" cy="1342.5" r="4.6" fill="#fff0e2" stroke="#e0a878" stroke-width="1.1"/><circle cx="988.3" cy="1343.1" r="4.6" fill="#fff0e2" stroke="#e0a878" stroke-width="1.1"/><circle cx="991.4" cy="1343.7" r="4.6" fill="#fff0e2" stroke="#e0a878" stroke-width="1.1"/><circle cx="994.4" cy="1344.2" r="4.6" fill="#fff0e2" stroke="#e0a878" stroke-width="1.1"/><circle cx="997.4" cy="1344.8" r="4.6" fill="#fff0e2" stroke="#e0a878" stroke-width="1.1"/><circle cx="1000.5" cy="1345.4" r="4.6" fill="#fff0e2" stroke="#e0a878" stroke-width="1.1"/><circle cx="1003.5" cy="1346" r="4.6" fill="#fff0e2" stroke="#e0a878" stroke-width="1.1"/><circle cx="1006.5" cy="1346.6" r="4.6" fill="#fff0e2" stroke="#e0a878" stroke-width="1.1"/><circle cx="1009.6" cy="1347.2" r="4.6" fill="#fff0e2" stroke="#e0a878" stroke-width="1.1"/><circle cx="1012.6" cy="1347.8" r="4.6" fill="#fff0e2" stroke="#e0a878" stroke-width="1.1"/><circle cx="1015.7" cy="1348.4" r="4.6" fill="#fff0e2" stroke="#e0a878" stroke-width="1.1"/><circle cx="1018.7" cy="1349" r="4.6" fill="#fff0e2" stroke="#e0a878" stroke-width="1.1"/><circle cx="1021.7" cy="1349.5" r="4.6" fill="#fff0e2" stroke="#e0a878" stroke-width="1.1"/><circle cx="1024.8" cy="1350.1" r="4.6" fill="#fff0e2" stroke="#e0a878" stroke-width="1.1"/><circle cx="1027.8" cy="1350.7" r="4.6" fill="#fff0e2" stroke="#e0a878" stroke-width="1.1"/><circle cx="1030.8" cy="1351.3" r="4.6" fill="#fff0e2" stroke="#e0a878" stroke-width="1.1"/><circle cx="1033.9" cy="1351.9" r="4.6" fill="#fff0e2" stroke="#e0a878" stroke-width="1.1"/><circle cx="1036.9" cy="1352.5" r="4.6" fill="#fff0e2" stroke="#e0a878" stroke-width="1.1"/><circle cx="1039.9" cy="1353.1" r="4.6" fill="#fff0e2" stroke="#e0a878" stroke-width="1.1"/><circle cx="1043" cy="1353.7" r="4.6" fill="#fff0e2" stroke="#e0a878" stroke-width="1.1"/><circle cx="1046" cy="1354.3" r="4.6" fill="#fff0e2" stroke="#e0a878" stroke-width="1.1"/><circle cx="1049.1" cy="1354.8" r="4.6" fill="#fff0e2" stroke="#e0a878" stroke-width="1.1"/><circle cx="1052.1" cy="1355.4" r="4.6" fill="#fff0e2" stroke="#e0a878" stroke-width="1.1"/><circle cx="1055.1" cy="1356" r="4.6" fill="#fff0e2" stroke="#e0a878" stroke-width="1.1"/><circle cx="1058.2" cy="1356.5" r="4.6" fill="#fff0e2" stroke="#e0a878" stroke-width="1.1"/><circle cx="1061.2" cy="1357.1" r="4.6" fill="#fff0e2" stroke="#e0a878" stroke-width="1.1"/><circle cx="1064.2" cy="1357.7" r="4.6" fill="#fff0e2" stroke="#e0a878" stroke-width="1.1"/><circle cx="1067.3" cy="1358.2" r="4.6" fill="#fff0e2" stroke="#e0a878" stroke-width="1.1"/><circle cx="1070.3" cy="1358.8" r="4.6" fill="#fff0e2" stroke="#e0a878" stroke-width="1.1"/><circle cx="1073.3" cy="1359.3" r="4.6" fill="#fff0e2" stroke="#e0a878" stroke-width="1.1"/><circle cx="1076.4" cy="1359.9" r="4.6" fill="#fff0e2" stroke="#e0a878" stroke-width="1.1"/><circle cx="1079.4" cy="1360.5" r="4.6" fill="#fff0e2" stroke="#e0a878" stroke-width="1.1"/><circle cx="1082.5" cy="1361" r="4.6" fill="#fff0e2" stroke="#e0a878" stroke-width="1.1"/><circle cx="1085.5" cy="1361.6" r="4.6" fill="#fff0e2" stroke="#e0a878" stroke-width="1.1"/><circle cx="1088.5" cy="1362.2" r="4.6" fill="#fff0e2" stroke="#e0a878" stroke-width="1.1"/><circle cx="1091.6" cy="1362.7" r="4.6" fill="#fff0e2" stroke="#e0a878" stroke-width="1.1"/><circle cx="1094.6" cy="1363.3" r="4.6" fill="#fff0e2" stroke="#e0a878" stroke-width="1.1"/><circle cx="1097.6" cy="1363.8" r="4.6" fill="#fff0e2" stroke="#e0a878" stroke-width="1.1"/><circle cx="1100.7" cy="1364.4" r="4.6" fill="#fff0e2" stroke="#e0a878" stroke-width="1.1"/><circle cx="1103.7" cy="1365" r="4.6" fill="#fff0e2" stroke="#e0a878" stroke-width="1.1"/><circle cx="1106.7" cy="1365.5" r="4.6" fill="#fff0e2" stroke="#e0a878" stroke-width="1.1"/><circle cx="1109.8" cy="1366.1" r="4.6" fill="#fff0e2" stroke="#e0a878" stroke-width="1.1"/><circle cx="1112.8" cy="1366.7" r="4.6" fill="#fff0e2" stroke="#e0a878" stroke-width="1.1"/><circle cx="1115.9" cy="1367.2" r="4.6" fill="#fff0e2" stroke="#e0a878" stroke-width="1.1"/><circle cx="1118.9" cy="1367.7" r="4.6" fill="#fff0e2" stroke="#e0a878" stroke-width="1.1"/><circle cx="1121.9" cy="1368.2" r="4.6" fill="#fff0e2" stroke="#e0a878" stroke-width="1.1"/><circle cx="1125" cy="1368.6" r="4.6" fill="#fff0e2" stroke="#e0a878" stroke-width="1.1"/><circle cx="1128" cy="1369.1" r="4.6" fill="#fff0e2" stroke="#e0a878" stroke-width="1.1"/><circle cx="1131" cy="1369.6" r="4.6" fill="#fff0e2" stroke="#e0a878" stroke-width="1.1"/><circle cx="1134.1" cy="1370.1" r="4.6" fill="#fff0e2" stroke="#e0a878" stroke-width="1.1"/><circle cx="1137.1" cy="1370.5" r="4.6" fill="#fff0e2" stroke="#e0a878" stroke-width="1.1"/><circle cx="1140.1" cy="1371" r="4.6" fill="#fff0e2" stroke="#e0a878" stroke-width="1.1"/><circle cx="1143.2" cy="1371.5" r="4.6" fill="#fff0e2" stroke="#e0a878" stroke-width="1.1"/><circle cx="1146.2" cy="1372" r="4.6" fill="#fff0e2" stroke="#e0a878" stroke-width="1.1"/><circle cx="1149.3" cy="1372.4" r="4.6" fill="#fff0e2" stroke="#e0a878" stroke-width="1.1"/><circle cx="1152.3" cy="1372.9" r="4.6" fill="#fff0e2" stroke="#e0a878" stroke-width="1.1"/><circle cx="1155.3" cy="1373.4" r="4.6" fill="#fff0e2" stroke="#e0a878" stroke-width="1.1"/><circle cx="1158.4" cy="1373.9" r="4.6" fill="#fff0e2" stroke="#e0a878" stroke-width="1.1"/><circle cx="1161.4" cy="1374.3" r="4.6" fill="#fff0e2" stroke="#e0a878" stroke-width="1.1"/><circle cx="1164.4" cy="1374.8" r="4.6" fill="#fff0e2" stroke="#e0a878" stroke-width="1.1"/><circle cx="1167.5" cy="1375.3" r="4.6" fill="#fff0e2" stroke="#e0a878" stroke-width="1.1"/><circle cx="1170.5" cy="1375.8" r="4.6" fill="#fff0e2" stroke="#e0a878" stroke-width="1.1"/><circle cx="1173.5" cy="1376.3" r="4.6" fill="#fff0e2" stroke="#e0a878" stroke-width="1.1"/><circle cx="1176.6" cy="1376.7" r="4.6" fill="#fff0e2" stroke="#e0a878" stroke-width="1.1"/><circle cx="1179.6" cy="1377.2" r="4.6" fill="#fff0e2" stroke="#e0a878" stroke-width="1.1"/><circle cx="1182.7" cy="1377.7" r="4.6" fill="#fff0e2" stroke="#e0a878" stroke-width="1.1"/><circle cx="1185.7" cy="1378.1" r="4.6" fill="#fff0e2" stroke="#e0a878" stroke-width="1.1"/><circle cx="1188.7" cy="1378.6" r="4.6" fill="#fff0e2" stroke="#e0a878" stroke-width="1.1"/><circle cx="1191.8" cy="1379" r="4.6" fill="#fff0e2" stroke="#e0a878" stroke-width="1.1"/><circle cx="1194.8" cy="1379.5" r="4.6" fill="#fff0e2" stroke="#e0a878" stroke-width="1.1"/><circle cx="1197.8" cy="1380" r="4.6" fill="#fff0e2" stroke="#e0a878" stroke-width="1.1"/><circle cx="1200.9" cy="1380.4" r="4.6" fill="#fff0e2" stroke="#e0a878" stroke-width="1.1"/><circle cx="1203.9" cy="1380.9" r="4.6" fill="#fff0e2" stroke="#e0a878" stroke-width="1.1"/><circle cx="1206.9" cy="1381.3" r="4.6" fill="#fff0e2" stroke="#e0a878" stroke-width="1.1"/><circle cx="1210" cy="1381.8" r="4.6" fill="#fff0e2" stroke="#e0a878" stroke-width="1.1"/><circle cx="1213" cy="1382.2" r="4.6" fill="#fff0e2" stroke="#e0a878" stroke-width="1.1"/><circle cx="1216.1" cy="1382.7" r="4.6" fill="#fff0e2" stroke="#e0a878" stroke-width="1.1"/><circle cx="1219.1" cy="1383.1" r="4.6" fill="#fff0e2" stroke="#e0a878" stroke-width="1.1"/><circle cx="1222.1" cy="1383.6" r="4.6" fill="#fff0e2" stroke="#e0a878" stroke-width="1.1"/><circle cx="1225.2" cy="1384" r="4.6" fill="#fff0e2" stroke="#e0a878" stroke-width="1.1"/><circle cx="1228.2" cy="1384.5" r="4.6" fill="#fff0e2" stroke="#e0a878" stroke-width="1.1"/><circle cx="1231.2" cy="1384.9" r="4.6" fill="#fff0e2" stroke="#e0a878" stroke-width="1.1"/><circle cx="1234.3" cy="1385.4" r="4.6" fill="#fff0e2" stroke="#e0a878" stroke-width="1.1"/><circle cx="1237.3" cy="1385.8" r="4.6" fill="#fff0e2" stroke="#e0a878" stroke-width="1.1"/><circle cx="1240.3" cy="1386.3" r="4.6" fill="#fff0e2" stroke="#e0a878" stroke-width="1.1"/><circle cx="1243.4" cy="1386.7" r="4.6" fill="#fff0e2" stroke="#e0a878" stroke-width="1.1"/><circle cx="1246.4" cy="1387.2" r="4.6" fill="#fff0e2" stroke="#e0a878" stroke-width="1.1"/><circle cx="1249.5" cy="1387.6" r="4.6" fill="#fff0e2" stroke="#e0a878" stroke-width="1.1"/><circle cx="1252.5" cy="1388.1" r="4.6" fill="#fff0e2" stroke="#e0a878" stroke-width="1.1"/><circle cx="1255.5" cy="1388.5" r="4.6" fill="#fff0e2" stroke="#e0a878" stroke-width="1.1"/><circle cx="1258.6" cy="1389" r="4.6" fill="#fff0e2" stroke="#e0a878" stroke-width="1.1"/><circle cx="1261.6" cy="1389.4" r="4.6" fill="#fff0e2" stroke="#e0a878" stroke-width="1.1"/></g>
<polyline points="839.7,1195.8 857.6,1232.7 863.8,1240.6 868,1245.8 872.1,1251 876.3,1256 880.4,1261.2 884.5,1265.5 888.7,1269.7 892.8,1273.9 897,1278.1 901.1,1282.3 905.2,1286.5 909.4,1290.4 913.5,1293.1 917.7,1295.7 921.8,1298.4 925.9,1301 930.1,1303.6 934.2,1306.3 938.4,1308.9 942.5,1311.6 946.6,1313.4 950.8,1315.1 954.9,1316.8 958,1318 961,1319.2 964,1320.5 967.1,1321.7 970.1,1322.9 973.1,1324.2 976.2,1325.4 979.2,1326.4 982.3,1327.2 985.3,1328 988.3,1328.8 991.4,1329.6 994.4,1330.4 997.4,1331.1 1000.5,1331.9 1003.5,1332.7 1006.5,1333.5 1009.6,1334.3 1012.6,1335.1 1015.7,1335.9 1018.7,1336.7 1021.7,1337.5 1024.8,1338.3 1027.8,1339.1 1030.8,1339.9 1033.9,1340.7 1036.9,1341.4 1039.9,1342.2 1043,1343 1046,1343.8 1049.1,1344.4 1052.1,1345 1055.1,1345.5 1058.2,1346 1061.2,1346.6 1064.2,1347.1 1067.3,1347.6 1070.3,1348.2 1073.3,1348.7 1076.4,1349.2 1079.4,1349.8 1082.5,1350.3 1085.5,1350.9 1088.5,1351.4 1091.6,1351.9 1094.6,1352.5 1097.6,1353 1100.7,1353.5 1103.7,1354.1 1106.7,1354.6 1109.8,1355.2 1112.8,1355.7 1115.9,1356.2 1118.9,1356.7 1121.9,1357.3 1125,1357.8 1128,1358.3 1131,1358.8 1134.1,1359.3 1137.1,1359.9 1140.1,1360.4 1143.2,1360.9 1146.2,1361.4 1149.3,1361.9 1152.3,1362.5 1155.3,1363 1158.4,1363.5 1161.4,1364 1164.4,1364.5 1167.5,1365 1170.5,1365.6 1173.5,1366.1 1176.6,1366.6 1179.6,1367.1 1182.7,1367.6 1185.7,1368.1 1188.7,1368.6 1191.8,1369 1194.8,1369.4 1197.8,1369.9 1200.9,1370.3 1203.9,1370.7 1206.9,1371.2 1210,1371.6 1213,1372 1216.1,1372.5 1219.1,1372.9 1222.1,1373.3 1225.2,1373.8 1228.2,1374.2 1231.2,1374.6 1234.3,1375.1 1237.3,1375.5 1240.3,1375.9 1243.4,1376.3 1246.4,1376.8 1249.5,1377.2 1252.5,1377.6 1255.5,1378.1 1258.6,1378.5 1261.6,1378.9" fill="none" stroke="#8a1a1a" stroke-width="1.2" stroke-linejoin="round" />
<g><circle cx="839.7" cy="1195.8" r="4.5" fill="#d01818" stroke="#a01010" stroke-width="1.1"/><circle cx="857.6" cy="1232.7" r="4.5" fill="#d01818" stroke="#a01010" stroke-width="1.1"/><circle cx="863.8" cy="1240.6" r="4.5" fill="#d01818" stroke="#a01010" stroke-width="1.1"/><circle cx="868" cy="1245.8" r="4.5" fill="#d01818" stroke="#a01010" stroke-width="1.1"/><circle cx="872.1" cy="1251" r="4.5" fill="#d01818" stroke="#a01010" stroke-width="1.1"/><circle cx="876.3" cy="1256" r="4.5" fill="#d01818" stroke="#a01010" stroke-width="1.1"/><circle cx="880.4" cy="1261.2" r="4.5" fill="#d01818" stroke="#a01010" stroke-width="1.1"/><circle cx="884.5" cy="1265.5" r="4.5" fill="#d01818" stroke="#a01010" stroke-width="1.1"/><circle cx="888.7" cy="1269.7" r="4.5" fill="#d01818" stroke="#a01010" stroke-width="1.1"/><circle cx="892.8" cy="1273.9" r="4.5" fill="#d01818" stroke="#a01010" stroke-width="1.1"/><circle cx="897" cy="1278.1" r="4.5" fill="#d01818" stroke="#a01010" stroke-width="1.1"/><circle cx="901.1" cy="1282.3" r="4.5" fill="#d01818" stroke="#a01010" stroke-width="1.1"/><circle cx="905.2" cy="1286.5" r="4.5" fill="#d01818" stroke="#a01010" stroke-width="1.1"/><circle cx="909.4" cy="1290.4" r="4.5" fill="#d01818" stroke="#a01010" stroke-width="1.1"/><circle cx="913.5" cy="1293.1" r="4.5" fill="#d01818" stroke="#a01010" stroke-width="1.1"/><circle cx="917.7" cy="1295.7" r="4.5" fill="#d01818" stroke="#a01010" stroke-width="1.1"/><circle cx="921.8" cy="1298.4" r="4.5" fill="#d01818" stroke="#a01010" stroke-width="1.1"/><circle cx="925.9" cy="1301" r="4.5" fill="#d01818" stroke="#a01010" stroke-width="1.1"/><circle cx="930.1" cy="1303.6" r="4.5" fill="#d01818" stroke="#a01010" stroke-width="1.1"/><circle cx="934.2" cy="1306.3" r="4.5" fill="#d01818" stroke="#a01010" stroke-width="1.1"/><circle cx="938.4" cy="1308.9" r="4.5" fill="#d01818" stroke="#a01010" stroke-width="1.1"/><circle cx="942.5" cy="1311.6" r="4.5" fill="#d01818" stroke="#a01010" stroke-width="1.1"/><circle cx="946.6" cy="1313.4" r="4.5" fill="#d01818" stroke="#a01010" stroke-width="1.1"/><circle cx="950.8" cy="1315.1" r="4.5" fill="#d01818" stroke="#a01010" stroke-width="1.1"/><circle cx="954.9" cy="1316.8" r="4.5" fill="#d01818" stroke="#a01010" stroke-width="1.1"/><circle cx="958" cy="1318" r="4.5" fill="#d01818" stroke="#a01010" stroke-width="1.1"/><circle cx="961" cy="1319.2" r="4.5" fill="#d01818" stroke="#a01010" stroke-width="1.1"/><circle cx="964" cy="1320.5" r="4.5" fill="#d01818" stroke="#a01010" stroke-width="1.1"/><circle cx="967.1" cy="1321.7" r="4.5" fill="#d01818" stroke="#a01010" stroke-width="1.1"/><circle cx="970.1" cy="1322.9" r="4.5" fill="#d01818" stroke="#a01010" stroke-width="1.1"/><circle cx="973.1" cy="1324.2" r="4.5" fill="#d01818" stroke="#a01010" stroke-width="1.1"/><circle cx="976.2" cy="1325.4" r="4.5" fill="#d01818" stroke="#a01010" stroke-width="1.1"/><circle cx="979.2" cy="1326.4" r="4.5" fill="#d01818" stroke="#a01010" stroke-width="1.1"/><circle cx="982.3" cy="1327.2" r="4.5" fill="#d01818" stroke="#a01010" stroke-width="1.1"/><circle cx="985.3" cy="1328" r="4.5" fill="#d01818" stroke="#a01010" stroke-width="1.1"/><circle cx="988.3" cy="1328.8" r="4.5" fill="#d01818" stroke="#a01010" stroke-width="1.1"/><circle cx="991.4" cy="1329.6" r="4.5" fill="#d01818" stroke="#a01010" stroke-width="1.1"/><circle cx="994.4" cy="1330.4" r="4.5" fill="#d01818" stroke="#a01010" stroke-width="1.1"/><circle cx="997.4" cy="1331.1" r="4.5" fill="#d01818" stroke="#a01010" stroke-width="1.1"/><circle cx="1000.5" cy="1331.9" r="4.5" fill="#d01818" stroke="#a01010" stroke-width="1.1"/><circle cx="1003.5" cy="1332.7" r="4.5" fill="#d01818" stroke="#a01010" stroke-width="1.1"/><circle cx="1006.5" cy="1333.5" r="4.5" fill="#d01818" stroke="#a01010" stroke-width="1.1"/><circle cx="1009.6" cy="1334.3" r="4.5" fill="#d01818" stroke="#a01010" stroke-width="1.1"/><circle cx="1012.6" cy="1335.1" r="4.5" fill="#d01818" stroke="#a01010" stroke-width="1.1"/><circle cx="1015.7" cy="1335.9" r="4.5" fill="#d01818" stroke="#a01010" stroke-width="1.1"/><circle cx="1018.7" cy="1336.7" r="4.5" fill="#d01818" stroke="#a01010" stroke-width="1.1"/><circle cx="1021.7" cy="1337.5" r="4.5" fill="#d01818" stroke="#a01010" stroke-width="1.1"/><circle cx="1024.8" cy="1338.3" r="4.5" fill="#d01818" stroke="#a01010" stroke-width="1.1"/><circle cx="1027.8" cy="1339.1" r="4.5" fill="#d01818" stroke="#a01010" stroke-width="1.1"/><circle cx="1030.8" cy="1339.9" r="4.5" fill="#d01818" stroke="#a01010" stroke-width="1.1"/><circle cx="1033.9" cy="1340.7" r="4.5" fill="#d01818" stroke="#a01010" stroke-width="1.1"/><circle cx="1036.9" cy="1341.4" r="4.5" fill="#d01818" stroke="#a01010" stroke-width="1.1"/><circle cx="1039.9" cy="1342.2" r="4.5" fill="#d01818" stroke="#a01010" stroke-width="1.1"/><circle cx="1043" cy="1343" r="4.5" fill="#d01818" stroke="#a01010" stroke-width="1.1"/><circle cx="1046" cy="1343.8" r="4.5" fill="#d01818" stroke="#a01010" stroke-width="1.1"/><circle cx="1049.1" cy="1344.4" r="4.5" fill="#d01818" stroke="#a01010" stroke-width="1.1"/><circle cx="1052.1" cy="1345" r="4.5" fill="#d01818" stroke="#a01010" stroke-width="1.1"/><circle cx="1055.1" cy="1345.5" r="4.5" fill="#d01818" stroke="#a01010" stroke-width="1.1"/><circle cx="1058.2" cy="1346" r="4.5" fill="#d01818" stroke="#a01010" stroke-width="1.1"/><circle cx="1061.2" cy="1346.6" r="4.5" fill="#d01818" stroke="#a01010" stroke-width="1.1"/><circle cx="1064.2" cy="1347.1" r="4.5" fill="#d01818" stroke="#a01010" stroke-width="1.1"/><circle cx="1067.3" cy="1347.6" r="4.5" fill="#d01818" stroke="#a01010" stroke-width="1.1"/><circle cx="1070.3" cy="1348.2" r="4.5" fill="#d01818" stroke="#a01010" stroke-width="1.1"/><circle cx="1073.3" cy="1348.7" r="4.5" fill="#d01818" stroke="#a01010" stroke-width="1.1"/><circle cx="1076.4" cy="1349.2" r="4.5" fill="#d01818" stroke="#a01010" stroke-width="1.1"/><circle cx="1079.4" cy="1349.8" r="4.5" fill="#d01818" stroke="#a01010" stroke-width="1.1"/><circle cx="1082.5" cy="1350.3" r="4.5" fill="#d01818" stroke="#a01010" stroke-width="1.1"/><circle cx="1085.5" cy="1350.9" r="4.5" fill="#d01818" stroke="#a01010" stroke-width="1.1"/><circle cx="1088.5" cy="1351.4" r="4.5" fill="#d01818" stroke="#a01010" stroke-width="1.1"/><circle cx="1091.6" cy="1351.9" r="4.5" fill="#d01818" stroke="#a01010" stroke-width="1.1"/><circle cx="1094.6" cy="1352.5" r="4.5" fill="#d01818" stroke="#a01010" stroke-width="1.1"/><circle cx="1097.6" cy="1353" r="4.5" fill="#d01818" stroke="#a01010" stroke-width="1.1"/><circle cx="1100.7" cy="1353.5" r="4.5" fill="#d01818" stroke="#a01010" stroke-width="1.1"/><circle cx="1103.7" cy="1354.1" r="4.5" fill="#d01818" stroke="#a01010" stroke-width="1.1"/><circle cx="1106.7" cy="1354.6" r="4.5" fill="#d01818" stroke="#a01010" stroke-width="1.1"/><circle cx="1109.8" cy="1355.2" r="4.5" fill="#d01818" stroke="#a01010" stroke-width="1.1"/><circle cx="1112.8" cy="1355.7" r="4.5" fill="#d01818" stroke="#a01010" stroke-width="1.1"/><circle cx="1115.9" cy="1356.2" r="4.5" fill="#d01818" stroke="#a01010" stroke-width="1.1"/><circle cx="1118.9" cy="1356.7" r="4.5" fill="#d01818" stroke="#a01010" stroke-width="1.1"/><circle cx="1121.9" cy="1357.3" r="4.5" fill="#d01818" stroke="#a01010" stroke-width="1.1"/><circle cx="1125" cy="1357.8" r="4.5" fill="#d01818" stroke="#a01010" stroke-width="1.1"/><circle cx="1128" cy="1358.3" r="4.5" fill="#d01818" stroke="#a01010" stroke-width="1.1"/><circle cx="1131" cy="1358.8" r="4.5" fill="#d01818" stroke="#a01010" stroke-width="1.1"/><circle cx="1134.1" cy="1359.3" r="4.5" fill="#d01818" stroke="#a01010" stroke-width="1.1"/><circle cx="1137.1" cy="1359.9" r="4.5" fill="#d01818" stroke="#a01010" stroke-width="1.1"/><circle cx="1140.1" cy="1360.4" r="4.5" fill="#d01818" stroke="#a01010" stroke-width="1.1"/><circle cx="1143.2" cy="1360.9" r="4.5" fill="#d01818" stroke="#a01010" stroke-width="1.1"/><circle cx="1146.2" cy="1361.4" r="4.5" fill="#d01818" stroke="#a01010" stroke-width="1.1"/><circle cx="1149.3" cy="1361.9" r="4.5" fill="#d01818" stroke="#a01010" stroke-width="1.1"/><circle cx="1152.3" cy="1362.5" r="4.5" fill="#d01818" stroke="#a01010" stroke-width="1.1"/><circle cx="1155.3" cy="1363" r="4.5" fill="#d01818" stroke="#a01010" stroke-width="1.1"/><circle cx="1158.4" cy="1363.5" r="4.5" fill="#d01818" stroke="#a01010" stroke-width="1.1"/><circle cx="1161.4" cy="1364" r="4.5" fill="#d01818" stroke="#a01010" stroke-width="1.1"/><circle cx="1164.4" cy="1364.5" r="4.5" fill="#d01818" stroke="#a01010" stroke-width="1.1"/><circle cx="1167.5" cy="1365" r="4.5" fill="#d01818" stroke="#a01010" stroke-width="1.1"/><circle cx="1170.5" cy="1365.6" r="4.5" fill="#d01818" stroke="#a01010" stroke-width="1.1"/><circle cx="1173.5" cy="1366.1" r="4.5" fill="#d01818" stroke="#a01010" stroke-width="1.1"/><circle cx="1176.6" cy="1366.6" r="4.5" fill="#d01818" stroke="#a01010" stroke-width="1.1"/><circle cx="1179.6" cy="1367.1" r="4.5" fill="#d01818" stroke="#a01010" stroke-width="1.1"/><circle cx="1182.7" cy="1367.6" r="4.5" fill="#d01818" stroke="#a01010" stroke-width="1.1"/><circle cx="1185.7" cy="1368.1" r="4.5" fill="#d01818" stroke="#a01010" stroke-width="1.1"/><circle cx="1188.7" cy="1368.6" r="4.5" fill="#d01818" stroke="#a01010" stroke-width="1.1"/><circle cx="1191.8" cy="1369" r="4.5" fill="#d01818" stroke="#a01010" stroke-width="1.1"/><circle cx="1194.8" cy="1369.4" r="4.5" fill="#d01818" stroke="#a01010" stroke-width="1.1"/><circle cx="1197.8" cy="1369.9" r="4.5" fill="#d01818" stroke="#a01010" stroke-width="1.1"/><circle cx="1200.9" cy="1370.3" r="4.5" fill="#d01818" stroke="#a01010" stroke-width="1.1"/><circle cx="1203.9" cy="1370.7" r="4.5" fill="#d01818" stroke="#a01010" stroke-width="1.1"/><circle cx="1206.9" cy="1371.2" r="4.5" fill="#d01818" stroke="#a01010" stroke-width="1.1"/><circle cx="1210" cy="1371.6" r="4.5" fill="#d01818" stroke="#a01010" stroke-width="1.1"/><circle cx="1213" cy="1372" r="4.5" fill="#d01818" stroke="#a01010" stroke-width="1.1"/><circle cx="1216.1" cy="1372.5" r="4.5" fill="#d01818" stroke="#a01010" stroke-width="1.1"/><circle cx="1219.1" cy="1372.9" r="4.5" fill="#d01818" stroke="#a01010" stroke-width="1.1"/><circle cx="1222.1" cy="1373.3" r="4.5" fill="#d01818" stroke="#a01010" stroke-width="1.1"/><circle cx="1225.2" cy="1373.8" r="4.5" fill="#d01818" stroke="#a01010" stroke-width="1.1"/><circle cx="1228.2" cy="1374.2" r="4.5" fill="#d01818" stroke="#a01010" stroke-width="1.1"/><circle cx="1231.2" cy="1374.6" r="4.5" fill="#d01818" stroke="#a01010" stroke-width="1.1"/><circle cx="1234.3" cy="1375.1" r="4.5" fill="#d01818" stroke="#a01010" stroke-width="1.1"/><circle cx="1237.3" cy="1375.5" r="4.5" fill="#d01818" stroke="#a01010" stroke-width="1.1"/><circle cx="1240.3" cy="1375.9" r="4.5" fill="#d01818" stroke="#a01010" stroke-width="1.1"/><circle cx="1243.4" cy="1376.3" r="4.5" fill="#d01818" stroke="#a01010" stroke-width="1.1"/><circle cx="1246.4" cy="1376.8" r="4.5" fill="#d01818" stroke="#a01010" stroke-width="1.1"/><circle cx="1249.5" cy="1377.2" r="4.5" fill="#d01818" stroke="#a01010" stroke-width="1.1"/><circle cx="1252.5" cy="1377.6" r="4.5" fill="#d01818" stroke="#a01010" stroke-width="1.1"/><circle cx="1255.5" cy="1378.1" r="4.5" fill="#d01818" stroke="#a01010" stroke-width="1.1"/><circle cx="1258.6" cy="1378.5" r="4.5" fill="#d01818" stroke="#a01010" stroke-width="1.1"/><circle cx="1261.6" cy="1378.9" r="4.5" fill="#d01818" stroke="#a01010" stroke-width="1.1"/></g>
<polyline points="839.7,1183 857.6,1220 863.8,1227.7 868,1232.9 872.1,1238.3 876.3,1243.7 880.4,1249.1 884.5,1254 888.7,1258.8 892.8,1263.6 897,1268.1 901.1,1272.3 905.2,1276.5 909.4,1280.4 913.5,1283.1 917.7,1285.7 921.8,1288.4 925.9,1291 930.1,1293.6 934.2,1296.3 938.4,1298.9 942.5,1301.6 946.6,1303.7 950.8,1305.6 954.9,1307.6 958,1309.1 961,1310.5 964,1312 967.1,1313.4 970.1,1314.9 973.1,1316.3 976.2,1317.8 979.2,1318.9 982.3,1319.7 985.3,1320.5 988.3,1321.3 991.4,1322.2 994.4,1323 997.4,1323.8 1000.5,1324.6 1003.5,1325.4 1006.5,1326.2 1009.6,1327 1012.6,1327.9 1015.7,1328.7 1018.7,1329.5 1021.7,1330.3 1024.8,1331.1 1027.8,1331.9 1030.8,1332.7 1033.9,1333.6 1036.9,1334.4 1039.9,1335.2 1043,1336 1046,1336.8 1049.1,1337.4 1052.1,1337.9 1055.1,1338.5 1058.2,1339 1061.2,1339.5 1064.2,1340 1067.3,1340.6 1070.3,1341.1 1073.3,1341.6 1076.4,1342.2 1079.4,1342.7 1082.5,1343.2 1085.5,1343.7 1088.5,1344.3 1091.6,1344.8 1094.6,1345.3 1097.6,1345.9 1100.7,1346.4 1103.7,1346.9 1106.7,1347.4 1109.8,1348 1112.8,1348.5 1115.9,1349 1118.9,1349.5 1121.9,1349.9 1125,1350.4 1128,1350.9 1131,1351.3 1134.1,1351.8 1137.1,1352.3 1140.1,1352.7 1143.2,1353.2 1146.2,1353.6 1149.3,1354.1 1152.3,1354.6 1155.3,1355 1158.4,1355.5 1161.4,1356 1164.4,1356.4 1167.5,1356.9 1170.5,1357.3 1173.5,1357.8 1176.6,1358.3 1179.6,1358.7 1182.7,1359.2 1185.7,1359.6 1188.7,1359.9 1191.8,1360.3 1194.8,1360.6 1197.8,1360.9 1200.9,1361.3 1203.9,1361.6 1206.9,1361.9 1210,1362.3 1213,1362.6 1216.1,1362.9 1219.1,1363.3 1222.1,1363.6 1225.2,1363.9 1228.2,1364.3 1231.2,1364.6 1234.3,1364.9 1237.3,1365.3 1240.3,1365.6 1243.4,1366 1246.4,1366.3 1249.5,1366.6 1252.5,1367 1255.5,1367.3 1258.6,1367.6 1261.6,1368" fill="none" stroke="#80d8e8" stroke-width="1.2" stroke-linejoin="round" />
<g><polygon points="835,1178.8 844.4,1178.8 839.7,1187.2" fill="#d8f6fc" stroke="#78d4e4" stroke-width="1.1"/><polygon points="852.9,1215.8 862.3,1215.8 857.6,1224.2" fill="#d8f6fc" stroke="#78d4e4" stroke-width="1.1"/><polygon points="859.1,1223.5 868.5,1223.5 863.8,1231.9" fill="#d8f6fc" stroke="#78d4e4" stroke-width="1.1"/><polygon points="863.3,1228.7 872.7,1228.7 868,1237.1" fill="#d8f6fc" stroke="#78d4e4" stroke-width="1.1"/><polygon points="867.4,1234.1 876.8,1234.1 872.1,1242.5" fill="#d8f6fc" stroke="#78d4e4" stroke-width="1.1"/><polygon points="871.6,1239.5 881,1239.5 876.3,1247.9" fill="#d8f6fc" stroke="#78d4e4" stroke-width="1.1"/><polygon points="875.7,1244.9 885.1,1244.9 880.4,1253.3" fill="#d8f6fc" stroke="#78d4e4" stroke-width="1.1"/><polygon points="879.8,1249.8 889.2,1249.8 884.5,1258.2" fill="#d8f6fc" stroke="#78d4e4" stroke-width="1.1"/><polygon points="884,1254.6 893.4,1254.6 888.7,1263" fill="#d8f6fc" stroke="#78d4e4" stroke-width="1.1"/><polygon points="888.1,1259.4 897.5,1259.4 892.8,1267.8" fill="#d8f6fc" stroke="#78d4e4" stroke-width="1.1"/><polygon points="892.3,1263.9 901.7,1263.9 897,1272.3" fill="#d8f6fc" stroke="#78d4e4" stroke-width="1.1"/><polygon points="896.4,1268.1 905.8,1268.1 901.1,1276.5" fill="#d8f6fc" stroke="#78d4e4" stroke-width="1.1"/><polygon points="900.5,1272.3 909.9,1272.3 905.2,1280.7" fill="#d8f6fc" stroke="#78d4e4" stroke-width="1.1"/><polygon points="904.7,1276.2 914.1,1276.2 909.4,1284.7" fill="#d8f6fc" stroke="#78d4e4" stroke-width="1.1"/><polygon points="908.8,1278.8 918.2,1278.8 913.5,1287.3" fill="#d8f6fc" stroke="#78d4e4" stroke-width="1.1"/><polygon points="913,1281.5 922.4,1281.5 917.7,1290" fill="#d8f6fc" stroke="#78d4e4" stroke-width="1.1"/><polygon points="917.1,1284.1 926.5,1284.1 921.8,1292.6" fill="#d8f6fc" stroke="#78d4e4" stroke-width="1.1"/><polygon points="921.2,1286.8 930.6,1286.8 925.9,1295.2" fill="#d8f6fc" stroke="#78d4e4" stroke-width="1.1"/><polygon points="925.4,1289.4 934.8,1289.4 930.1,1297.9" fill="#d8f6fc" stroke="#78d4e4" stroke-width="1.1"/><polygon points="929.5,1292 938.9,1292 934.2,1300.5" fill="#d8f6fc" stroke="#78d4e4" stroke-width="1.1"/><polygon points="933.7,1294.7 943.1,1294.7 938.4,1303.2" fill="#d8f6fc" stroke="#78d4e4" stroke-width="1.1"/><polygon points="937.8,1297.3 947.2,1297.3 942.5,1305.8" fill="#d8f6fc" stroke="#78d4e4" stroke-width="1.1"/><polygon points="941.9,1299.4 951.3,1299.4 946.6,1307.9" fill="#d8f6fc" stroke="#78d4e4" stroke-width="1.1"/><polygon points="946.1,1301.4 955.5,1301.4 950.8,1309.9" fill="#d8f6fc" stroke="#78d4e4" stroke-width="1.1"/><polygon points="950.2,1303.4 959.6,1303.4 954.9,1311.8" fill="#d8f6fc" stroke="#78d4e4" stroke-width="1.1"/><polygon points="953.3,1304.8 962.7,1304.8 958,1313.3" fill="#d8f6fc" stroke="#78d4e4" stroke-width="1.1"/><polygon points="956.3,1306.3 965.7,1306.3 961,1314.7" fill="#d8f6fc" stroke="#78d4e4" stroke-width="1.1"/><polygon points="959.3,1307.7 968.7,1307.7 964,1316.2" fill="#d8f6fc" stroke="#78d4e4" stroke-width="1.1"/><polygon points="962.4,1309.2 971.8,1309.2 967.1,1317.6" fill="#d8f6fc" stroke="#78d4e4" stroke-width="1.1"/><polygon points="965.4,1310.6 974.8,1310.6 970.1,1319.1" fill="#d8f6fc" stroke="#78d4e4" stroke-width="1.1"/><polygon points="968.4,1312.1 977.8,1312.1 973.1,1320.6" fill="#d8f6fc" stroke="#78d4e4" stroke-width="1.1"/><polygon points="971.5,1313.5 980.9,1313.5 976.2,1322" fill="#d8f6fc" stroke="#78d4e4" stroke-width="1.1"/><polygon points="974.5,1314.7 983.9,1314.7 979.2,1323.1" fill="#d8f6fc" stroke="#78d4e4" stroke-width="1.1"/><polygon points="977.6,1315.5 987,1315.5 982.3,1324" fill="#d8f6fc" stroke="#78d4e4" stroke-width="1.1"/><polygon points="980.6,1316.3 990,1316.3 985.3,1324.8" fill="#d8f6fc" stroke="#78d4e4" stroke-width="1.1"/><polygon points="983.6,1317.1 993,1317.1 988.3,1325.6" fill="#d8f6fc" stroke="#78d4e4" stroke-width="1.1"/><polygon points="986.7,1317.9 996.1,1317.9 991.4,1326.4" fill="#d8f6fc" stroke="#78d4e4" stroke-width="1.1"/><polygon points="989.7,1318.7 999.1,1318.7 994.4,1327.2" fill="#d8f6fc" stroke="#78d4e4" stroke-width="1.1"/><polygon points="992.7,1319.6 1002.1,1319.6 997.4,1328" fill="#d8f6fc" stroke="#78d4e4" stroke-width="1.1"/><polygon points="995.8,1320.4 1005.2,1320.4 1000.5,1328.8" fill="#d8f6fc" stroke="#78d4e4" stroke-width="1.1"/><polygon points="998.8,1321.2 1008.2,1321.2 1003.5,1329.6" fill="#d8f6fc" stroke="#78d4e4" stroke-width="1.1"/><polygon points="1001.8,1322 1011.2,1322 1006.5,1330.5" fill="#d8f6fc" stroke="#78d4e4" stroke-width="1.1"/><polygon points="1004.9,1322.8 1014.3,1322.8 1009.6,1331.3" fill="#d8f6fc" stroke="#78d4e4" stroke-width="1.1"/><polygon points="1007.9,1323.6 1017.3,1323.6 1012.6,1332.1" fill="#d8f6fc" stroke="#78d4e4" stroke-width="1.1"/><polygon points="1011,1324.4 1020.4,1324.4 1015.7,1332.9" fill="#d8f6fc" stroke="#78d4e4" stroke-width="1.1"/><polygon points="1014,1325.3 1023.4,1325.3 1018.7,1333.7" fill="#d8f6fc" stroke="#78d4e4" stroke-width="1.1"/><polygon points="1017,1326.1 1026.4,1326.1 1021.7,1334.5" fill="#d8f6fc" stroke="#78d4e4" stroke-width="1.1"/><polygon points="1020.1,1326.9 1029.5,1326.9 1024.8,1335.3" fill="#d8f6fc" stroke="#78d4e4" stroke-width="1.1"/><polygon points="1023.1,1327.7 1032.5,1327.7 1027.8,1336.2" fill="#d8f6fc" stroke="#78d4e4" stroke-width="1.1"/><polygon points="1026.1,1328.5 1035.5,1328.5 1030.8,1337" fill="#d8f6fc" stroke="#78d4e4" stroke-width="1.1"/><polygon points="1029.2,1329.3 1038.6,1329.3 1033.9,1337.8" fill="#d8f6fc" stroke="#78d4e4" stroke-width="1.1"/><polygon points="1032.2,1330.1 1041.6,1330.1 1036.9,1338.6" fill="#d8f6fc" stroke="#78d4e4" stroke-width="1.1"/><polygon points="1035.2,1331 1044.6,1331 1039.9,1339.4" fill="#d8f6fc" stroke="#78d4e4" stroke-width="1.1"/><polygon points="1038.3,1331.8 1047.7,1331.8 1043,1340.2" fill="#d8f6fc" stroke="#78d4e4" stroke-width="1.1"/><polygon points="1041.3,1332.6 1050.7,1332.6 1046,1341" fill="#d8f6fc" stroke="#78d4e4" stroke-width="1.1"/><polygon points="1044.4,1333.2 1053.8,1333.2 1049.1,1341.6" fill="#d8f6fc" stroke="#78d4e4" stroke-width="1.1"/><polygon points="1047.4,1333.7 1056.8,1333.7 1052.1,1342.2" fill="#d8f6fc" stroke="#78d4e4" stroke-width="1.1"/><polygon points="1050.4,1334.2 1059.8,1334.2 1055.1,1342.7" fill="#d8f6fc" stroke="#78d4e4" stroke-width="1.1"/><polygon points="1053.5,1334.8 1062.9,1334.8 1058.2,1343.2" fill="#d8f6fc" stroke="#78d4e4" stroke-width="1.1"/><polygon points="1056.5,1335.3 1065.9,1335.3 1061.2,1343.8" fill="#d8f6fc" stroke="#78d4e4" stroke-width="1.1"/><polygon points="1059.5,1335.8 1068.9,1335.8 1064.2,1344.3" fill="#d8f6fc" stroke="#78d4e4" stroke-width="1.1"/><polygon points="1062.6,1336.3 1072,1336.3 1067.3,1344.8" fill="#d8f6fc" stroke="#78d4e4" stroke-width="1.1"/><polygon points="1065.6,1336.9 1075,1336.9 1070.3,1345.3" fill="#d8f6fc" stroke="#78d4e4" stroke-width="1.1"/><polygon points="1068.6,1337.4 1078,1337.4 1073.3,1345.9" fill="#d8f6fc" stroke="#78d4e4" stroke-width="1.1"/><polygon points="1071.7,1337.9 1081.1,1337.9 1076.4,1346.4" fill="#d8f6fc" stroke="#78d4e4" stroke-width="1.1"/><polygon points="1074.7,1338.5 1084.1,1338.5 1079.4,1346.9" fill="#d8f6fc" stroke="#78d4e4" stroke-width="1.1"/><polygon points="1077.8,1339 1087.2,1339 1082.5,1347.4" fill="#d8f6fc" stroke="#78d4e4" stroke-width="1.1"/><polygon points="1080.8,1339.5 1090.2,1339.5 1085.5,1348" fill="#d8f6fc" stroke="#78d4e4" stroke-width="1.1"/><polygon points="1083.8,1340 1093.2,1340 1088.5,1348.5" fill="#d8f6fc" stroke="#78d4e4" stroke-width="1.1"/><polygon points="1086.9,1340.6 1096.3,1340.6 1091.6,1349" fill="#d8f6fc" stroke="#78d4e4" stroke-width="1.1"/><polygon points="1089.9,1341.1 1099.3,1341.1 1094.6,1349.6" fill="#d8f6fc" stroke="#78d4e4" stroke-width="1.1"/><polygon points="1092.9,1341.6 1102.3,1341.6 1097.6,1350.1" fill="#d8f6fc" stroke="#78d4e4" stroke-width="1.1"/><polygon points="1096,1342.2 1105.4,1342.2 1100.7,1350.6" fill="#d8f6fc" stroke="#78d4e4" stroke-width="1.1"/><polygon points="1099,1342.7 1108.4,1342.7 1103.7,1351.1" fill="#d8f6fc" stroke="#78d4e4" stroke-width="1.1"/><polygon points="1102,1343.2 1111.4,1343.2 1106.7,1351.7" fill="#d8f6fc" stroke="#78d4e4" stroke-width="1.1"/><polygon points="1105.1,1343.7 1114.5,1343.7 1109.8,1352.2" fill="#d8f6fc" stroke="#78d4e4" stroke-width="1.1"/><polygon points="1108.1,1344.3 1117.5,1344.3 1112.8,1352.7" fill="#d8f6fc" stroke="#78d4e4" stroke-width="1.1"/><polygon points="1111.2,1344.8 1120.6,1344.8 1115.9,1353.3" fill="#d8f6fc" stroke="#78d4e4" stroke-width="1.1"/><polygon points="1114.2,1345.3 1123.6,1345.3 1118.9,1353.7" fill="#d8f6fc" stroke="#78d4e4" stroke-width="1.1"/><polygon points="1117.2,1345.7 1126.6,1345.7 1121.9,1354.2" fill="#d8f6fc" stroke="#78d4e4" stroke-width="1.1"/><polygon points="1120.3,1346.2 1129.7,1346.2 1125,1354.6" fill="#d8f6fc" stroke="#78d4e4" stroke-width="1.1"/><polygon points="1123.3,1346.6 1132.7,1346.6 1128,1355.1" fill="#d8f6fc" stroke="#78d4e4" stroke-width="1.1"/><polygon points="1126.3,1347.1 1135.7,1347.1 1131,1355.6" fill="#d8f6fc" stroke="#78d4e4" stroke-width="1.1"/><polygon points="1129.4,1347.6 1138.8,1347.6 1134.1,1356" fill="#d8f6fc" stroke="#78d4e4" stroke-width="1.1"/><polygon points="1132.4,1348 1141.8,1348 1137.1,1356.5" fill="#d8f6fc" stroke="#78d4e4" stroke-width="1.1"/><polygon points="1135.4,1348.5 1144.8,1348.5 1140.1,1356.9" fill="#d8f6fc" stroke="#78d4e4" stroke-width="1.1"/><polygon points="1138.5,1348.9 1147.9,1348.9 1143.2,1357.4" fill="#d8f6fc" stroke="#78d4e4" stroke-width="1.1"/><polygon points="1141.5,1349.4 1150.9,1349.4 1146.2,1357.9" fill="#d8f6fc" stroke="#78d4e4" stroke-width="1.1"/><polygon points="1144.6,1349.9 1154,1349.9 1149.3,1358.3" fill="#d8f6fc" stroke="#78d4e4" stroke-width="1.1"/><polygon points="1147.6,1350.3 1157,1350.3 1152.3,1358.8" fill="#d8f6fc" stroke="#78d4e4" stroke-width="1.1"/><polygon points="1150.6,1350.8 1160,1350.8 1155.3,1359.3" fill="#d8f6fc" stroke="#78d4e4" stroke-width="1.1"/><polygon points="1153.7,1351.3 1163.1,1351.3 1158.4,1359.7" fill="#d8f6fc" stroke="#78d4e4" stroke-width="1.1"/><polygon points="1156.7,1351.7 1166.1,1351.7 1161.4,1360.2" fill="#d8f6fc" stroke="#78d4e4" stroke-width="1.1"/><polygon points="1159.7,1352.2 1169.1,1352.2 1164.4,1360.6" fill="#d8f6fc" stroke="#78d4e4" stroke-width="1.1"/><polygon points="1162.8,1352.6 1172.2,1352.6 1167.5,1361.1" fill="#d8f6fc" stroke="#78d4e4" stroke-width="1.1"/><polygon points="1165.8,1353.1 1175.2,1353.1 1170.5,1361.6" fill="#d8f6fc" stroke="#78d4e4" stroke-width="1.1"/><polygon points="1168.8,1353.6 1178.2,1353.6 1173.5,1362" fill="#d8f6fc" stroke="#78d4e4" stroke-width="1.1"/><polygon points="1171.9,1354 1181.3,1354 1176.6,1362.5" fill="#d8f6fc" stroke="#78d4e4" stroke-width="1.1"/><polygon points="1174.9,1354.5 1184.3,1354.5 1179.6,1363" fill="#d8f6fc" stroke="#78d4e4" stroke-width="1.1"/><polygon points="1178,1355 1187.4,1355 1182.7,1363.4" fill="#d8f6fc" stroke="#78d4e4" stroke-width="1.1"/><polygon points="1181,1355.4 1190.4,1355.4 1185.7,1363.8" fill="#d8f6fc" stroke="#78d4e4" stroke-width="1.1"/><polygon points="1184,1355.7 1193.4,1355.7 1188.7,1364.2" fill="#d8f6fc" stroke="#78d4e4" stroke-width="1.1"/><polygon points="1187.1,1356 1196.5,1356 1191.8,1364.5" fill="#d8f6fc" stroke="#78d4e4" stroke-width="1.1"/><polygon points="1190.1,1356.4 1199.5,1356.4 1194.8,1364.8" fill="#d8f6fc" stroke="#78d4e4" stroke-width="1.1"/><polygon points="1193.1,1356.7 1202.5,1356.7 1197.8,1365.2" fill="#d8f6fc" stroke="#78d4e4" stroke-width="1.1"/><polygon points="1196.2,1357 1205.6,1357 1200.9,1365.5" fill="#d8f6fc" stroke="#78d4e4" stroke-width="1.1"/><polygon points="1199.2,1357.4 1208.6,1357.4 1203.9,1365.8" fill="#d8f6fc" stroke="#78d4e4" stroke-width="1.1"/><polygon points="1202.2,1357.7 1211.6,1357.7 1206.9,1366.2" fill="#d8f6fc" stroke="#78d4e4" stroke-width="1.1"/><polygon points="1205.3,1358 1214.7,1358 1210,1366.5" fill="#d8f6fc" stroke="#78d4e4" stroke-width="1.1"/><polygon points="1208.3,1358.4 1217.7,1358.4 1213,1366.8" fill="#d8f6fc" stroke="#78d4e4" stroke-width="1.1"/><polygon points="1211.4,1358.7 1220.8,1358.7 1216.1,1367.2" fill="#d8f6fc" stroke="#78d4e4" stroke-width="1.1"/><polygon points="1214.4,1359 1223.8,1359 1219.1,1367.5" fill="#d8f6fc" stroke="#78d4e4" stroke-width="1.1"/><polygon points="1217.4,1359.4 1226.8,1359.4 1222.1,1367.8" fill="#d8f6fc" stroke="#78d4e4" stroke-width="1.1"/><polygon points="1220.5,1359.7 1229.9,1359.7 1225.2,1368.2" fill="#d8f6fc" stroke="#78d4e4" stroke-width="1.1"/><polygon points="1223.5,1360.1 1232.9,1360.1 1228.2,1368.5" fill="#d8f6fc" stroke="#78d4e4" stroke-width="1.1"/><polygon points="1226.5,1360.4 1235.9,1360.4 1231.2,1368.8" fill="#d8f6fc" stroke="#78d4e4" stroke-width="1.1"/><polygon points="1229.6,1360.7 1239,1360.7 1234.3,1369.2" fill="#d8f6fc" stroke="#78d4e4" stroke-width="1.1"/><polygon points="1232.6,1361.1 1242,1361.1 1237.3,1369.5" fill="#d8f6fc" stroke="#78d4e4" stroke-width="1.1"/><polygon points="1235.6,1361.4 1245,1361.4 1240.3,1369.8" fill="#d8f6fc" stroke="#78d4e4" stroke-width="1.1"/><polygon points="1238.7,1361.7 1248.1,1361.7 1243.4,1370.2" fill="#d8f6fc" stroke="#78d4e4" stroke-width="1.1"/><polygon points="1241.7,1362.1 1251.1,1362.1 1246.4,1370.5" fill="#d8f6fc" stroke="#78d4e4" stroke-width="1.1"/><polygon points="1244.8,1362.4 1254.2,1362.4 1249.5,1370.8" fill="#d8f6fc" stroke="#78d4e4" stroke-width="1.1"/><polygon points="1247.8,1362.7 1257.2,1362.7 1252.5,1371.2" fill="#d8f6fc" stroke="#78d4e4" stroke-width="1.1"/><polygon points="1250.8,1363.1 1260.2,1363.1 1255.5,1371.5" fill="#d8f6fc" stroke="#78d4e4" stroke-width="1.1"/><polygon points="1253.9,1363.4 1263.3,1363.4 1258.6,1371.9" fill="#d8f6fc" stroke="#78d4e4" stroke-width="1.1"/><polygon points="1256.9,1363.7 1266.3,1363.7 1261.6,1372.2" fill="#d8f6fc" stroke="#78d4e4" stroke-width="1.1"/></g>
<polyline points="839.7,1178.5 857.6,1216.4 863.8,1223.4 868,1228.2 872.1,1233.6 876.3,1239.1 880.4,1244.5 884.5,1249.6 888.7,1254.5 892.8,1259.5 897,1263.7 901.1,1267.2 905.2,1270.6 909.4,1273.9 913.5,1276.5 917.7,1279.1 921.8,1281.7 925.9,1284.2 930.1,1286.8 934.2,1289.4 938.4,1292 942.5,1294.6 946.6,1296.6 950.8,1298.5 954.9,1300.4 958,1301.8 961,1303.2 964,1304.5 967.1,1305.9 970.1,1307.3 973.1,1308.7 976.2,1310.1 979.2,1311.2 982.3,1312 985.3,1312.8 988.3,1313.6 991.4,1314.4 994.4,1315.2 997.4,1316 1000.5,1316.8 1003.5,1317.6 1006.5,1318.4 1009.6,1319.2 1012.6,1320 1015.7,1320.8 1018.7,1321.6 1021.7,1322.4 1024.8,1323.2 1027.8,1324 1030.8,1324.8 1033.9,1325.6 1036.9,1326.4 1039.9,1327.2 1043,1328 1046,1328.8 1049.1,1329.4 1052.1,1330 1055.1,1330.5 1058.2,1331.1 1061.2,1331.7 1064.2,1332.2 1067.3,1332.8 1070.3,1333.3 1073.3,1333.9 1076.4,1334.5 1079.4,1335 1082.5,1335.6 1085.5,1336.1 1088.5,1336.7 1091.6,1337.3 1094.6,1337.8 1097.6,1338.4 1100.7,1338.9 1103.7,1339.5 1106.7,1340 1109.8,1340.6 1112.8,1341.2 1115.9,1341.7 1118.9,1342.1 1121.9,1342.5 1125,1342.9 1128,1343.3 1131,1343.7 1134.1,1344.1 1137.1,1344.5 1140.1,1344.9 1143.2,1345.3 1146.2,1345.7 1149.3,1346.1 1152.3,1346.5 1155.3,1346.9 1158.4,1347.3 1161.4,1347.7 1164.4,1348.1 1167.5,1348.5 1170.5,1348.9 1173.5,1349.3 1176.6,1349.7 1179.6,1350.1 1182.7,1350.5 1185.7,1350.9 1188.7,1351.3 1191.8,1351.6 1194.8,1352 1197.8,1352.4 1200.9,1352.7 1203.9,1353.1 1206.9,1353.4 1210,1353.8 1213,1354.2 1216.1,1354.5 1219.1,1354.9 1222.1,1355.3 1225.2,1355.6 1228.2,1356 1231.2,1356.3 1234.3,1356.7 1237.3,1357.1 1240.3,1357.4 1243.4,1357.8 1246.4,1358.1 1249.5,1358.5 1252.5,1358.9 1255.5,1359.2 1258.6,1359.6 1261.6,1360" fill="none" stroke="#1a1a80" stroke-width="1.2" stroke-linejoin="round" />
<g><polygon points="834.9,1174.2 844.5,1174.2 839.7,1182.8" fill="#0a0aa8" stroke="#0a0a80" stroke-width="1.1"/><polygon points="852.8,1212.1 862.4,1212.1 857.6,1220.7" fill="#0a0aa8" stroke="#0a0a80" stroke-width="1.1"/><polygon points="859,1219.1 868.6,1219.1 863.8,1227.7" fill="#0a0aa8" stroke="#0a0a80" stroke-width="1.1"/><polygon points="863.2,1223.9 872.8,1223.9 868,1232.5" fill="#0a0aa8" stroke="#0a0a80" stroke-width="1.1"/><polygon points="867.3,1229.3 876.9,1229.3 872.1,1238" fill="#0a0aa8" stroke="#0a0a80" stroke-width="1.1"/><polygon points="871.5,1234.7 881.1,1234.7 876.3,1243.4" fill="#0a0aa8" stroke="#0a0a80" stroke-width="1.1"/><polygon points="875.6,1240.2 885.2,1240.2 880.4,1248.8" fill="#0a0aa8" stroke="#0a0a80" stroke-width="1.1"/><polygon points="879.7,1245.2 889.3,1245.2 884.5,1253.9" fill="#0a0aa8" stroke="#0a0a80" stroke-width="1.1"/><polygon points="883.9,1250.2 893.5,1250.2 888.7,1258.8" fill="#0a0aa8" stroke="#0a0a80" stroke-width="1.1"/><polygon points="888,1255.2 897.6,1255.2 892.8,1263.8" fill="#0a0aa8" stroke="#0a0a80" stroke-width="1.1"/><polygon points="892.2,1259.4 901.8,1259.4 897,1268" fill="#0a0aa8" stroke="#0a0a80" stroke-width="1.1"/><polygon points="896.3,1262.9 905.9,1262.9 901.1,1271.5" fill="#0a0aa8" stroke="#0a0a80" stroke-width="1.1"/><polygon points="900.4,1266.3 910,1266.3 905.2,1274.9" fill="#0a0aa8" stroke="#0a0a80" stroke-width="1.1"/><polygon points="904.6,1269.6 914.2,1269.6 909.4,1278.2" fill="#0a0aa8" stroke="#0a0a80" stroke-width="1.1"/><polygon points="908.7,1272.2 918.3,1272.2 913.5,1280.8" fill="#0a0aa8" stroke="#0a0a80" stroke-width="1.1"/><polygon points="912.9,1274.8 922.5,1274.8 917.7,1283.4" fill="#0a0aa8" stroke="#0a0a80" stroke-width="1.1"/><polygon points="917,1277.4 926.6,1277.4 921.8,1286" fill="#0a0aa8" stroke="#0a0a80" stroke-width="1.1"/><polygon points="921.1,1279.9 930.7,1279.9 925.9,1288.6" fill="#0a0aa8" stroke="#0a0a80" stroke-width="1.1"/><polygon points="925.3,1282.5 934.9,1282.5 930.1,1291.1" fill="#0a0aa8" stroke="#0a0a80" stroke-width="1.1"/><polygon points="929.4,1285.1 939,1285.1 934.2,1293.7" fill="#0a0aa8" stroke="#0a0a80" stroke-width="1.1"/><polygon points="933.6,1287.7 943.2,1287.7 938.4,1296.3" fill="#0a0aa8" stroke="#0a0a80" stroke-width="1.1"/><polygon points="937.7,1290.2 947.3,1290.2 942.5,1298.9" fill="#0a0aa8" stroke="#0a0a80" stroke-width="1.1"/><polygon points="941.8,1292.3 951.4,1292.3 946.6,1300.9" fill="#0a0aa8" stroke="#0a0a80" stroke-width="1.1"/><polygon points="946,1294.2 955.6,1294.2 950.8,1302.8" fill="#0a0aa8" stroke="#0a0a80" stroke-width="1.1"/><polygon points="950.1,1296.1 959.7,1296.1 954.9,1304.7" fill="#0a0aa8" stroke="#0a0a80" stroke-width="1.1"/><polygon points="953.2,1297.4 962.8,1297.4 958,1306.1" fill="#0a0aa8" stroke="#0a0a80" stroke-width="1.1"/><polygon points="956.2,1298.8 965.8,1298.8 961,1307.5" fill="#0a0aa8" stroke="#0a0a80" stroke-width="1.1"/><polygon points="959.2,1300.2 968.8,1300.2 964,1308.9" fill="#0a0aa8" stroke="#0a0a80" stroke-width="1.1"/><polygon points="962.3,1301.6 971.9,1301.6 967.1,1310.3" fill="#0a0aa8" stroke="#0a0a80" stroke-width="1.1"/><polygon points="965.3,1303 974.9,1303 970.1,1311.6" fill="#0a0aa8" stroke="#0a0a80" stroke-width="1.1"/><polygon points="968.3,1304.4 977.9,1304.4 973.1,1313" fill="#0a0aa8" stroke="#0a0a80" stroke-width="1.1"/><polygon points="971.4,1305.8 981,1305.8 976.2,1314.4" fill="#0a0aa8" stroke="#0a0a80" stroke-width="1.1"/><polygon points="974.4,1306.9 984,1306.9 979.2,1315.5" fill="#0a0aa8" stroke="#0a0a80" stroke-width="1.1"/><polygon points="977.5,1307.7 987.1,1307.7 982.3,1316.3" fill="#0a0aa8" stroke="#0a0a80" stroke-width="1.1"/><polygon points="980.5,1308.5 990.1,1308.5 985.3,1317.1" fill="#0a0aa8" stroke="#0a0a80" stroke-width="1.1"/><polygon points="983.5,1309.3 993.1,1309.3 988.3,1317.9" fill="#0a0aa8" stroke="#0a0a80" stroke-width="1.1"/><polygon points="986.6,1310.1 996.2,1310.1 991.4,1318.7" fill="#0a0aa8" stroke="#0a0a80" stroke-width="1.1"/><polygon points="989.6,1310.9 999.2,1310.9 994.4,1319.5" fill="#0a0aa8" stroke="#0a0a80" stroke-width="1.1"/><polygon points="992.6,1311.7 1002.2,1311.7 997.4,1320.3" fill="#0a0aa8" stroke="#0a0a80" stroke-width="1.1"/><polygon points="995.7,1312.5 1005.3,1312.5 1000.5,1321.1" fill="#0a0aa8" stroke="#0a0a80" stroke-width="1.1"/><polygon points="998.7,1313.3 1008.3,1313.3 1003.5,1321.9" fill="#0a0aa8" stroke="#0a0a80" stroke-width="1.1"/><polygon points="1001.7,1314.1 1011.3,1314.1 1006.5,1322.7" fill="#0a0aa8" stroke="#0a0a80" stroke-width="1.1"/><polygon points="1004.8,1314.9 1014.4,1314.9 1009.6,1323.5" fill="#0a0aa8" stroke="#0a0a80" stroke-width="1.1"/><polygon points="1007.8,1315.7 1017.4,1315.7 1012.6,1324.3" fill="#0a0aa8" stroke="#0a0a80" stroke-width="1.1"/><polygon points="1010.9,1316.5 1020.5,1316.5 1015.7,1325.1" fill="#0a0aa8" stroke="#0a0a80" stroke-width="1.1"/><polygon points="1013.9,1317.3 1023.5,1317.3 1018.7,1325.9" fill="#0a0aa8" stroke="#0a0a80" stroke-width="1.1"/><polygon points="1016.9,1318.1 1026.5,1318.1 1021.7,1326.7" fill="#0a0aa8" stroke="#0a0a80" stroke-width="1.1"/><polygon points="1020,1318.9 1029.6,1318.9 1024.8,1327.5" fill="#0a0aa8" stroke="#0a0a80" stroke-width="1.1"/><polygon points="1023,1319.7 1032.6,1319.7 1027.8,1328.3" fill="#0a0aa8" stroke="#0a0a80" stroke-width="1.1"/><polygon points="1026,1320.5 1035.6,1320.5 1030.8,1329.1" fill="#0a0aa8" stroke="#0a0a80" stroke-width="1.1"/><polygon points="1029.1,1321.3 1038.7,1321.3 1033.9,1329.9" fill="#0a0aa8" stroke="#0a0a80" stroke-width="1.1"/><polygon points="1032.1,1322.1 1041.7,1322.1 1036.9,1330.7" fill="#0a0aa8" stroke="#0a0a80" stroke-width="1.1"/><polygon points="1035.1,1322.9 1044.7,1322.9 1039.9,1331.5" fill="#0a0aa8" stroke="#0a0a80" stroke-width="1.1"/><polygon points="1038.2,1323.7 1047.8,1323.7 1043,1332.3" fill="#0a0aa8" stroke="#0a0a80" stroke-width="1.1"/><polygon points="1041.2,1324.5 1050.8,1324.5 1046,1333.1" fill="#0a0aa8" stroke="#0a0a80" stroke-width="1.1"/><polygon points="1044.3,1325.1 1053.9,1325.1 1049.1,1333.8" fill="#0a0aa8" stroke="#0a0a80" stroke-width="1.1"/><polygon points="1047.3,1325.7 1056.9,1325.7 1052.1,1334.3" fill="#0a0aa8" stroke="#0a0a80" stroke-width="1.1"/><polygon points="1050.3,1326.2 1059.9,1326.2 1055.1,1334.9" fill="#0a0aa8" stroke="#0a0a80" stroke-width="1.1"/><polygon points="1053.4,1326.8 1063,1326.8 1058.2,1335.4" fill="#0a0aa8" stroke="#0a0a80" stroke-width="1.1"/><polygon points="1056.4,1327.3 1066,1327.3 1061.2,1336" fill="#0a0aa8" stroke="#0a0a80" stroke-width="1.1"/><polygon points="1059.4,1327.9 1069,1327.9 1064.2,1336.5" fill="#0a0aa8" stroke="#0a0a80" stroke-width="1.1"/><polygon points="1062.5,1328.5 1072.1,1328.5 1067.3,1337.1" fill="#0a0aa8" stroke="#0a0a80" stroke-width="1.1"/><polygon points="1065.5,1329 1075.1,1329 1070.3,1337.7" fill="#0a0aa8" stroke="#0a0a80" stroke-width="1.1"/><polygon points="1068.5,1329.6 1078.1,1329.6 1073.3,1338.2" fill="#0a0aa8" stroke="#0a0a80" stroke-width="1.1"/><polygon points="1071.6,1330.1 1081.2,1330.1 1076.4,1338.8" fill="#0a0aa8" stroke="#0a0a80" stroke-width="1.1"/><polygon points="1074.6,1330.7 1084.2,1330.7 1079.4,1339.3" fill="#0a0aa8" stroke="#0a0a80" stroke-width="1.1"/><polygon points="1077.7,1331.3 1087.3,1331.3 1082.5,1339.9" fill="#0a0aa8" stroke="#0a0a80" stroke-width="1.1"/><polygon points="1080.7,1331.8 1090.3,1331.8 1085.5,1340.5" fill="#0a0aa8" stroke="#0a0a80" stroke-width="1.1"/><polygon points="1083.7,1332.4 1093.3,1332.4 1088.5,1341" fill="#0a0aa8" stroke="#0a0a80" stroke-width="1.1"/><polygon points="1086.8,1332.9 1096.4,1332.9 1091.6,1341.6" fill="#0a0aa8" stroke="#0a0a80" stroke-width="1.1"/><polygon points="1089.8,1333.5 1099.4,1333.5 1094.6,1342.1" fill="#0a0aa8" stroke="#0a0a80" stroke-width="1.1"/><polygon points="1092.8,1334.1 1102.4,1334.1 1097.6,1342.7" fill="#0a0aa8" stroke="#0a0a80" stroke-width="1.1"/><polygon points="1095.9,1334.6 1105.5,1334.6 1100.7,1343.3" fill="#0a0aa8" stroke="#0a0a80" stroke-width="1.1"/><polygon points="1098.9,1335.2 1108.5,1335.2 1103.7,1343.8" fill="#0a0aa8" stroke="#0a0a80" stroke-width="1.1"/><polygon points="1101.9,1335.7 1111.5,1335.7 1106.7,1344.4" fill="#0a0aa8" stroke="#0a0a80" stroke-width="1.1"/><polygon points="1105,1336.3 1114.6,1336.3 1109.8,1344.9" fill="#0a0aa8" stroke="#0a0a80" stroke-width="1.1"/><polygon points="1108,1336.8 1117.6,1336.8 1112.8,1345.5" fill="#0a0aa8" stroke="#0a0a80" stroke-width="1.1"/><polygon points="1111.1,1337.4 1120.7,1337.4 1115.9,1346" fill="#0a0aa8" stroke="#0a0a80" stroke-width="1.1"/><polygon points="1114.1,1337.8 1123.7,1337.8 1118.9,1346.4" fill="#0a0aa8" stroke="#0a0a80" stroke-width="1.1"/><polygon points="1117.1,1338.2 1126.7,1338.2 1121.9,1346.8" fill="#0a0aa8" stroke="#0a0a80" stroke-width="1.1"/><polygon points="1120.2,1338.6 1129.8,1338.6 1125,1347.2" fill="#0a0aa8" stroke="#0a0a80" stroke-width="1.1"/><polygon points="1123.2,1339 1132.8,1339 1128,1347.6" fill="#0a0aa8" stroke="#0a0a80" stroke-width="1.1"/><polygon points="1126.2,1339.4 1135.8,1339.4 1131,1348" fill="#0a0aa8" stroke="#0a0a80" stroke-width="1.1"/><polygon points="1129.3,1339.8 1138.9,1339.8 1134.1,1348.4" fill="#0a0aa8" stroke="#0a0a80" stroke-width="1.1"/><polygon points="1132.3,1340.2 1141.9,1340.2 1137.1,1348.8" fill="#0a0aa8" stroke="#0a0a80" stroke-width="1.1"/><polygon points="1135.3,1340.6 1144.9,1340.6 1140.1,1349.2" fill="#0a0aa8" stroke="#0a0a80" stroke-width="1.1"/><polygon points="1138.4,1341 1148,1341 1143.2,1349.6" fill="#0a0aa8" stroke="#0a0a80" stroke-width="1.1"/><polygon points="1141.4,1341.4 1151,1341.4 1146.2,1350" fill="#0a0aa8" stroke="#0a0a80" stroke-width="1.1"/><polygon points="1144.5,1341.8 1154.1,1341.8 1149.3,1350.4" fill="#0a0aa8" stroke="#0a0a80" stroke-width="1.1"/><polygon points="1147.5,1342.2 1157.1,1342.2 1152.3,1350.8" fill="#0a0aa8" stroke="#0a0a80" stroke-width="1.1"/><polygon points="1150.5,1342.6 1160.1,1342.6 1155.3,1351.2" fill="#0a0aa8" stroke="#0a0a80" stroke-width="1.1"/><polygon points="1153.6,1343 1163.2,1343 1158.4,1351.6" fill="#0a0aa8" stroke="#0a0a80" stroke-width="1.1"/><polygon points="1156.6,1343.4 1166.2,1343.4 1161.4,1352" fill="#0a0aa8" stroke="#0a0a80" stroke-width="1.1"/><polygon points="1159.6,1343.8 1169.2,1343.8 1164.4,1352.4" fill="#0a0aa8" stroke="#0a0a80" stroke-width="1.1"/><polygon points="1162.7,1344.2 1172.3,1344.2 1167.5,1352.8" fill="#0a0aa8" stroke="#0a0a80" stroke-width="1.1"/><polygon points="1165.7,1344.6 1175.3,1344.6 1170.5,1353.2" fill="#0a0aa8" stroke="#0a0a80" stroke-width="1.1"/><polygon points="1168.7,1345 1178.3,1345 1173.5,1353.6" fill="#0a0aa8" stroke="#0a0a80" stroke-width="1.1"/><polygon points="1171.8,1345.4 1181.4,1345.4 1176.6,1354" fill="#0a0aa8" stroke="#0a0a80" stroke-width="1.1"/><polygon points="1174.8,1345.8 1184.4,1345.8 1179.6,1354.4" fill="#0a0aa8" stroke="#0a0a80" stroke-width="1.1"/><polygon points="1177.9,1346.2 1187.5,1346.2 1182.7,1354.8" fill="#0a0aa8" stroke="#0a0a80" stroke-width="1.1"/><polygon points="1180.9,1346.6 1190.5,1346.6 1185.7,1355.2" fill="#0a0aa8" stroke="#0a0a80" stroke-width="1.1"/><polygon points="1183.9,1347 1193.5,1347 1188.7,1355.6" fill="#0a0aa8" stroke="#0a0a80" stroke-width="1.1"/><polygon points="1187,1347.3 1196.6,1347.3 1191.8,1356" fill="#0a0aa8" stroke="#0a0a80" stroke-width="1.1"/><polygon points="1190,1347.7 1199.6,1347.7 1194.8,1356.3" fill="#0a0aa8" stroke="#0a0a80" stroke-width="1.1"/><polygon points="1193,1348 1202.6,1348 1197.8,1356.7" fill="#0a0aa8" stroke="#0a0a80" stroke-width="1.1"/><polygon points="1196.1,1348.4 1205.7,1348.4 1200.9,1357" fill="#0a0aa8" stroke="#0a0a80" stroke-width="1.1"/><polygon points="1199.1,1348.8 1208.7,1348.8 1203.9,1357.4" fill="#0a0aa8" stroke="#0a0a80" stroke-width="1.1"/><polygon points="1202.1,1349.1 1211.7,1349.1 1206.9,1357.8" fill="#0a0aa8" stroke="#0a0a80" stroke-width="1.1"/><polygon points="1205.2,1349.5 1214.8,1349.5 1210,1358.1" fill="#0a0aa8" stroke="#0a0a80" stroke-width="1.1"/><polygon points="1208.2,1349.8 1217.8,1349.8 1213,1358.5" fill="#0a0aa8" stroke="#0a0a80" stroke-width="1.1"/><polygon points="1211.3,1350.2 1220.9,1350.2 1216.1,1358.8" fill="#0a0aa8" stroke="#0a0a80" stroke-width="1.1"/><polygon points="1214.3,1350.6 1223.9,1350.6 1219.1,1359.2" fill="#0a0aa8" stroke="#0a0a80" stroke-width="1.1"/><polygon points="1217.3,1350.9 1226.9,1350.9 1222.1,1359.6" fill="#0a0aa8" stroke="#0a0a80" stroke-width="1.1"/><polygon points="1220.4,1351.3 1230,1351.3 1225.2,1359.9" fill="#0a0aa8" stroke="#0a0a80" stroke-width="1.1"/><polygon points="1223.4,1351.7 1233,1351.7 1228.2,1360.3" fill="#0a0aa8" stroke="#0a0a80" stroke-width="1.1"/><polygon points="1226.4,1352 1236,1352 1231.2,1360.7" fill="#0a0aa8" stroke="#0a0a80" stroke-width="1.1"/><polygon points="1229.5,1352.4 1239.1,1352.4 1234.3,1361" fill="#0a0aa8" stroke="#0a0a80" stroke-width="1.1"/><polygon points="1232.5,1352.7 1242.1,1352.7 1237.3,1361.4" fill="#0a0aa8" stroke="#0a0a80" stroke-width="1.1"/><polygon points="1235.5,1353.1 1245.1,1353.1 1240.3,1361.7" fill="#0a0aa8" stroke="#0a0a80" stroke-width="1.1"/><polygon points="1238.6,1353.5 1248.2,1353.5 1243.4,1362.1" fill="#0a0aa8" stroke="#0a0a80" stroke-width="1.1"/><polygon points="1241.6,1353.8 1251.2,1353.8 1246.4,1362.5" fill="#0a0aa8" stroke="#0a0a80" stroke-width="1.1"/><polygon points="1244.7,1354.2 1254.3,1354.2 1249.5,1362.8" fill="#0a0aa8" stroke="#0a0a80" stroke-width="1.1"/><polygon points="1247.7,1354.5 1257.3,1354.5 1252.5,1363.2" fill="#0a0aa8" stroke="#0a0a80" stroke-width="1.1"/><polygon points="1250.7,1354.9 1260.3,1354.9 1255.5,1363.5" fill="#0a0aa8" stroke="#0a0a80" stroke-width="1.1"/><polygon points="1253.8,1355.3 1263.4,1355.3 1258.6,1363.9" fill="#0a0aa8" stroke="#0a0a80" stroke-width="1.1"/><polygon points="1256.8,1355.6 1266.4,1355.6 1261.6,1364.3" fill="#0a0aa8" stroke="#0a0a80" stroke-width="1.1"/></g>
<rect x="1171.4" y="1126.9" width="125.7" height="154" fill="#ffffff" stroke="#555555" stroke-width="1.8" />
<line x1="1177.6" y1="1142.8" x2="1194.2" y2="1142.8" stroke="#222222" stroke-width="1.3" />
<line x1="1207.4" y1="1142.8" x2="1223.2" y2="1142.8" stroke="#222222" stroke-width="1.3" />
<rect x="1197" y="1139" width="7.5" height="7.5" fill="#000" stroke="#000" stroke-width="1.2"/>
<text x="1230.1" y="1150" font-size="20.5" fill="#000" text-anchor="start" font-weight="normal" >50 V</text>
<line x1="1177.6" y1="1168.1" x2="1194.2" y2="1168.1" stroke="#4a4a4a" stroke-width="1.3" />
<line x1="1207.4" y1="1168.1" x2="1223.2" y2="1168.1" stroke="#4a4a4a" stroke-width="1.3" />
<rect x="1197" y="1164.4" width="7.5" height="7.5" fill="#fff" stroke="#555" stroke-width="1.2"/>
<text x="1230.1" y="1175.3" font-size="20.5" fill="#000" text-anchor="start" font-weight="normal" >50 Va</text>
<line x1="1177.6" y1="1193.5" x2="1194.2" y2="1193.5" stroke="#8a1a1a" stroke-width="1.3" />
<line x1="1207.4" y1="1193.5" x2="1223.2" y2="1193.5" stroke="#8a1a1a" stroke-width="1.3" />
<circle cx="1200.8" cy="1193.5" r="4.3" fill="#d01818" stroke="#a01010" stroke-width="1.1"/>
<text x="1230.1" y="1200.7" font-size="20.5" fill="#000" text-anchor="start" font-weight="normal" >80 V</text>
<line x1="1177.6" y1="1218.8" x2="1194.2" y2="1218.8" stroke="#70b070" stroke-width="1.3" />
<line x1="1207.4" y1="1218.8" x2="1223.2" y2="1218.8" stroke="#70b070" stroke-width="1.3" />
<circle cx="1200.8" cy="1218.8" r="4.3" fill="#fff0e2" stroke="#e0a878" stroke-width="1.1"/>
<text x="1230.1" y="1226" font-size="20.5" fill="#000" text-anchor="start" font-weight="normal" >80 Va</text>
<line x1="1177.6" y1="1244.2" x2="1194.2" y2="1244.2" stroke="#1a1a80" stroke-width="1.3" />
<line x1="1207.4" y1="1244.2" x2="1223.2" y2="1244.2" stroke="#1a1a80" stroke-width="1.3" />
<polygon points="1196.3,1240.2 1205.3,1240.2 1200.8,1248.2" fill="#0a0aa8" stroke="#0a0a80" stroke-width="1.1"/>
<text x="1230.1" y="1251.4" font-size="20.5" fill="#000" text-anchor="start" font-weight="normal" >100 V</text>
<line x1="1177.6" y1="1269.5" x2="1194.2" y2="1269.5" stroke="#80d8e8" stroke-width="1.3" />
<line x1="1207.4" y1="1269.5" x2="1223.2" y2="1269.5" stroke="#80d8e8" stroke-width="1.3" />
<polygon points="1196.3,1265.5 1205.3,1265.5 1200.8,1273.6" fill="#e8fafe" stroke="#78d4e4" stroke-width="1.1"/>
<text x="1230.1" y="1276.8" font-size="20.5" fill="#000" text-anchor="start" font-weight="normal" >100 Va</text>
<ellipse cx="1251" cy="1394.5" rx="33" ry="64" fill="none" stroke="#222" stroke-width="2.4" stroke-dasharray="10,7"/>
<line x1="1224.5" y1="1449.8" x2="1103.5" y2="1449.8" stroke="#222" stroke-width="1.3" />
<polyline points="1120.3,1439.1 1103.2,1449.8 1120.3,1460.3" fill="none" stroke="#222" stroke-width="1.3" stroke-linejoin="round" />
<text x="844" y="1461.4" font-size="26" fill="#000" text-anchor="start" font-weight="normal" >&#963;</text>
<text x="860" y="1463.6" font-size="16" fill="#000" text-anchor="start" font-weight="normal" >d</text>
<text x="874" y="1461.4" font-size="26" fill="#000" text-anchor="start" font-weight="normal" >~ 5 x 10</text>
<text x="969" y="1451.6" font-size="16" fill="#000" text-anchor="start" font-weight="normal" >&#8722;8</text>
<text x="997" y="1461.4" font-size="26" fill="#000" text-anchor="start" font-weight="normal" >&#937;</text>
<text x="1017" y="1451.6" font-size="16" fill="#000" text-anchor="start" font-weight="normal" >&#8722;1</text>
<text x="1045" y="1461.4" font-size="26" fill="#000" text-anchor="start" font-weight="normal" >cm</text>
<text x="1079" y="1451.6" font-size="16" fill="#000" text-anchor="start" font-weight="normal" >&#8722;1</text>
<rect x="0" y="1573" width="1376" height="17" fill="#ffffff" stroke="none" stroke-width="1" />
</svg>
</body></html>
